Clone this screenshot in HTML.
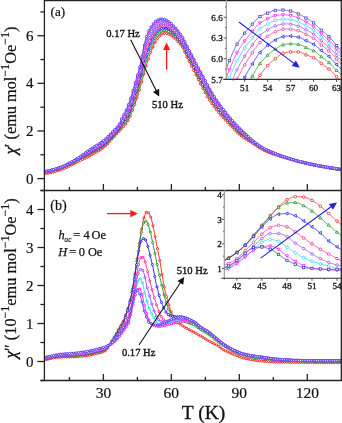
<!DOCTYPE html>
<html><head><meta charset="utf-8"><style>html,body{margin:0;padding:0;background:#fff;overflow:hidden}svg{display:block;will-change:transform}text{font-family:"Liberation Serif",serif}</style></head><body>
<svg width="342" height="423" viewBox="0 0 342 423">
<defs>
<clipPath id="ca"><rect x="44.5" y="0" width="297" height="190.5"/></clipPath>
<clipPath id="cb"><rect x="44.5" y="190.5" width="297" height="190"/></clipPath>
<clipPath id="cia"><rect x="226.3" y="0.0" width="114.89999999999998" height="79.4"/></clipPath>
<clipPath id="cib"><rect x="224.3" y="190.0" width="116.89999999999998" height="88.19999999999999"/></clipPath>
</defs>
<rect width="342" height="423" fill="#fff"/>
<g stroke="#ff1a1a" fill="none" clip-path="url(#ca)"><polyline points="44.5,173.8 45.1,173.8 45.6,173.7 46.2,173.6 46.8,173.5 47.3,173.4 47.9,173.3 48.5,173.2 49.0,173.1 49.6,172.9 50.2,172.8 50.7,172.7 51.3,172.5 51.9,172.4 52.4,172.3 53.0,172.1 53.6,172.0 54.1,171.8 54.7,171.7 55.3,171.5 55.8,171.3 56.4,171.2 57.0,171.0 57.5,170.8 58.1,170.6 58.7,170.5 59.2,170.3 59.8,170.1 60.4,169.9 60.9,169.7 61.5,169.6 62.1,169.4 62.6,169.2 63.2,168.9 63.8,168.7 64.3,168.5 64.9,168.2 65.5,168.0 66.0,167.7 66.6,167.5 67.2,167.2 67.7,166.9 68.3,166.6 68.9,166.3 69.4,166.0 70.0,165.7 70.6,165.4 71.1,165.1 71.7,164.8 72.3,164.6 72.8,164.3 73.4,164.0 74.0,163.7 74.5,163.4 75.1,163.1 75.7,162.8 76.2,162.5 76.8,162.2 77.3,162.0 77.9,161.7 78.5,161.4 79.0,161.1 79.6,160.9 80.2,160.6 80.7,160.3 81.3,160.0 81.9,159.8 82.4,159.5 83.0,159.2 83.6,158.9 84.1,158.7 84.7,158.4 85.3,158.1 85.8,157.8 86.4,157.6 87.0,157.3 87.5,157.0 88.1,156.7 88.7,156.4 89.2,156.1 89.8,155.8 90.4,155.5 90.9,155.2 91.5,154.9 92.1,154.6 92.6,154.3 93.2,154.0 93.8,153.7 94.3,153.3 94.9,153.0 95.5,152.7 96.0,152.4 96.6,152.1 97.2,151.8 97.7,151.4 98.3,151.1 98.9,150.7 99.4,150.4 100.0,150.0 100.6,149.6 101.1,149.2 101.7,148.8 102.3,148.4 102.8,148.0 103.4,147.6 104.0,147.1 104.5,146.7 105.1,146.2 105.7,145.7 106.2,145.2 106.8,144.6 107.4,144.1 107.9,143.5 108.5,142.9 109.1,142.3 109.6,141.6 110.2,141.0 110.8,140.4 111.3,139.8 111.9,139.1 112.5,138.5 113.0,137.9 113.6,137.3 114.2,136.7 114.7,136.0 115.3,135.4 115.9,134.8 116.4,134.2 117.0,133.5 117.6,132.9 118.1,132.3 118.7,131.7 119.3,131.0 119.8,130.4 120.4,129.8 121.0,129.3 121.5,128.7 122.1,128.1 122.7,127.5 123.2,126.9 123.8,126.3 124.4,125.6 124.9,125.0 125.5,124.3 126.1,123.6 126.6,122.9 127.2,122.1 127.8,121.2 128.3,120.3 128.9,119.2 129.5,118.1 130.0,116.8 130.6,115.5 131.2,114.1 131.7,112.6 132.3,111.1 132.9,109.6 133.4,108.1 134.0,106.6 134.6,105.1 135.1,103.6 135.7,102.0 136.3,100.3 136.8,98.5 137.4,96.7 138.0,94.8 138.5,92.9 139.1,91.0 139.7,89.1 140.2,87.1 140.8,85.2 141.4,83.2 141.9,81.2 142.5,79.2 143.0,77.2 143.6,75.1 144.2,73.1 144.7,71.1 145.3,69.1 145.9,67.2 146.4,65.3 147.0,63.4 147.6,61.6 148.1,59.8 148.7,58.1 149.3,56.4 149.8,54.8 150.4,53.2 151.0,51.7 151.5,50.2 152.1,48.9 152.7,47.5 153.2,46.2 153.8,44.9 154.4,43.7 154.9,42.5 155.5,41.5 156.1,40.5 156.6,39.6 157.2,38.8 157.8,38.1 158.3,37.5 158.9,36.8 159.5,36.3 160.0,35.7 160.6,35.2 161.2,34.7 161.7,34.2 162.3,33.9 162.9,33.7 163.4,33.6 164.0,33.5 164.6,33.4 165.1,33.4 165.7,33.4 166.3,33.4 166.8,33.4 167.4,33.5 168.0,33.8 168.5,34.1 169.1,34.4 169.7,34.7 170.2,34.9 170.8,35.1 171.4,35.4 171.9,35.8 172.5,36.3 173.1,36.8 173.6,37.4 174.2,37.8 174.8,38.3 175.3,38.8 175.9,39.3 176.5,39.9 177.0,40.6 177.6,41.2 178.2,41.9 178.7,42.6 179.3,43.2 179.9,43.9 180.4,44.5 181.0,45.2 181.6,46.0 182.1,46.8 182.7,47.6 183.3,48.7 183.8,50.0 184.4,51.3 185.0,52.7 185.5,54.0 186.1,55.3 186.7,56.4 187.2,57.5 187.8,58.6 188.4,59.7 188.9,60.8 189.5,61.9 190.1,63.0 190.6,64.2 191.2,65.3 191.8,66.4 192.3,67.6 192.9,68.7 193.5,69.9 194.0,71.0 194.6,72.2 195.2,73.3 195.7,74.5 196.3,75.6 196.9,76.7 197.4,77.9 198.0,79.0 198.6,80.1 199.1,81.2 199.7,82.3 200.3,83.4 200.8,84.5 201.4,85.7 202.0,86.8 202.5,87.9 203.1,89.0 203.7,90.1 204.2,91.1 204.8,92.2 205.4,93.2 205.9,94.2 206.5,95.2 207.0,96.2 207.6,97.1 208.2,98.1 208.7,99.0 209.3,99.8 209.9,100.7 210.4,101.5 211.0,102.4 211.6,103.2 212.1,104.0 212.7,104.8 213.3,105.6 213.8,106.3 214.4,107.1 215.0,107.9 215.5,108.6 216.1,109.3 216.7,110.1 217.2,110.8 217.8,111.5 218.4,112.2 218.9,112.9 219.5,113.6 220.1,114.2 220.6,114.9 221.2,115.6 221.8,116.2 222.3,116.9 222.9,117.5 223.5,118.1 224.0,118.7 224.6,119.3 225.2,119.9 225.7,120.5 226.3,121.1 226.9,121.7 227.4,122.3 228.0,122.9 228.6,123.5 229.1,124.1 229.7,124.7 230.3,125.3 230.8,125.9 231.4,126.4 232.0,127.0 232.5,127.6 233.1,128.2 233.7,128.8 234.2,129.4 234.8,130.0 235.4,130.6 235.9,131.1 236.5,131.7 237.1,132.3 237.6,132.8 238.2,133.3 238.8,133.8 239.3,134.3 239.9,134.8 240.5,135.3 241.0,135.7 241.6,136.1 242.2,136.6 242.7,137.0 243.3,137.4 243.9,137.8 244.4,138.2 245.0,138.6 245.6,138.9 246.1,139.3 246.7,139.7 247.3,140.0 247.8,140.4 248.4,140.7 249.0,141.1 249.5,141.4 250.1,141.8 250.7,142.1 251.2,142.5 251.8,142.8 252.4,143.2 252.9,143.5 253.5,143.9 254.1,144.2 254.6,144.6 255.2,144.9 255.8,145.3 256.3,145.7 256.9,146.1 257.5,146.4 258.0,146.8 258.6,147.2 259.2,147.6 259.7,147.9 260.3,148.3 260.9,148.7 261.4,149.0 262.0,149.3 262.6,149.6 263.1,149.9 263.7,150.2 264.3,150.5 264.8,150.7 265.4,151.0 266.0,151.3 266.5,151.5 267.1,151.8 267.7,152.0 268.2,152.2 268.8,152.5 269.4,152.7 269.9,152.9 270.5,153.1 271.0,153.3 271.6,153.6 272.2,153.8 272.7,154.0 273.3,154.2 273.9,154.4 274.4,154.6 275.0,154.8 275.6,155.0 276.1,155.1 276.7,155.3 277.3,155.5 277.8,155.7 278.4,155.9 279.0,156.0 279.5,156.2 280.1,156.4 280.7,156.5 281.2,156.7 281.8,156.9 282.4,157.0 282.9,157.2 283.5,157.4 284.1,157.5 284.6,157.7 285.2,157.8 285.8,158.0 286.3,158.2 286.9,158.3 287.5,158.5 288.0,158.6 288.6,158.8 289.2,158.9 289.7,159.1 290.3,159.3 290.9,159.4 291.4,159.6 292.0,159.7 292.6,159.9 293.1,160.1 293.7,160.2 294.3,160.4 294.8,160.5 295.4,160.7 296.0,160.9 296.5,161.0 297.1,161.2 297.7,161.3 298.2,161.5 298.8,161.6 299.4,161.8 299.9,161.9 300.5,162.0 301.1,162.2 301.6,162.3 302.2,162.5 302.8,162.6 303.3,162.7 303.9,162.9 304.5,163.0 305.0,163.1 305.6,163.3 306.2,163.4 306.7,163.5 307.3,163.7 307.9,163.8 308.4,163.9 309.0,164.0 309.6,164.2 310.1,164.3 310.7,164.4 311.3,164.5 311.8,164.7 312.4,164.8 313.0,164.9 313.5,165.0 314.1,165.1 314.7,165.2 315.2,165.4 315.8,165.5 316.4,165.6 316.9,165.7 317.5,165.8 318.1,165.9 318.6,166.0 319.2,166.1 319.8,166.2 320.3,166.3 320.9,166.5 321.5,166.6 322.0,166.7 322.6,166.8 323.2,166.9 323.7,167.0 324.3,167.1 324.9,167.2 325.4,167.3 326.0,167.4 326.6,167.5 327.1,167.6 327.7,167.7 328.3,167.8 328.8,167.9 329.4,168.0 330.0,168.1 330.5,168.2 331.1,168.2 331.7,168.3 332.2,168.4 332.8,168.5 333.4,168.6 333.9,168.7 334.5,168.8 335.1,168.9 335.6,169.0 336.2,169.1 336.7,169.1 337.3,169.2 337.9,169.3 338.4,169.4 339.0,169.5 339.6,169.6 340.1,169.6 340.7,169.7 341.3,169.8 341.8,169.9 342.4,169.9" stroke-width="0.9"/><g fill="#fff" stroke-width="0.95"><circle cx="46.5" cy="173.5" r="1.05"/><circle cx="48.7" cy="173.1" r="1.05"/><circle cx="51.0" cy="172.6" r="1.05"/><circle cx="53.3" cy="172.0" r="1.05"/><circle cx="55.5" cy="171.4" r="1.05"/><circle cx="57.8" cy="170.7" r="1.05"/><circle cx="60.1" cy="170.0" r="1.05"/><circle cx="62.3" cy="169.3" r="1.05"/><circle cx="64.6" cy="168.4" r="1.05"/><circle cx="66.9" cy="167.3" r="1.05"/><circle cx="69.1" cy="166.2" r="1.05"/><circle cx="71.4" cy="165.0" r="1.05"/><circle cx="73.7" cy="163.8" r="1.05"/><circle cx="75.9" cy="162.6" r="1.05"/><circle cx="78.2" cy="161.5" r="1.05"/><circle cx="80.5" cy="160.4" r="1.05"/><circle cx="82.7" cy="159.4" r="1.05"/><circle cx="85.0" cy="158.3" r="1.05"/><circle cx="87.3" cy="157.1" r="1.05"/><circle cx="89.5" cy="156.0" r="1.05"/><circle cx="91.8" cy="154.7" r="1.05"/><circle cx="94.1" cy="153.5" r="1.05"/><circle cx="96.3" cy="152.2" r="1.05"/><circle cx="98.6" cy="150.9" r="1.05"/><circle cx="100.9" cy="149.4" r="1.05"/><circle cx="103.1" cy="147.8" r="1.05"/><circle cx="105.4" cy="145.9" r="1.05"/><circle cx="107.7" cy="143.8" r="1.05"/><circle cx="109.9" cy="141.3" r="1.05"/><circle cx="112.2" cy="138.8" r="1.05"/><circle cx="114.4" cy="136.4" r="1.05"/><circle cx="116.7" cy="133.8" r="1.05"/><circle cx="119.0" cy="131.4" r="1.05"/><circle cx="121.2" cy="129.0" r="1.05"/><circle cx="123.5" cy="126.6" r="1.05"/><circle cx="125.8" cy="124.0" r="1.05"/><circle cx="128.0" cy="120.7" r="1.05"/><circle cx="130.3" cy="116.2" r="1.05"/><circle cx="132.6" cy="110.3" r="1.05"/><circle cx="134.8" cy="104.4" r="1.05"/><circle cx="137.1" cy="97.6" r="1.05"/><circle cx="139.4" cy="90.0" r="1.05"/><circle cx="141.6" cy="82.2" r="1.05"/><circle cx="143.9" cy="74.1" r="1.05"/><circle cx="146.2" cy="66.2" r="1.05"/><circle cx="148.4" cy="59.0" r="1.05"/><circle cx="150.7" cy="52.4" r="1.05"/><circle cx="153.0" cy="46.9" r="1.05"/><circle cx="155.2" cy="42.0" r="1.05"/><circle cx="157.5" cy="38.5" r="1.05"/><circle cx="159.8" cy="36.0" r="1.05"/><circle cx="162.0" cy="34.1" r="1.05"/><circle cx="164.3" cy="33.4" r="1.05"/><circle cx="166.6" cy="33.4" r="1.05"/><circle cx="168.8" cy="34.3" r="1.05"/><circle cx="171.1" cy="35.3" r="1.05"/><circle cx="173.4" cy="37.1" r="1.05"/><circle cx="175.6" cy="39.0" r="1.05"/><circle cx="177.9" cy="41.6" r="1.05"/><circle cx="180.1" cy="44.2" r="1.05"/><circle cx="182.4" cy="47.2" r="1.05"/><circle cx="184.7" cy="52.0" r="1.05"/><circle cx="186.9" cy="57.0" r="1.05"/><circle cx="189.2" cy="61.4" r="1.05"/><circle cx="191.5" cy="65.9" r="1.05"/><circle cx="193.7" cy="70.4" r="1.05"/><circle cx="196.0" cy="75.0" r="1.05"/><circle cx="198.3" cy="79.5" r="1.05"/><circle cx="200.5" cy="84.0" r="1.05"/><circle cx="202.8" cy="88.4" r="1.05"/><circle cx="205.1" cy="92.7" r="1.05"/><circle cx="207.3" cy="96.7" r="1.05"/><circle cx="209.6" cy="100.3" r="1.05"/><circle cx="211.9" cy="103.6" r="1.05"/><circle cx="214.1" cy="106.7" r="1.05"/><circle cx="216.4" cy="109.7" r="1.05"/><circle cx="218.7" cy="112.5" r="1.05"/><circle cx="220.9" cy="115.2" r="1.05"/><circle cx="223.2" cy="117.8" r="1.05"/><circle cx="225.5" cy="120.2" r="1.05"/><circle cx="227.7" cy="122.6" r="1.05"/><circle cx="230.0" cy="125.0" r="1.05"/><circle cx="232.3" cy="127.3" r="1.05"/><circle cx="234.5" cy="129.7" r="1.05"/><circle cx="236.8" cy="132.0" r="1.05"/><circle cx="239.0" cy="134.1" r="1.05"/><circle cx="241.3" cy="135.9" r="1.05"/><circle cx="243.6" cy="137.6" r="1.05"/><circle cx="245.8" cy="139.1" r="1.05"/><circle cx="248.1" cy="140.5" r="1.05"/><circle cx="250.4" cy="141.9" r="1.05"/><circle cx="252.6" cy="143.3" r="1.05"/><circle cx="254.9" cy="144.8" r="1.05"/><circle cx="257.2" cy="146.3" r="1.05"/><circle cx="259.4" cy="147.8" r="1.05"/><circle cx="261.7" cy="149.1" r="1.05"/><circle cx="264.0" cy="150.3" r="1.05"/><circle cx="266.2" cy="151.4" r="1.05"/><circle cx="268.5" cy="152.4" r="1.05"/><circle cx="270.8" cy="153.2" r="1.05"/><circle cx="273.0" cy="154.1" r="1.05"/><circle cx="275.3" cy="154.9" r="1.05"/><circle cx="277.6" cy="155.6" r="1.05"/><circle cx="279.8" cy="156.3" r="1.05"/><circle cx="282.1" cy="157.0" r="1.05"/><circle cx="284.4" cy="157.6" r="1.05"/><circle cx="286.6" cy="158.2" r="1.05"/><circle cx="288.9" cy="158.9" r="1.05"/><circle cx="291.2" cy="159.5" r="1.05"/><circle cx="293.4" cy="160.1" r="1.05"/><circle cx="295.7" cy="160.8" r="1.05"/><circle cx="298.0" cy="161.4" r="1.05"/><circle cx="300.2" cy="162.0" r="1.05"/><circle cx="302.5" cy="162.5" r="1.05"/><circle cx="304.7" cy="163.1" r="1.05"/><circle cx="307.0" cy="163.6" r="1.05"/><circle cx="309.3" cy="164.1" r="1.05"/><circle cx="311.5" cy="164.6" r="1.05"/><circle cx="313.8" cy="165.1" r="1.05"/><circle cx="316.1" cy="165.5" r="1.05"/><circle cx="318.3" cy="166.0" r="1.05"/><circle cx="320.6" cy="166.4" r="1.05"/><circle cx="322.9" cy="166.8" r="1.05"/><circle cx="325.1" cy="167.2" r="1.05"/><circle cx="327.4" cy="167.6" r="1.05"/><circle cx="329.7" cy="168.0" r="1.05"/><circle cx="331.9" cy="168.4" r="1.05"/><circle cx="334.2" cy="168.7" r="1.05"/><circle cx="336.5" cy="169.1" r="1.05"/><circle cx="338.7" cy="169.4" r="1.05"/><circle cx="341.0" cy="169.8" r="1.05"/><circle cx="343.3" cy="170.1" r="1.05"/></g></g>
<g stroke="#1a901a" fill="none" clip-path="url(#ca)"><polyline points="44.5,172.2 45.1,172.1 45.6,172.1 46.2,172.0 46.8,171.9 47.3,171.8 47.9,171.7 48.5,171.5 49.0,171.4 49.6,171.3 50.2,171.2 50.7,171.0 51.3,170.9 51.9,170.8 52.4,170.6 53.0,170.5 53.6,170.3 54.1,170.1 54.7,170.0 55.3,169.8 55.8,169.7 56.4,169.5 57.0,169.3 57.5,169.1 58.1,169.0 58.7,168.8 59.2,168.6 59.8,168.4 60.4,168.2 60.9,168.0 61.5,167.8 62.1,167.6 62.6,167.4 63.2,167.2 63.8,167.0 64.3,166.7 64.9,166.5 65.5,166.2 66.0,166.0 66.6,165.7 67.2,165.4 67.7,165.2 68.3,164.9 68.9,164.6 69.4,164.3 70.0,164.0 70.6,163.7 71.1,163.4 71.7,163.1 72.3,162.8 72.8,162.5 73.4,162.2 74.0,161.9 74.5,161.6 75.1,161.3 75.7,161.0 76.2,160.7 76.8,160.4 77.3,160.1 77.9,159.8 78.5,159.5 79.0,159.2 79.6,158.9 80.2,158.6 80.7,158.3 81.3,158.0 81.9,157.7 82.4,157.4 83.0,157.1 83.6,156.8 84.1,156.5 84.7,156.2 85.3,155.9 85.8,155.6 86.4,155.3 87.0,155.0 87.5,154.7 88.1,154.4 88.7,154.1 89.2,153.8 89.8,153.5 90.4,153.2 90.9,152.9 91.5,152.6 92.1,152.3 92.6,152.0 93.2,151.7 93.8,151.4 94.3,151.1 94.9,150.8 95.5,150.5 96.0,150.2 96.6,149.9 97.2,149.6 97.7,149.3 98.3,149.0 98.9,148.7 99.4,148.3 100.0,148.0 100.6,147.6 101.1,147.3 101.7,146.9 102.3,146.5 102.8,146.1 103.4,145.7 104.0,145.3 104.5,144.9 105.1,144.4 105.7,143.9 106.2,143.5 106.8,142.9 107.4,142.4 107.9,141.9 108.5,141.3 109.1,140.7 109.6,140.1 110.2,139.5 110.8,138.9 111.3,138.3 111.9,137.7 112.5,137.1 113.0,136.5 113.6,135.9 114.2,135.3 114.7,134.7 115.3,134.1 115.9,133.5 116.4,132.9 117.0,132.3 117.6,131.6 118.1,131.0 118.7,130.3 119.3,129.7 119.8,129.0 120.4,128.2 121.0,127.5 121.5,126.8 122.1,126.0 122.7,125.3 123.2,124.6 123.8,123.9 124.4,123.2 124.9,122.5 125.5,121.7 126.1,120.9 126.6,120.1 127.2,119.2 127.8,118.2 128.3,117.2 128.9,116.0 129.5,114.8 130.0,113.4 130.6,112.1 131.2,110.6 131.7,109.0 132.3,107.4 132.9,105.8 133.4,104.2 134.0,102.6 134.6,101.1 135.1,99.4 135.7,97.7 136.3,96.0 136.8,94.2 137.4,92.4 138.0,90.5 138.5,88.6 139.1,86.7 139.7,84.7 140.2,82.6 140.8,80.5 141.4,78.4 141.9,76.2 142.5,74.1 143.0,71.9 143.6,69.7 144.2,67.6 144.7,65.4 145.3,63.4 145.9,61.4 146.4,59.5 147.0,57.7 147.6,56.0 148.1,54.3 148.7,52.7 149.3,51.1 149.8,49.6 150.4,48.2 151.0,46.8 151.5,45.4 152.1,44.2 152.7,43.0 153.2,41.8 153.8,40.6 154.4,39.5 154.9,38.4 155.5,37.4 156.1,36.6 156.6,35.9 157.2,35.2 157.8,34.5 158.3,33.9 158.9,33.4 159.5,32.9 160.0,32.4 160.6,32.0 161.2,31.6 161.7,31.2 162.3,31.0 162.9,30.8 163.4,30.7 164.0,30.6 164.6,30.6 165.1,30.6 165.7,30.7 166.3,30.7 166.8,30.8 167.4,31.0 168.0,31.2 168.5,31.6 169.1,31.9 169.7,32.2 170.2,32.4 170.8,32.7 171.4,33.0 171.9,33.5 172.5,34.0 173.1,34.5 173.6,35.1 174.2,35.6 174.8,36.0 175.3,36.5 175.9,37.1 176.5,37.7 177.0,38.4 177.6,39.1 178.2,39.8 178.7,40.5 179.3,41.1 179.9,41.8 180.4,42.5 181.0,43.2 181.6,43.9 182.1,44.7 182.7,45.6 183.3,46.6 183.8,47.9 184.4,49.2 185.0,50.5 185.5,51.8 186.1,53.0 186.7,54.2 187.2,55.3 187.8,56.4 188.4,57.4 188.9,58.5 189.5,59.6 190.1,60.7 190.6,61.8 191.2,62.9 191.8,64.0 192.3,65.1 192.9,66.2 193.5,67.3 194.0,68.4 194.6,69.5 195.2,70.6 195.7,71.7 196.3,72.8 196.9,73.9 197.4,75.0 198.0,76.1 198.6,77.2 199.1,78.2 199.7,79.3 200.3,80.4 200.8,81.5 201.4,82.6 202.0,83.6 202.5,84.7 203.1,85.8 203.7,86.8 204.2,87.9 204.8,88.9 205.4,90.0 205.9,91.0 206.5,92.0 207.0,93.0 207.6,93.9 208.2,94.9 208.7,95.8 209.3,96.7 209.9,97.6 210.4,98.5 211.0,99.4 211.6,100.2 212.1,101.0 212.7,101.9 213.3,102.7 213.8,103.5 214.4,104.3 215.0,105.0 215.5,105.8 216.1,106.6 216.7,107.3 217.2,108.0 217.8,108.8 218.4,109.5 218.9,110.2 219.5,110.9 220.1,111.6 220.6,112.3 221.2,113.0 221.8,113.7 222.3,114.3 222.9,115.0 223.5,115.6 224.0,116.3 224.6,116.9 225.2,117.5 225.7,118.2 226.3,118.8 226.9,119.4 227.4,120.0 228.0,120.6 228.6,121.2 229.1,121.9 229.7,122.5 230.3,123.1 230.8,123.7 231.4,124.3 232.0,124.9 232.5,125.5 233.1,126.1 233.7,126.7 234.2,127.3 234.8,127.9 235.4,128.5 235.9,129.0 236.5,129.6 237.1,130.2 237.6,130.7 238.2,131.2 238.8,131.8 239.3,132.3 239.9,132.8 240.5,133.3 241.0,133.7 241.6,134.2 242.2,134.6 242.7,135.1 243.3,135.5 243.9,135.9 244.4,136.3 245.0,136.8 245.6,137.2 246.1,137.6 246.7,138.0 247.3,138.4 247.8,138.8 248.4,139.1 249.0,139.5 249.5,139.9 250.1,140.3 250.7,140.7 251.2,141.1 251.8,141.4 252.4,141.8 252.9,142.2 253.5,142.6 254.1,142.9 254.6,143.3 255.2,143.7 255.8,144.1 256.3,144.5 256.9,144.9 257.5,145.3 258.0,145.7 258.6,146.0 259.2,146.4 259.7,146.8 260.3,147.1 260.9,147.5 261.4,147.8 262.0,148.2 262.6,148.5 263.1,148.8 263.7,149.1 264.3,149.3 264.8,149.6 265.4,149.9 266.0,150.2 266.5,150.4 267.1,150.7 267.7,151.0 268.2,151.2 268.8,151.5 269.4,151.7 269.9,151.9 270.5,152.2 271.0,152.4 271.6,152.6 272.2,152.9 272.7,153.1 273.3,153.3 273.9,153.5 274.4,153.8 275.0,154.0 275.6,154.2 276.1,154.4 276.7,154.6 277.3,154.8 277.8,155.0 278.4,155.2 279.0,155.4 279.5,155.6 280.1,155.8 280.7,156.0 281.2,156.2 281.8,156.4 282.4,156.6 282.9,156.8 283.5,157.0 284.1,157.2 284.6,157.3 285.2,157.5 285.8,157.7 286.3,157.9 286.9,158.1 287.5,158.2 288.0,158.4 288.6,158.6 289.2,158.8 289.7,158.9 290.3,159.1 290.9,159.3 291.4,159.4 292.0,159.6 292.6,159.8 293.1,159.9 293.7,160.1 294.3,160.3 294.8,160.4 295.4,160.6 296.0,160.8 296.5,160.9 297.1,161.1 297.7,161.2 298.2,161.4 298.8,161.5 299.4,161.7 299.9,161.8 300.5,162.0 301.1,162.1 301.6,162.2 302.2,162.4 302.8,162.5 303.3,162.6 303.9,162.8 304.5,162.9 305.0,163.0 305.6,163.2 306.2,163.3 306.7,163.4 307.3,163.6 307.9,163.7 308.4,163.8 309.0,164.0 309.6,164.1 310.1,164.2 310.7,164.3 311.3,164.4 311.8,164.6 312.4,164.7 313.0,164.8 313.5,164.9 314.1,165.0 314.7,165.2 315.2,165.3 315.8,165.4 316.4,165.5 316.9,165.6 317.5,165.7 318.1,165.8 318.6,165.9 319.2,166.0 319.8,166.1 320.3,166.3 320.9,166.4 321.5,166.5 322.0,166.6 322.6,166.7 323.2,166.8 323.7,166.9 324.3,167.0 324.9,167.1 325.4,167.2 326.0,167.3 326.6,167.4 327.1,167.5 327.7,167.6 328.3,167.7 328.8,167.8 329.4,167.9 330.0,168.0 330.5,168.1 331.1,168.2 331.7,168.2 332.2,168.3 332.8,168.4 333.4,168.5 333.9,168.6 334.5,168.7 335.1,168.8 335.6,168.9 336.2,169.0 336.7,169.0 337.3,169.1 337.9,169.2 338.4,169.3 339.0,169.4 339.6,169.5 340.1,169.5 340.7,169.6 341.3,169.7 341.8,169.8 342.4,169.8" stroke-width="0.9"/><g fill="#fff" stroke-width="0.95"><circle cx="46.2" cy="172.0" r="1.05"/><circle cx="48.5" cy="171.5" r="1.05"/><circle cx="50.7" cy="171.0" r="1.05"/><circle cx="53.0" cy="170.5" r="1.05"/><circle cx="55.3" cy="169.8" r="1.05"/><circle cx="57.5" cy="169.1" r="1.05"/><circle cx="59.8" cy="168.4" r="1.05"/><circle cx="62.1" cy="167.6" r="1.05"/><circle cx="64.3" cy="166.7" r="1.05"/><circle cx="66.6" cy="165.7" r="1.05"/><circle cx="68.9" cy="164.6" r="1.05"/><circle cx="71.1" cy="163.4" r="1.05"/><circle cx="73.4" cy="162.2" r="1.05"/><circle cx="75.7" cy="161.0" r="1.05"/><circle cx="77.9" cy="159.8" r="1.05"/><circle cx="80.2" cy="158.6" r="1.05"/><circle cx="82.4" cy="157.4" r="1.05"/><circle cx="84.7" cy="156.2" r="1.05"/><circle cx="87.0" cy="155.0" r="1.05"/><circle cx="89.2" cy="153.8" r="1.05"/><circle cx="91.5" cy="152.6" r="1.05"/><circle cx="93.8" cy="151.4" r="1.05"/><circle cx="96.0" cy="150.2" r="1.05"/><circle cx="98.3" cy="149.0" r="1.05"/><circle cx="100.6" cy="147.6" r="1.05"/><circle cx="102.8" cy="146.1" r="1.05"/><circle cx="105.1" cy="144.4" r="1.05"/><circle cx="107.4" cy="142.4" r="1.05"/><circle cx="109.6" cy="140.1" r="1.05"/><circle cx="111.9" cy="137.7" r="1.05"/><circle cx="114.2" cy="135.3" r="1.05"/><circle cx="116.4" cy="132.9" r="1.05"/><circle cx="118.7" cy="130.3" r="1.05"/><circle cx="121.0" cy="127.5" r="1.05"/><circle cx="123.2" cy="124.6" r="1.05"/><circle cx="125.5" cy="121.7" r="1.05"/><circle cx="127.8" cy="118.2" r="1.05"/><circle cx="130.0" cy="113.4" r="1.05"/><circle cx="132.3" cy="107.4" r="1.05"/><circle cx="134.6" cy="101.1" r="1.05"/><circle cx="136.8" cy="94.2" r="1.05"/><circle cx="139.1" cy="86.7" r="1.05"/><circle cx="141.4" cy="78.4" r="1.05"/><circle cx="143.6" cy="69.7" r="1.05"/><circle cx="145.9" cy="61.4" r="1.05"/><circle cx="148.1" cy="54.3" r="1.05"/><circle cx="150.4" cy="48.2" r="1.05"/><circle cx="152.7" cy="43.0" r="1.05"/><circle cx="154.9" cy="38.4" r="1.05"/><circle cx="157.2" cy="35.2" r="1.05"/><circle cx="159.5" cy="32.9" r="1.05"/><circle cx="161.7" cy="31.2" r="1.05"/><circle cx="164.0" cy="30.6" r="1.05"/><circle cx="166.3" cy="30.7" r="1.05"/><circle cx="168.5" cy="31.6" r="1.05"/><circle cx="170.8" cy="32.7" r="1.05"/><circle cx="173.1" cy="34.5" r="1.05"/><circle cx="175.3" cy="36.5" r="1.05"/><circle cx="177.6" cy="39.1" r="1.05"/><circle cx="179.9" cy="41.8" r="1.05"/><circle cx="182.1" cy="44.7" r="1.05"/><circle cx="184.4" cy="49.2" r="1.05"/><circle cx="186.7" cy="54.2" r="1.05"/><circle cx="188.9" cy="58.5" r="1.05"/><circle cx="191.2" cy="62.9" r="1.05"/><circle cx="193.5" cy="67.3" r="1.05"/><circle cx="195.7" cy="71.7" r="1.05"/><circle cx="198.0" cy="76.1" r="1.05"/><circle cx="200.3" cy="80.4" r="1.05"/><circle cx="202.5" cy="84.7" r="1.05"/><circle cx="204.8" cy="88.9" r="1.05"/><circle cx="207.0" cy="93.0" r="1.05"/><circle cx="209.3" cy="96.7" r="1.05"/><circle cx="211.6" cy="100.2" r="1.05"/><circle cx="213.8" cy="103.5" r="1.05"/><circle cx="216.1" cy="106.6" r="1.05"/><circle cx="218.4" cy="109.5" r="1.05"/><circle cx="220.6" cy="112.3" r="1.05"/><circle cx="222.9" cy="115.0" r="1.05"/><circle cx="225.2" cy="117.5" r="1.05"/><circle cx="227.4" cy="120.0" r="1.05"/><circle cx="229.7" cy="122.5" r="1.05"/><circle cx="232.0" cy="124.9" r="1.05"/><circle cx="234.2" cy="127.3" r="1.05"/><circle cx="236.5" cy="129.6" r="1.05"/><circle cx="238.8" cy="131.8" r="1.05"/><circle cx="241.0" cy="133.7" r="1.05"/><circle cx="243.3" cy="135.5" r="1.05"/><circle cx="245.6" cy="137.2" r="1.05"/><circle cx="247.8" cy="138.8" r="1.05"/><circle cx="250.1" cy="140.3" r="1.05"/><circle cx="252.4" cy="141.8" r="1.05"/><circle cx="254.6" cy="143.3" r="1.05"/><circle cx="256.9" cy="144.9" r="1.05"/><circle cx="259.2" cy="146.4" r="1.05"/><circle cx="261.4" cy="147.8" r="1.05"/><circle cx="263.7" cy="149.1" r="1.05"/><circle cx="266.0" cy="150.2" r="1.05"/><circle cx="268.2" cy="151.2" r="1.05"/><circle cx="270.5" cy="152.2" r="1.05"/><circle cx="272.7" cy="153.1" r="1.05"/><circle cx="275.0" cy="154.0" r="1.05"/><circle cx="277.3" cy="154.8" r="1.05"/><circle cx="279.5" cy="155.6" r="1.05"/><circle cx="281.8" cy="156.4" r="1.05"/><circle cx="284.1" cy="157.2" r="1.05"/><circle cx="286.3" cy="157.9" r="1.05"/><circle cx="288.6" cy="158.6" r="1.05"/><circle cx="290.9" cy="159.3" r="1.05"/><circle cx="293.1" cy="159.9" r="1.05"/><circle cx="295.4" cy="160.6" r="1.05"/><circle cx="297.7" cy="161.2" r="1.05"/><circle cx="299.9" cy="161.8" r="1.05"/><circle cx="302.2" cy="162.4" r="1.05"/><circle cx="304.5" cy="162.9" r="1.05"/><circle cx="306.7" cy="163.4" r="1.05"/><circle cx="309.0" cy="164.0" r="1.05"/><circle cx="311.3" cy="164.4" r="1.05"/><circle cx="313.5" cy="164.9" r="1.05"/><circle cx="315.8" cy="165.4" r="1.05"/><circle cx="318.1" cy="165.8" r="1.05"/><circle cx="320.3" cy="166.3" r="1.05"/><circle cx="322.6" cy="166.7" r="1.05"/><circle cx="324.9" cy="167.1" r="1.05"/><circle cx="327.1" cy="167.5" r="1.05"/><circle cx="329.4" cy="167.9" r="1.05"/><circle cx="331.7" cy="168.2" r="1.05"/><circle cx="333.9" cy="168.6" r="1.05"/><circle cx="336.2" cy="169.0" r="1.05"/><circle cx="338.4" cy="169.3" r="1.05"/><circle cx="340.7" cy="169.6" r="1.05"/><circle cx="343.0" cy="169.9" r="1.05"/></g></g>
<g stroke="#1818f0" fill="none" clip-path="url(#ca)"><polyline points="44.5,172.0 45.1,172.0 45.6,171.9 46.2,171.8 46.8,171.7 47.3,171.6 47.9,171.5 48.5,171.3 49.0,171.2 49.6,171.1 50.2,171.0 50.7,170.8 51.3,170.7 51.9,170.5 52.4,170.4 53.0,170.2 53.6,170.1 54.1,169.9 54.7,169.8 55.3,169.6 55.8,169.4 56.4,169.2 57.0,169.1 57.5,168.9 58.1,168.7 58.7,168.5 59.2,168.3 59.8,168.1 60.4,168.0 60.9,167.8 61.5,167.6 62.1,167.4 62.6,167.2 63.2,166.9 63.8,166.7 64.3,166.5 64.9,166.2 65.5,166.0 66.0,165.7 66.6,165.4 67.2,165.1 67.7,164.9 68.3,164.6 68.9,164.3 69.4,164.0 70.0,163.7 70.6,163.4 71.1,163.1 71.7,162.7 72.3,162.4 72.8,162.1 73.4,161.8 74.0,161.5 74.5,161.2 75.1,160.9 75.7,160.6 76.2,160.3 76.8,160.0 77.3,159.7 77.9,159.4 78.5,159.1 79.0,158.8 79.6,158.4 80.2,158.1 80.7,157.8 81.3,157.5 81.9,157.2 82.4,156.8 83.0,156.5 83.6,156.2 84.1,155.9 84.7,155.5 85.3,155.2 85.8,154.9 86.4,154.6 87.0,154.2 87.5,153.9 88.1,153.6 88.7,153.2 89.2,152.9 89.8,152.6 90.4,152.3 90.9,151.9 91.5,151.6 92.1,151.3 92.6,151.0 93.2,150.7 93.8,150.4 94.3,150.0 94.9,149.7 95.5,149.4 96.0,149.1 96.6,148.8 97.2,148.5 97.7,148.2 98.3,147.9 98.9,147.5 99.4,147.2 100.0,146.8 100.6,146.5 101.1,146.1 101.7,145.7 102.3,145.3 102.8,144.9 103.4,144.5 104.0,144.1 104.5,143.6 105.1,143.2 105.7,142.7 106.2,142.2 106.8,141.7 107.4,141.1 107.9,140.6 108.5,140.0 109.1,139.4 109.6,138.9 110.2,138.3 110.8,137.7 111.3,137.1 111.9,136.5 112.5,135.9 113.0,135.3 113.6,134.7 114.2,134.1 114.7,133.5 115.3,132.9 115.9,132.3 116.4,131.7 117.0,131.1 117.6,130.4 118.1,129.7 118.7,129.1 119.3,128.3 119.8,127.6 120.4,126.7 121.0,125.8 121.5,125.0 122.1,124.1 122.7,123.3 123.2,122.5 123.8,121.7 124.4,120.9 124.9,120.1 125.5,119.2 126.1,118.4 126.6,117.4 127.2,116.4 127.8,115.3 128.3,114.2 128.9,113.0 129.5,111.6 130.0,110.2 130.6,108.8 131.2,107.2 131.7,105.6 132.3,103.9 132.9,102.2 133.4,100.5 134.0,98.8 134.6,97.2 135.1,95.4 135.7,93.7 136.3,91.9 136.8,90.1 137.4,88.3 138.0,86.5 138.5,84.5 139.1,82.6 139.7,80.5 140.2,78.3 140.8,76.1 141.4,73.8 141.9,71.5 142.5,69.2 143.0,66.9 143.6,64.6 144.2,62.3 144.7,60.0 145.3,57.9 145.9,55.9 146.4,54.1 147.0,52.3 147.6,50.7 148.1,49.0 148.7,47.5 149.3,46.1 149.8,44.7 150.4,43.4 151.0,42.1 151.5,40.9 152.1,39.7 152.7,38.6 153.2,37.5 153.8,36.5 154.4,35.4 154.9,34.5 155.5,33.6 156.1,32.9 156.6,32.2 157.2,31.7 157.8,31.1 158.3,30.6 158.9,30.1 159.5,29.7 160.0,29.3 160.6,28.9 161.2,28.6 161.7,28.3 162.3,28.1 162.9,28.0 163.4,28.0 164.0,27.9 164.6,27.9 165.1,28.0 165.7,28.1 166.3,28.2 166.8,28.3 167.4,28.5 168.0,28.8 168.5,29.2 169.1,29.5 169.7,29.8 170.2,30.1 170.8,30.4 171.4,30.8 171.9,31.2 172.5,31.8 173.1,32.4 173.6,32.9 174.2,33.4 174.8,33.9 175.3,34.4 175.9,35.0 176.5,35.6 177.0,36.3 177.6,37.0 178.2,37.8 178.7,38.5 179.3,39.1 179.9,39.8 180.4,40.5 181.0,41.2 181.6,42.0 182.1,42.8 182.7,43.7 183.3,44.7 183.8,45.9 184.4,47.1 185.0,48.4 185.5,49.7 186.1,50.9 186.7,52.0 187.2,53.1 187.8,54.2 188.4,55.3 188.9,56.4 189.5,57.5 190.1,58.6 190.6,59.7 191.2,60.8 191.8,61.9 192.3,63.0 192.9,64.1 193.5,65.2 194.0,66.3 194.6,67.4 195.2,68.5 195.7,69.6 196.3,70.7 196.9,71.7 197.4,72.8 198.0,73.9 198.6,75.0 199.1,76.0 199.7,77.1 200.3,78.2 200.8,79.3 201.4,80.3 202.0,81.4 202.5,82.5 203.1,83.5 203.7,84.6 204.2,85.7 204.8,86.7 205.4,87.8 205.9,88.8 206.5,89.8 207.0,90.8 207.6,91.8 208.2,92.8 208.7,93.7 209.3,94.7 209.9,95.6 210.4,96.5 211.0,97.4 211.6,98.3 212.1,99.1 212.7,100.0 213.3,100.8 213.8,101.6 214.4,102.4 215.0,103.2 215.5,104.0 216.1,104.8 216.7,105.6 217.2,106.3 217.8,107.1 218.4,107.8 218.9,108.6 219.5,109.3 220.1,110.0 220.6,110.7 221.2,111.4 221.8,112.1 222.3,112.8 222.9,113.5 223.5,114.2 224.0,114.8 224.6,115.5 225.2,116.2 225.7,116.8 226.3,117.5 226.9,118.1 227.4,118.7 228.0,119.4 228.6,120.0 229.1,120.6 229.7,121.2 230.3,121.9 230.8,122.5 231.4,123.1 232.0,123.7 232.5,124.3 233.1,125.0 233.7,125.6 234.2,126.2 234.8,126.8 235.4,127.4 235.9,127.9 236.5,128.5 237.1,129.1 237.6,129.6 238.2,130.2 238.8,130.7 239.3,131.2 239.9,131.8 240.5,132.3 241.0,132.7 241.6,133.2 242.2,133.7 242.7,134.2 243.3,134.6 243.9,135.1 244.4,135.5 245.0,136.0 245.6,136.4 246.1,136.8 246.7,137.3 247.3,137.7 247.8,138.1 248.4,138.5 249.0,139.0 249.5,139.4 250.1,139.8 250.7,140.2 251.2,140.6 251.8,141.0 252.4,141.4 252.9,141.8 253.5,142.2 254.1,142.6 254.6,143.0 255.2,143.4 255.8,143.8 256.3,144.2 256.9,144.6 257.5,145.0 258.0,145.4 258.6,145.8 259.2,146.2 259.7,146.6 260.3,147.0 260.9,147.3 261.4,147.7 262.0,148.0 262.6,148.3 263.1,148.6 263.7,148.9 264.3,149.2 264.8,149.5 265.4,149.7 266.0,150.0 266.5,150.3 267.1,150.5 267.7,150.8 268.2,151.1 268.8,151.3 269.4,151.5 269.9,151.8 270.5,152.0 271.0,152.3 271.6,152.5 272.2,152.7 272.7,153.0 273.3,153.2 273.9,153.4 274.4,153.6 275.0,153.8 275.6,154.1 276.1,154.3 276.7,154.5 277.3,154.7 277.8,154.9 278.4,155.1 279.0,155.3 279.5,155.5 280.1,155.7 280.7,155.9 281.2,156.1 281.8,156.3 282.4,156.5 282.9,156.7 283.5,156.9 284.1,157.1 284.6,157.2 285.2,157.4 285.8,157.6 286.3,157.8 286.9,158.0 287.5,158.1 288.0,158.3 288.6,158.5 289.2,158.7 289.7,158.8 290.3,159.0 290.9,159.2 291.4,159.4 292.0,159.5 292.6,159.7 293.1,159.9 293.7,160.0 294.3,160.2 294.8,160.4 295.4,160.5 296.0,160.7 296.5,160.8 297.1,161.0 297.7,161.1 298.2,161.3 298.8,161.4 299.4,161.6 299.9,161.7 300.5,161.9 301.1,162.0 301.6,162.1 302.2,162.3 302.8,162.4 303.3,162.6 303.9,162.7 304.5,162.8 305.0,163.0 305.6,163.1 306.2,163.2 306.7,163.4 307.3,163.5 307.9,163.6 308.4,163.7 309.0,163.9 309.6,164.0 310.1,164.1 310.7,164.2 311.3,164.4 311.8,164.5 312.4,164.6 313.0,164.7 313.5,164.8 314.1,164.9 314.7,165.1 315.2,165.2 315.8,165.3 316.4,165.4 316.9,165.5 317.5,165.6 318.1,165.7 318.6,165.8 319.2,165.9 319.8,166.1 320.3,166.2 320.9,166.3 321.5,166.4 322.0,166.5 322.6,166.6 323.2,166.7 323.7,166.8 324.3,166.9 324.9,167.0 325.4,167.1 326.0,167.2 326.6,167.3 327.1,167.4 327.7,167.5 328.3,167.6 328.8,167.7 329.4,167.8 330.0,167.9 330.5,168.0 331.1,168.1 331.7,168.2 332.2,168.2 332.8,168.3 333.4,168.4 333.9,168.5 334.5,168.6 335.1,168.7 335.6,168.8 336.2,168.9 336.7,169.0 337.3,169.0 337.9,169.1 338.4,169.2 339.0,169.3 339.6,169.4 340.1,169.4 340.7,169.5 341.3,169.6 341.8,169.7 342.4,169.8" stroke-width="0.9"/><g fill="#fff" stroke-width="0.95"><circle cx="45.9" cy="171.8" r="1.05"/><circle cx="48.2" cy="171.4" r="1.05"/><circle cx="50.4" cy="170.9" r="1.05"/><circle cx="52.7" cy="170.3" r="1.05"/><circle cx="55.0" cy="169.7" r="1.05"/><circle cx="57.2" cy="169.0" r="1.05"/><circle cx="59.5" cy="168.2" r="1.05"/><circle cx="61.8" cy="167.5" r="1.05"/><circle cx="64.0" cy="166.6" r="1.05"/><circle cx="66.3" cy="165.6" r="1.05"/><circle cx="68.6" cy="164.4" r="1.05"/><circle cx="70.8" cy="163.2" r="1.05"/><circle cx="73.1" cy="162.0" r="1.05"/><circle cx="75.4" cy="160.7" r="1.05"/><circle cx="77.6" cy="159.5" r="1.05"/><circle cx="79.9" cy="158.3" r="1.05"/><circle cx="82.2" cy="157.0" r="1.05"/><circle cx="84.4" cy="155.7" r="1.05"/><circle cx="86.7" cy="154.4" r="1.05"/><circle cx="89.0" cy="153.1" r="1.05"/><circle cx="91.2" cy="151.8" r="1.05"/><circle cx="93.5" cy="150.5" r="1.05"/><circle cx="95.8" cy="149.3" r="1.05"/><circle cx="98.0" cy="148.0" r="1.05"/><circle cx="100.3" cy="146.6" r="1.05"/><circle cx="102.6" cy="145.1" r="1.05"/><circle cx="104.8" cy="143.4" r="1.05"/><circle cx="107.1" cy="141.4" r="1.05"/><circle cx="109.3" cy="139.2" r="1.05"/><circle cx="111.6" cy="136.8" r="1.05"/><circle cx="113.9" cy="134.4" r="1.05"/><circle cx="116.1" cy="132.0" r="1.05"/><circle cx="118.4" cy="129.4" r="1.05"/><circle cx="120.7" cy="126.3" r="1.05"/><circle cx="122.9" cy="122.9" r="1.05"/><circle cx="125.2" cy="119.7" r="1.05"/><circle cx="127.5" cy="115.9" r="1.05"/><circle cx="129.7" cy="110.9" r="1.05"/><circle cx="132.0" cy="104.8" r="1.05"/><circle cx="134.3" cy="98.0" r="1.05"/><circle cx="136.5" cy="91.0" r="1.05"/><circle cx="138.8" cy="83.6" r="1.05"/><circle cx="141.1" cy="75.0" r="1.05"/><circle cx="143.3" cy="65.7" r="1.05"/><circle cx="145.6" cy="56.9" r="1.05"/><circle cx="147.9" cy="49.8" r="1.05"/><circle cx="150.1" cy="44.0" r="1.05"/><circle cx="152.4" cy="39.2" r="1.05"/><circle cx="154.7" cy="34.9" r="1.05"/><circle cx="156.9" cy="31.9" r="1.05"/><circle cx="159.2" cy="29.9" r="1.05"/><circle cx="161.5" cy="28.5" r="1.05"/><circle cx="163.7" cy="27.9" r="1.05"/><circle cx="166.0" cy="28.2" r="1.05"/><circle cx="168.3" cy="29.0" r="1.05"/><circle cx="170.5" cy="30.2" r="1.05"/><circle cx="172.8" cy="32.1" r="1.05"/><circle cx="175.0" cy="34.2" r="1.05"/><circle cx="177.3" cy="36.7" r="1.05"/><circle cx="179.6" cy="39.5" r="1.05"/><circle cx="181.8" cy="42.4" r="1.05"/><circle cx="184.1" cy="46.5" r="1.05"/><circle cx="186.4" cy="51.5" r="1.05"/><circle cx="188.6" cy="55.9" r="1.05"/><circle cx="190.9" cy="60.2" r="1.05"/><circle cx="193.2" cy="64.6" r="1.05"/><circle cx="195.4" cy="69.0" r="1.05"/><circle cx="197.7" cy="73.4" r="1.05"/><circle cx="200.0" cy="77.6" r="1.05"/><circle cx="202.2" cy="81.9" r="1.05"/><circle cx="204.5" cy="86.2" r="1.05"/><circle cx="206.8" cy="90.3" r="1.05"/><circle cx="209.0" cy="94.2" r="1.05"/><circle cx="211.3" cy="97.8" r="1.05"/><circle cx="213.6" cy="101.2" r="1.05"/><circle cx="215.8" cy="104.4" r="1.05"/><circle cx="218.1" cy="107.5" r="1.05"/><circle cx="220.4" cy="110.4" r="1.05"/><circle cx="222.6" cy="113.2" r="1.05"/><circle cx="224.9" cy="115.8" r="1.05"/><circle cx="227.2" cy="118.4" r="1.05"/><circle cx="229.4" cy="120.9" r="1.05"/><circle cx="231.7" cy="123.4" r="1.05"/><circle cx="234.0" cy="125.9" r="1.05"/><circle cx="236.2" cy="128.2" r="1.05"/><circle cx="238.5" cy="130.5" r="1.05"/><circle cx="240.7" cy="132.5" r="1.05"/><circle cx="243.0" cy="134.4" r="1.05"/><circle cx="245.3" cy="136.2" r="1.05"/><circle cx="247.5" cy="137.9" r="1.05"/><circle cx="249.8" cy="139.6" r="1.05"/><circle cx="252.1" cy="141.2" r="1.05"/><circle cx="254.3" cy="142.8" r="1.05"/><circle cx="256.6" cy="144.4" r="1.05"/><circle cx="258.9" cy="146.0" r="1.05"/><circle cx="261.1" cy="147.5" r="1.05"/><circle cx="263.4" cy="148.7" r="1.05"/><circle cx="265.7" cy="149.9" r="1.05"/><circle cx="267.9" cy="150.9" r="1.05"/><circle cx="270.2" cy="151.9" r="1.05"/><circle cx="272.5" cy="152.8" r="1.05"/><circle cx="274.7" cy="153.7" r="1.05"/><circle cx="277.0" cy="154.6" r="1.05"/><circle cx="279.3" cy="155.4" r="1.05"/><circle cx="281.5" cy="156.2" r="1.05"/><circle cx="283.8" cy="157.0" r="1.05"/><circle cx="286.1" cy="157.7" r="1.05"/><circle cx="288.3" cy="158.4" r="1.05"/><circle cx="290.6" cy="159.1" r="1.05"/><circle cx="292.9" cy="159.8" r="1.05"/><circle cx="295.1" cy="160.4" r="1.05"/><circle cx="297.4" cy="161.1" r="1.05"/><circle cx="299.7" cy="161.6" r="1.05"/><circle cx="301.9" cy="162.2" r="1.05"/><circle cx="304.2" cy="162.8" r="1.05"/><circle cx="306.4" cy="163.3" r="1.05"/><circle cx="308.7" cy="163.8" r="1.05"/><circle cx="311.0" cy="164.3" r="1.05"/><circle cx="313.2" cy="164.8" r="1.05"/><circle cx="315.5" cy="165.2" r="1.05"/><circle cx="317.8" cy="165.7" r="1.05"/><circle cx="320.0" cy="166.1" r="1.05"/><circle cx="322.3" cy="166.5" r="1.05"/><circle cx="324.6" cy="166.9" r="1.05"/><circle cx="326.8" cy="167.3" r="1.05"/><circle cx="329.1" cy="167.7" r="1.05"/><circle cx="331.4" cy="168.1" r="1.05"/><circle cx="333.6" cy="168.5" r="1.05"/><circle cx="335.9" cy="168.8" r="1.05"/><circle cx="338.2" cy="169.2" r="1.05"/><circle cx="340.4" cy="169.5" r="1.05"/><circle cx="342.7" cy="169.8" r="1.05"/></g></g>
<g stroke="#ff2090" fill="none" clip-path="url(#ca)"><polyline points="44.5,171.9 45.1,171.8 45.6,171.7 46.2,171.6 46.8,171.5 47.3,171.4 47.9,171.3 48.5,171.2 49.0,171.0 49.6,170.9 50.2,170.8 50.7,170.6 51.3,170.5 51.9,170.4 52.4,170.2 53.0,170.0 53.6,169.9 54.1,169.7 54.7,169.6 55.3,169.4 55.8,169.2 56.4,169.0 57.0,168.9 57.5,168.7 58.1,168.5 58.7,168.3 59.2,168.1 59.8,167.9 60.4,167.7 60.9,167.5 61.5,167.3 62.1,167.1 62.6,166.9 63.2,166.7 63.8,166.4 64.3,166.2 64.9,166.0 65.5,165.7 66.0,165.4 66.6,165.1 67.2,164.9 67.7,164.6 68.3,164.3 68.9,164.0 69.4,163.7 70.0,163.4 70.6,163.1 71.1,162.8 71.7,162.5 72.3,162.1 72.8,161.8 73.4,161.5 74.0,161.2 74.5,160.9 75.1,160.6 75.7,160.2 76.2,159.9 76.8,159.6 77.3,159.3 77.9,159.0 78.5,158.7 79.0,158.3 79.6,158.0 80.2,157.7 80.7,157.3 81.3,157.0 81.9,156.7 82.4,156.3 83.0,156.0 83.6,155.6 84.1,155.3 84.7,154.9 85.3,154.6 85.8,154.2 86.4,153.9 87.0,153.5 87.5,153.2 88.1,152.8 88.7,152.5 89.2,152.1 89.8,151.8 90.4,151.4 90.9,151.1 91.5,150.7 92.1,150.4 92.6,150.1 93.2,149.7 93.8,149.4 94.3,149.1 94.9,148.8 95.5,148.5 96.0,148.1 96.6,147.8 97.2,147.5 97.7,147.2 98.3,146.8 98.9,146.5 99.4,146.1 100.0,145.8 100.6,145.4 101.1,145.0 101.7,144.6 102.3,144.2 102.8,143.8 103.4,143.4 104.0,142.9 104.5,142.5 105.1,142.0 105.7,141.5 106.2,141.1 106.8,140.5 107.4,140.0 107.9,139.4 108.5,138.9 109.1,138.3 109.6,137.7 110.2,137.1 110.8,136.5 111.3,135.9 111.9,135.3 112.5,134.7 113.0,134.2 113.6,133.6 114.2,133.0 114.7,132.4 115.3,131.8 115.9,131.2 116.4,130.6 117.0,130.0 117.6,129.3 118.1,128.6 118.7,127.9 119.3,127.1 119.8,126.3 120.4,125.3 121.0,124.3 121.5,123.3 122.1,122.3 122.7,121.4 123.2,120.5 123.8,119.6 124.4,118.8 124.9,117.9 125.5,117.0 126.1,116.0 126.6,115.0 127.2,113.9 127.8,112.8 128.3,111.5 128.9,110.2 129.5,108.8 130.0,107.3 130.6,105.8 131.2,104.2 131.7,102.5 132.3,100.7 132.9,98.9 133.4,97.2 134.0,95.4 134.6,93.6 135.1,91.9 135.7,90.0 136.3,88.2 136.8,86.4 137.4,84.6 138.0,82.8 138.5,80.8 139.1,78.8 139.7,76.7 140.2,74.5 140.8,72.1 141.4,69.7 141.9,67.2 142.5,64.8 143.0,62.4 143.6,59.9 144.2,57.5 144.7,55.2 145.3,53.0 145.9,51.0 146.4,49.2 147.0,47.5 147.6,45.8 148.1,44.3 148.7,42.8 149.3,41.5 149.8,40.2 150.4,39.0 151.0,37.9 151.5,36.8 152.1,35.7 152.7,34.7 153.2,33.7 153.8,32.8 154.4,31.8 154.9,30.9 155.5,30.2 156.1,29.5 156.6,29.0 157.2,28.5 157.8,28.0 158.3,27.6 158.9,27.1 159.5,26.7 160.0,26.4 160.6,26.2 161.2,25.9 161.7,25.7 162.3,25.6 162.9,25.5 163.4,25.5 164.0,25.5 164.6,25.5 165.1,25.6 165.7,25.8 166.3,25.9 166.8,26.1 167.4,26.3 168.0,26.6 168.5,27.0 169.1,27.3 169.7,27.7 170.2,28.0 170.8,28.3 171.4,28.7 171.9,29.2 172.5,29.8 173.1,30.4 173.6,31.0 174.2,31.5 174.8,32.0 175.3,32.5 175.9,33.1 176.5,33.7 177.0,34.4 177.6,35.2 178.2,35.9 178.7,36.6 179.3,37.3 179.9,38.0 180.4,38.7 181.0,39.5 181.6,40.2 182.1,41.0 182.7,41.9 183.3,42.9 183.8,44.1 184.4,45.3 185.0,46.5 185.5,47.8 186.1,48.9 186.7,50.1 187.2,51.2 187.8,52.3 188.4,53.4 188.9,54.5 189.5,55.6 190.1,56.7 190.6,57.8 191.2,58.9 191.8,60.0 192.3,61.1 192.9,62.2 193.5,63.3 194.0,64.3 194.6,65.4 195.2,66.5 195.7,67.6 196.3,68.7 196.9,69.8 197.4,70.9 198.0,71.9 198.6,73.0 199.1,74.1 199.7,75.1 200.3,76.2 200.8,77.3 201.4,78.3 202.0,79.4 202.5,80.5 203.1,81.5 203.7,82.6 204.2,83.6 204.8,84.7 205.4,85.8 205.9,86.8 206.5,87.8 207.0,88.9 207.6,89.9 208.2,90.9 208.7,91.8 209.3,92.8 209.9,93.8 210.4,94.7 211.0,95.6 211.6,96.5 212.1,97.4 212.7,98.3 213.3,99.1 213.8,100.0 214.4,100.8 215.0,101.6 215.5,102.4 216.1,103.2 216.7,104.0 217.2,104.8 217.8,105.6 218.4,106.4 218.9,107.1 219.5,107.9 220.1,108.6 220.6,109.3 221.2,110.0 221.8,110.8 222.3,111.5 222.9,112.2 223.5,112.9 224.0,113.6 224.6,114.2 225.2,114.9 225.7,115.6 226.3,116.3 226.9,116.9 227.4,117.6 228.0,118.2 228.6,118.9 229.1,119.5 229.7,120.2 230.3,120.8 230.8,121.4 231.4,122.1 232.0,122.7 232.5,123.3 233.1,123.9 233.7,124.5 234.2,125.2 234.8,125.8 235.4,126.4 235.9,126.9 236.5,127.5 237.1,128.1 237.6,128.7 238.2,129.2 238.8,129.8 239.3,130.3 239.9,130.8 240.5,131.3 241.0,131.9 241.6,132.4 242.2,132.8 242.7,133.3 243.3,133.8 243.9,134.3 244.4,134.8 245.0,135.2 245.6,135.7 246.1,136.2 246.7,136.6 247.3,137.1 247.8,137.5 248.4,138.0 249.0,138.5 249.5,138.9 250.1,139.4 250.7,139.8 251.2,140.2 251.8,140.7 252.4,141.1 252.9,141.5 253.5,142.0 254.1,142.4 254.6,142.8 255.2,143.2 255.8,143.6 256.3,144.0 256.9,144.4 257.5,144.8 258.0,145.2 258.6,145.6 259.2,146.0 259.7,146.4 260.3,146.8 260.9,147.1 261.4,147.5 262.0,147.8 262.6,148.1 263.1,148.4 263.7,148.7 264.3,149.0 264.8,149.3 265.4,149.6 266.0,149.9 266.5,150.1 267.1,150.4 267.7,150.7 268.2,150.9 268.8,151.2 269.4,151.4 269.9,151.7 270.5,151.9 271.0,152.1 271.6,152.4 272.2,152.6 272.7,152.8 273.3,153.0 273.9,153.3 274.4,153.5 275.0,153.7 275.6,153.9 276.1,154.2 276.7,154.4 277.3,154.6 277.8,154.8 278.4,155.0 279.0,155.2 279.5,155.4 280.1,155.6 280.7,155.8 281.2,156.0 281.8,156.2 282.4,156.4 282.9,156.6 283.5,156.8 284.1,157.0 284.6,157.2 285.2,157.3 285.8,157.5 286.3,157.7 286.9,157.9 287.5,158.1 288.0,158.2 288.6,158.4 289.2,158.6 289.7,158.8 290.3,158.9 290.9,159.1 291.4,159.3 292.0,159.4 292.6,159.6 293.1,159.8 293.7,159.9 294.3,160.1 294.8,160.3 295.4,160.4 296.0,160.6 296.5,160.7 297.1,160.9 297.7,161.1 298.2,161.2 298.8,161.3 299.4,161.5 299.9,161.6 300.5,161.8 301.1,161.9 301.6,162.1 302.2,162.2 302.8,162.3 303.3,162.5 303.9,162.6 304.5,162.7 305.0,162.9 305.6,163.0 306.2,163.1 306.7,163.3 307.3,163.4 307.9,163.5 308.4,163.7 309.0,163.8 309.6,163.9 310.1,164.0 310.7,164.2 311.3,164.3 311.8,164.4 312.4,164.5 313.0,164.6 313.5,164.7 314.1,164.9 314.7,165.0 315.2,165.1 315.8,165.2 316.4,165.3 316.9,165.4 317.5,165.5 318.1,165.7 318.6,165.8 319.2,165.9 319.8,166.0 320.3,166.1 320.9,166.2 321.5,166.3 322.0,166.4 322.6,166.5 323.2,166.6 323.7,166.7 324.3,166.8 324.9,166.9 325.4,167.0 326.0,167.1 326.6,167.2 327.1,167.3 327.7,167.4 328.3,167.5 328.8,167.6 329.4,167.7 330.0,167.8 330.5,167.9 331.1,168.0 331.7,168.1 332.2,168.2 332.8,168.3 333.4,168.3 333.9,168.4 334.5,168.5 335.1,168.6 335.6,168.7 336.2,168.8 336.7,168.9 337.3,169.0 337.9,169.0 338.4,169.1 339.0,169.2 339.6,169.3 340.1,169.4 340.7,169.4 341.3,169.5 341.8,169.6 342.4,169.7" stroke-width="0.9"/><g fill="#fff" stroke-width="0.95"><circle cx="45.6" cy="171.7" r="1.05"/><circle cx="47.9" cy="171.3" r="1.05"/><circle cx="50.2" cy="170.8" r="1.05"/><circle cx="52.4" cy="170.2" r="1.05"/><circle cx="54.7" cy="169.6" r="1.05"/><circle cx="57.0" cy="168.9" r="1.05"/><circle cx="59.2" cy="168.1" r="1.05"/><circle cx="61.5" cy="167.3" r="1.05"/><circle cx="63.8" cy="166.4" r="1.05"/><circle cx="66.0" cy="165.4" r="1.05"/><circle cx="68.3" cy="164.3" r="1.05"/><circle cx="70.6" cy="163.1" r="1.05"/><circle cx="72.8" cy="161.8" r="1.05"/><circle cx="75.1" cy="160.6" r="1.05"/><circle cx="77.3" cy="159.3" r="1.05"/><circle cx="79.6" cy="158.0" r="1.05"/><circle cx="81.9" cy="156.7" r="1.05"/><circle cx="84.1" cy="155.3" r="1.05"/><circle cx="86.4" cy="153.9" r="1.05"/><circle cx="88.7" cy="152.5" r="1.05"/><circle cx="90.9" cy="151.1" r="1.05"/><circle cx="93.2" cy="149.7" r="1.05"/><circle cx="95.5" cy="148.5" r="1.05"/><circle cx="97.7" cy="147.2" r="1.05"/><circle cx="100.0" cy="145.8" r="1.05"/><circle cx="102.3" cy="144.2" r="1.05"/><circle cx="104.5" cy="142.5" r="1.05"/><circle cx="106.8" cy="140.5" r="1.05"/><circle cx="109.1" cy="138.3" r="1.05"/><circle cx="111.3" cy="135.9" r="1.05"/><circle cx="113.6" cy="133.6" r="1.05"/><circle cx="115.9" cy="131.2" r="1.05"/><circle cx="118.1" cy="128.6" r="1.05"/><circle cx="120.4" cy="125.3" r="1.05"/><circle cx="122.7" cy="121.4" r="1.05"/><circle cx="124.9" cy="117.9" r="1.05"/><circle cx="127.2" cy="113.9" r="1.05"/><circle cx="129.5" cy="108.8" r="1.05"/><circle cx="131.7" cy="102.5" r="1.05"/><circle cx="134.0" cy="95.4" r="1.05"/><circle cx="136.3" cy="88.2" r="1.05"/><circle cx="138.5" cy="80.8" r="1.05"/><circle cx="140.8" cy="72.1" r="1.05"/><circle cx="143.0" cy="62.4" r="1.05"/><circle cx="145.3" cy="53.0" r="1.05"/><circle cx="147.6" cy="45.8" r="1.05"/><circle cx="149.8" cy="40.2" r="1.05"/><circle cx="152.1" cy="35.7" r="1.05"/><circle cx="154.4" cy="31.8" r="1.05"/><circle cx="156.6" cy="29.0" r="1.05"/><circle cx="158.9" cy="27.1" r="1.05"/><circle cx="161.2" cy="25.9" r="1.05"/><circle cx="163.4" cy="25.5" r="1.05"/><circle cx="165.7" cy="25.8" r="1.05"/><circle cx="168.0" cy="26.6" r="1.05"/><circle cx="170.2" cy="28.0" r="1.05"/><circle cx="172.5" cy="29.8" r="1.05"/><circle cx="174.8" cy="32.0" r="1.05"/><circle cx="177.0" cy="34.4" r="1.05"/><circle cx="179.3" cy="37.3" r="1.05"/><circle cx="181.6" cy="40.2" r="1.05"/><circle cx="183.8" cy="44.1" r="1.05"/><circle cx="186.1" cy="48.9" r="1.05"/><circle cx="188.4" cy="53.4" r="1.05"/><circle cx="190.6" cy="57.8" r="1.05"/><circle cx="192.9" cy="62.2" r="1.05"/><circle cx="195.2" cy="66.5" r="1.05"/><circle cx="197.4" cy="70.9" r="1.05"/><circle cx="199.7" cy="75.1" r="1.05"/><circle cx="202.0" cy="79.4" r="1.05"/><circle cx="204.2" cy="83.6" r="1.05"/><circle cx="206.5" cy="87.8" r="1.05"/><circle cx="208.7" cy="91.8" r="1.05"/><circle cx="211.0" cy="95.6" r="1.05"/><circle cx="213.3" cy="99.1" r="1.05"/><circle cx="215.5" cy="102.4" r="1.05"/><circle cx="217.8" cy="105.6" r="1.05"/><circle cx="220.1" cy="108.6" r="1.05"/><circle cx="222.3" cy="111.5" r="1.05"/><circle cx="224.6" cy="114.2" r="1.05"/><circle cx="226.9" cy="116.9" r="1.05"/><circle cx="229.1" cy="119.5" r="1.05"/><circle cx="231.4" cy="122.1" r="1.05"/><circle cx="233.7" cy="124.5" r="1.05"/><circle cx="235.9" cy="126.9" r="1.05"/><circle cx="238.2" cy="129.2" r="1.05"/><circle cx="240.5" cy="131.3" r="1.05"/><circle cx="242.7" cy="133.3" r="1.05"/><circle cx="245.0" cy="135.2" r="1.05"/><circle cx="247.3" cy="137.1" r="1.05"/><circle cx="249.5" cy="138.9" r="1.05"/><circle cx="251.8" cy="140.7" r="1.05"/><circle cx="254.1" cy="142.4" r="1.05"/><circle cx="256.3" cy="144.0" r="1.05"/><circle cx="258.6" cy="145.6" r="1.05"/><circle cx="260.9" cy="147.1" r="1.05"/><circle cx="263.1" cy="148.4" r="1.05"/><circle cx="265.4" cy="149.6" r="1.05"/><circle cx="267.7" cy="150.7" r="1.05"/><circle cx="269.9" cy="151.7" r="1.05"/><circle cx="272.2" cy="152.6" r="1.05"/><circle cx="274.4" cy="153.5" r="1.05"/><circle cx="276.7" cy="154.4" r="1.05"/><circle cx="279.0" cy="155.2" r="1.05"/><circle cx="281.2" cy="156.0" r="1.05"/><circle cx="283.5" cy="156.8" r="1.05"/><circle cx="285.8" cy="157.5" r="1.05"/><circle cx="288.0" cy="158.2" r="1.05"/><circle cx="290.3" cy="158.9" r="1.05"/><circle cx="292.6" cy="159.6" r="1.05"/><circle cx="294.8" cy="160.3" r="1.05"/><circle cx="297.1" cy="160.9" r="1.05"/><circle cx="299.4" cy="161.5" r="1.05"/><circle cx="301.6" cy="162.1" r="1.05"/><circle cx="303.9" cy="162.6" r="1.05"/><circle cx="306.2" cy="163.1" r="1.05"/><circle cx="308.4" cy="163.7" r="1.05"/><circle cx="310.7" cy="164.2" r="1.05"/><circle cx="313.0" cy="164.6" r="1.05"/><circle cx="315.2" cy="165.1" r="1.05"/><circle cx="317.5" cy="165.5" r="1.05"/><circle cx="319.8" cy="166.0" r="1.05"/><circle cx="322.0" cy="166.4" r="1.05"/><circle cx="324.3" cy="166.8" r="1.05"/><circle cx="326.6" cy="167.2" r="1.05"/><circle cx="328.8" cy="167.6" r="1.05"/><circle cx="331.1" cy="168.0" r="1.05"/><circle cx="333.4" cy="168.3" r="1.05"/><circle cx="335.6" cy="168.7" r="1.05"/><circle cx="337.9" cy="169.0" r="1.05"/><circle cx="340.1" cy="169.4" r="1.05"/><circle cx="342.4" cy="169.7" r="1.05"/></g></g>
<g stroke="#10d8f0" fill="none" clip-path="url(#ca)"><polyline points="44.5,171.7 45.1,171.6 45.6,171.5 46.2,171.4 46.8,171.3 47.3,171.2 47.9,171.0 48.5,170.9 49.0,170.8 49.6,170.7 50.2,170.5 50.7,170.4 51.3,170.2 51.9,170.1 52.4,169.9 53.0,169.8 53.6,169.6 54.1,169.4 54.7,169.3 55.3,169.1 55.8,168.9 56.4,168.7 57.0,168.6 57.5,168.4 58.1,168.2 58.7,168.0 59.2,167.8 59.8,167.6 60.4,167.4 60.9,167.2 61.5,167.0 62.1,166.8 62.6,166.6 63.2,166.3 63.8,166.1 64.3,165.9 64.9,165.6 65.5,165.3 66.0,165.1 66.6,164.8 67.2,164.5 67.7,164.2 68.3,163.9 68.9,163.6 69.4,163.3 70.0,163.0 70.6,162.7 71.1,162.4 71.7,162.0 72.3,161.7 72.8,161.4 73.4,161.1 74.0,160.7 74.5,160.4 75.1,160.1 75.7,159.8 76.2,159.4 76.8,159.1 77.3,158.8 77.9,158.4 78.5,158.1 79.0,157.8 79.6,157.4 80.2,157.1 80.7,156.7 81.3,156.3 81.9,156.0 82.4,155.6 83.0,155.2 83.6,154.8 84.1,154.4 84.7,154.1 85.3,153.7 85.8,153.3 86.4,152.9 87.0,152.5 87.5,152.1 88.1,151.8 88.7,151.4 89.2,151.0 89.8,150.6 90.4,150.3 90.9,149.9 91.5,149.5 92.1,149.2 92.6,148.8 93.2,148.5 93.8,148.1 94.3,147.8 94.9,147.5 95.5,147.1 96.0,146.8 96.6,146.5 97.2,146.1 97.7,145.8 98.3,145.4 98.9,145.1 99.4,144.7 100.0,144.3 100.6,143.9 101.1,143.5 101.7,143.1 102.3,142.7 102.8,142.3 103.4,141.9 104.0,141.4 104.5,140.9 105.1,140.5 105.7,140.0 106.2,139.5 106.8,139.0 107.4,138.4 107.9,137.9 108.5,137.3 109.1,136.7 109.6,136.2 110.2,135.6 110.8,135.0 111.3,134.4 111.9,133.8 112.5,133.2 113.0,132.6 113.6,132.0 114.2,131.5 114.7,130.9 115.3,130.3 115.9,129.7 116.4,129.1 117.0,128.5 117.6,127.8 118.1,127.1 118.7,126.3 119.3,125.5 119.8,124.6 120.4,123.5 121.0,122.3 121.5,121.1 122.1,119.9 122.7,118.8 123.2,117.8 123.8,116.9 124.4,115.9 124.9,114.9 125.5,113.9 126.1,112.9 126.6,111.7 127.2,110.5 127.8,109.2 128.3,107.9 128.9,106.4 129.5,104.9 130.0,103.4 130.6,101.8 131.2,100.1 131.7,98.3 132.3,96.4 132.9,94.5 133.4,92.6 134.0,90.7 134.6,88.8 135.1,86.9 135.7,85.0 136.3,83.2 136.8,81.4 137.4,79.6 138.0,77.7 138.5,75.8 139.1,73.8 139.7,71.6 140.2,69.2 140.8,66.6 141.4,64.0 141.9,61.3 142.5,58.7 143.0,56.2 143.6,53.6 144.2,51.0 144.7,48.5 145.3,46.2 145.9,44.2 146.4,42.4 147.0,40.8 147.6,39.3 148.1,37.8 148.7,36.5 149.3,35.3 149.8,34.1 150.4,33.1 151.0,32.1 151.5,31.1 152.1,30.2 152.7,29.3 153.2,28.5 153.8,27.7 154.4,26.8 154.9,26.1 155.5,25.4 156.1,25.0 156.6,24.5 157.2,24.2 157.8,23.8 158.3,23.4 158.9,23.1 159.5,22.8 160.0,22.5 160.6,22.4 161.2,22.3 161.7,22.2 162.3,22.1 162.9,22.1 163.4,22.1 164.0,22.2 164.6,22.3 165.1,22.4 165.7,22.6 166.3,22.8 166.8,23.0 167.4,23.3 168.0,23.6 168.5,24.0 169.1,24.4 169.7,24.7 170.2,25.1 170.8,25.5 171.4,25.9 171.9,26.5 172.5,27.1 173.1,27.7 173.6,28.3 174.2,28.8 174.8,29.3 175.3,29.9 175.9,30.4 176.5,31.1 177.0,31.9 177.6,32.6 178.2,33.4 178.7,34.2 179.3,34.9 179.9,35.6 180.4,36.3 181.0,37.1 181.6,37.8 182.1,38.7 182.7,39.5 183.3,40.5 183.8,41.6 184.4,42.8 185.0,43.9 185.5,45.1 186.1,46.3 186.7,47.5 187.2,48.6 187.8,49.7 188.4,50.8 188.9,51.9 189.5,53.0 190.1,54.0 190.6,55.1 191.2,56.2 191.8,57.3 192.3,58.4 192.9,59.5 193.5,60.6 194.0,61.7 194.6,62.8 195.2,63.9 195.7,64.9 196.3,66.0 196.9,67.1 197.4,68.2 198.0,69.2 198.6,70.3 199.1,71.3 199.7,72.4 200.3,73.5 200.8,74.5 201.4,75.6 202.0,76.6 202.5,77.7 203.1,78.8 203.7,79.8 204.2,80.9 204.8,82.0 205.4,83.0 205.9,84.1 206.5,85.1 207.0,86.2 207.6,87.2 208.2,88.3 208.7,89.3 209.3,90.3 209.9,91.3 210.4,92.2 211.0,93.2 211.6,94.1 212.1,95.1 212.7,96.0 213.3,96.8 213.8,97.7 214.4,98.6 215.0,99.4 215.5,100.3 216.1,101.1 216.7,101.9 217.2,102.7 217.8,103.5 218.4,104.3 218.9,105.1 219.5,105.9 220.1,106.6 220.6,107.4 221.2,108.1 221.8,108.9 222.3,109.6 222.9,110.4 223.5,111.1 224.0,111.8 224.6,112.5 225.2,113.2 225.7,113.9 226.3,114.6 226.9,115.3 227.4,116.0 228.0,116.7 228.6,117.3 229.1,118.0 229.7,118.7 230.3,119.3 230.8,120.0 231.4,120.6 232.0,121.3 232.5,121.9 233.1,122.5 233.7,123.2 234.2,123.8 234.8,124.4 235.4,125.0 235.9,125.6 236.5,126.2 237.1,126.8 237.6,127.3 238.2,127.9 238.8,128.5 239.3,129.0 239.9,129.6 240.5,130.1 241.0,130.6 241.6,131.2 242.2,131.7 242.7,132.2 243.3,132.7 243.9,133.2 244.4,133.7 245.0,134.2 245.6,134.8 246.1,135.3 246.7,135.8 247.3,136.3 247.8,136.8 248.4,137.3 249.0,137.8 249.5,138.3 250.1,138.7 250.7,139.2 251.2,139.7 251.8,140.2 252.4,140.6 252.9,141.1 253.5,141.6 254.1,142.0 254.6,142.4 255.2,142.9 255.8,143.3 256.3,143.7 256.9,144.2 257.5,144.6 258.0,145.0 258.6,145.4 259.2,145.8 259.7,146.2 260.3,146.5 260.9,146.9 261.4,147.3 262.0,147.6 262.6,147.9 263.1,148.2 263.7,148.5 264.3,148.8 264.8,149.1 265.4,149.4 266.0,149.7 266.5,149.9 267.1,150.2 267.7,150.5 268.2,150.7 268.8,151.0 269.4,151.2 269.9,151.5 270.5,151.7 271.0,151.9 271.6,152.2 272.2,152.4 272.7,152.6 273.3,152.9 273.9,153.1 274.4,153.3 275.0,153.6 275.6,153.8 276.1,154.0 276.7,154.2 277.3,154.4 277.8,154.6 278.4,154.9 279.0,155.1 279.5,155.3 280.1,155.5 280.7,155.7 281.2,155.9 281.8,156.1 282.4,156.3 282.9,156.5 283.5,156.7 284.1,156.8 284.6,157.0 285.2,157.2 285.8,157.4 286.3,157.6 286.9,157.8 287.5,157.9 288.0,158.1 288.6,158.3 289.2,158.5 289.7,158.7 290.3,158.8 290.9,159.0 291.4,159.2 292.0,159.3 292.6,159.5 293.1,159.7 293.7,159.8 294.3,160.0 294.8,160.2 295.4,160.3 296.0,160.5 296.5,160.6 297.1,160.8 297.7,160.9 298.2,161.1 298.8,161.2 299.4,161.4 299.9,161.5 300.5,161.7 301.1,161.8 301.6,162.0 302.2,162.1 302.8,162.2 303.3,162.4 303.9,162.5 304.5,162.6 305.0,162.8 305.6,162.9 306.2,163.0 306.7,163.2 307.3,163.3 307.9,163.4 308.4,163.5 309.0,163.7 309.6,163.8 310.1,163.9 310.7,164.0 311.3,164.2 311.8,164.3 312.4,164.4 313.0,164.5 313.5,164.6 314.1,164.8 314.7,164.9 315.2,165.0 315.8,165.1 316.4,165.2 316.9,165.3 317.5,165.4 318.1,165.5 318.6,165.6 319.2,165.8 319.8,165.9 320.3,166.0 320.9,166.1 321.5,166.2 322.0,166.3 322.6,166.4 323.2,166.5 323.7,166.6 324.3,166.7 324.9,166.8 325.4,166.9 326.0,167.0 326.6,167.1 327.1,167.2 327.7,167.3 328.3,167.4 328.8,167.5 329.4,167.6 330.0,167.7 330.5,167.8 331.1,167.9 331.7,168.0 332.2,168.1 332.8,168.1 333.4,168.2 333.9,168.3 334.5,168.4 335.1,168.5 335.6,168.6 336.2,168.7 336.7,168.8 337.3,168.8 337.9,168.9 338.4,169.0 339.0,169.1 339.6,169.2 340.1,169.3 340.7,169.3 341.3,169.4 341.8,169.5 342.4,169.6" stroke-width="0.9"/><g fill="#fff" stroke-width="0.95"><circle cx="45.1" cy="171.6" r="1.05"/><circle cx="47.3" cy="171.2" r="1.05"/><circle cx="49.6" cy="170.7" r="1.05"/><circle cx="51.9" cy="170.1" r="1.05"/><circle cx="54.1" cy="169.4" r="1.05"/><circle cx="56.4" cy="168.7" r="1.05"/><circle cx="58.7" cy="168.0" r="1.05"/><circle cx="60.9" cy="167.2" r="1.05"/><circle cx="63.2" cy="166.3" r="1.05"/><circle cx="65.5" cy="165.3" r="1.05"/><circle cx="67.7" cy="164.2" r="1.05"/><circle cx="70.0" cy="163.0" r="1.05"/><circle cx="72.3" cy="161.7" r="1.05"/><circle cx="74.5" cy="160.4" r="1.05"/><circle cx="76.8" cy="159.1" r="1.05"/><circle cx="79.0" cy="157.8" r="1.05"/><circle cx="81.3" cy="156.3" r="1.05"/><circle cx="83.6" cy="154.8" r="1.05"/><circle cx="85.8" cy="153.3" r="1.05"/><circle cx="88.1" cy="151.8" r="1.05"/><circle cx="90.4" cy="150.3" r="1.05"/><circle cx="92.6" cy="148.8" r="1.05"/><circle cx="94.9" cy="147.5" r="1.05"/><circle cx="97.2" cy="146.1" r="1.05"/><circle cx="99.4" cy="144.7" r="1.05"/><circle cx="101.7" cy="143.1" r="1.05"/><circle cx="104.0" cy="141.4" r="1.05"/><circle cx="106.2" cy="139.5" r="1.05"/><circle cx="108.5" cy="137.3" r="1.05"/><circle cx="110.8" cy="135.0" r="1.05"/><circle cx="113.0" cy="132.6" r="1.05"/><circle cx="115.3" cy="130.3" r="1.05"/><circle cx="117.6" cy="127.8" r="1.05"/><circle cx="119.8" cy="124.6" r="1.05"/><circle cx="122.1" cy="119.9" r="1.05"/><circle cx="124.4" cy="115.9" r="1.05"/><circle cx="126.6" cy="111.7" r="1.05"/><circle cx="128.9" cy="106.4" r="1.05"/><circle cx="131.2" cy="100.1" r="1.05"/><circle cx="133.4" cy="92.6" r="1.05"/><circle cx="135.7" cy="85.0" r="1.05"/><circle cx="138.0" cy="77.7" r="1.05"/><circle cx="140.2" cy="69.2" r="1.05"/><circle cx="142.5" cy="58.7" r="1.05"/><circle cx="144.7" cy="48.5" r="1.05"/><circle cx="147.0" cy="40.8" r="1.05"/><circle cx="149.3" cy="35.3" r="1.05"/><circle cx="151.5" cy="31.1" r="1.05"/><circle cx="153.8" cy="27.7" r="1.05"/><circle cx="156.1" cy="25.0" r="1.05"/><circle cx="158.3" cy="23.4" r="1.05"/><circle cx="160.6" cy="22.4" r="1.05"/><circle cx="162.9" cy="22.1" r="1.05"/><circle cx="165.1" cy="22.4" r="1.05"/><circle cx="167.4" cy="23.3" r="1.05"/><circle cx="169.7" cy="24.7" r="1.05"/><circle cx="171.9" cy="26.5" r="1.05"/><circle cx="174.2" cy="28.8" r="1.05"/><circle cx="176.5" cy="31.1" r="1.05"/><circle cx="178.7" cy="34.2" r="1.05"/><circle cx="181.0" cy="37.1" r="1.05"/><circle cx="183.3" cy="40.5" r="1.05"/><circle cx="185.5" cy="45.1" r="1.05"/><circle cx="187.8" cy="49.7" r="1.05"/><circle cx="190.1" cy="54.0" r="1.05"/><circle cx="192.3" cy="58.4" r="1.05"/><circle cx="194.6" cy="62.8" r="1.05"/><circle cx="196.9" cy="67.1" r="1.05"/><circle cx="199.1" cy="71.3" r="1.05"/><circle cx="201.4" cy="75.6" r="1.05"/><circle cx="203.7" cy="79.8" r="1.05"/><circle cx="205.9" cy="84.1" r="1.05"/><circle cx="208.2" cy="88.3" r="1.05"/><circle cx="210.4" cy="92.2" r="1.05"/><circle cx="212.7" cy="96.0" r="1.05"/><circle cx="215.0" cy="99.4" r="1.05"/><circle cx="217.2" cy="102.7" r="1.05"/><circle cx="219.5" cy="105.9" r="1.05"/><circle cx="221.8" cy="108.9" r="1.05"/><circle cx="224.0" cy="111.8" r="1.05"/><circle cx="226.3" cy="114.6" r="1.05"/><circle cx="228.6" cy="117.3" r="1.05"/><circle cx="230.8" cy="120.0" r="1.05"/><circle cx="233.1" cy="122.5" r="1.05"/><circle cx="235.4" cy="125.0" r="1.05"/><circle cx="237.6" cy="127.3" r="1.05"/><circle cx="239.9" cy="129.6" r="1.05"/><circle cx="242.2" cy="131.7" r="1.05"/><circle cx="244.4" cy="133.7" r="1.05"/><circle cx="246.7" cy="135.8" r="1.05"/><circle cx="249.0" cy="137.8" r="1.05"/><circle cx="251.2" cy="139.7" r="1.05"/><circle cx="253.5" cy="141.6" r="1.05"/><circle cx="255.8" cy="143.3" r="1.05"/><circle cx="258.0" cy="145.0" r="1.05"/><circle cx="260.3" cy="146.5" r="1.05"/><circle cx="262.6" cy="147.9" r="1.05"/><circle cx="264.8" cy="149.1" r="1.05"/><circle cx="267.1" cy="150.2" r="1.05"/><circle cx="269.4" cy="151.2" r="1.05"/><circle cx="271.6" cy="152.2" r="1.05"/><circle cx="273.9" cy="153.1" r="1.05"/><circle cx="276.1" cy="154.0" r="1.05"/><circle cx="278.4" cy="154.9" r="1.05"/><circle cx="280.7" cy="155.7" r="1.05"/><circle cx="282.9" cy="156.5" r="1.05"/><circle cx="285.2" cy="157.2" r="1.05"/><circle cx="287.5" cy="157.9" r="1.05"/><circle cx="289.7" cy="158.7" r="1.05"/><circle cx="292.0" cy="159.3" r="1.05"/><circle cx="294.3" cy="160.0" r="1.05"/><circle cx="296.5" cy="160.6" r="1.05"/><circle cx="298.8" cy="161.2" r="1.05"/><circle cx="301.1" cy="161.8" r="1.05"/><circle cx="303.3" cy="162.4" r="1.05"/><circle cx="305.6" cy="162.9" r="1.05"/><circle cx="307.9" cy="163.4" r="1.05"/><circle cx="310.1" cy="163.9" r="1.05"/><circle cx="312.4" cy="164.4" r="1.05"/><circle cx="314.7" cy="164.9" r="1.05"/><circle cx="316.9" cy="165.3" r="1.05"/><circle cx="319.2" cy="165.8" r="1.05"/><circle cx="321.5" cy="166.2" r="1.05"/><circle cx="323.7" cy="166.6" r="1.05"/><circle cx="326.0" cy="167.0" r="1.05"/><circle cx="328.3" cy="167.4" r="1.05"/><circle cx="330.5" cy="167.8" r="1.05"/><circle cx="332.8" cy="168.1" r="1.05"/><circle cx="335.1" cy="168.5" r="1.05"/><circle cx="337.3" cy="168.8" r="1.05"/><circle cx="339.6" cy="169.2" r="1.05"/><circle cx="341.8" cy="169.5" r="1.05"/></g></g>
<g stroke="#ff10ff" fill="none" clip-path="url(#ca)"><polyline points="44.5,171.6 45.1,171.5 45.6,171.4 46.2,171.3 46.8,171.2 47.3,171.1 47.9,170.9 48.5,170.8 49.0,170.7 49.6,170.6 50.2,170.4 50.7,170.3 51.3,170.1 51.9,170.0 52.4,169.8 53.0,169.7 53.6,169.5 54.1,169.3 54.7,169.2 55.3,169.0 55.8,168.8 56.4,168.6 57.0,168.4 57.5,168.2 58.1,168.1 58.7,167.9 59.2,167.7 59.8,167.5 60.4,167.3 60.9,167.1 61.5,166.9 62.1,166.6 62.6,166.4 63.2,166.2 63.8,165.9 64.3,165.7 64.9,165.4 65.5,165.2 66.0,164.9 66.6,164.6 67.2,164.3 67.7,164.1 68.3,163.8 68.9,163.5 69.4,163.1 70.0,162.8 70.6,162.5 71.1,162.2 71.7,161.9 72.3,161.6 72.8,161.2 73.4,160.9 74.0,160.6 74.5,160.2 75.1,159.9 75.7,159.6 76.2,159.2 76.8,158.9 77.3,158.6 77.9,158.2 78.5,157.9 79.0,157.5 79.6,157.2 80.2,156.8 80.7,156.4 81.3,156.0 81.9,155.7 82.4,155.3 83.0,154.9 83.6,154.5 84.1,154.1 84.7,153.7 85.3,153.3 85.8,152.9 86.4,152.5 87.0,152.1 87.5,151.7 88.1,151.3 88.7,150.9 89.2,150.5 89.8,150.2 90.4,149.8 90.9,149.4 91.5,149.0 92.1,148.7 92.6,148.3 93.2,147.9 93.8,147.6 94.3,147.2 94.9,146.9 95.5,146.6 96.0,146.2 96.6,145.9 97.2,145.5 97.7,145.2 98.3,144.8 98.9,144.5 99.4,144.1 100.0,143.7 100.6,143.3 101.1,142.9 101.7,142.5 102.3,142.1 102.8,141.7 103.4,141.2 104.0,140.8 104.5,140.3 105.1,139.8 105.7,139.3 106.2,138.8 106.8,138.3 107.4,137.8 107.9,137.2 108.5,136.6 109.1,136.1 109.6,135.5 110.2,134.9 110.8,134.3 111.3,133.7 111.9,133.1 112.5,132.5 113.0,131.9 113.6,131.4 114.2,130.8 114.7,130.3 115.3,129.7 115.9,129.1 116.4,128.5 117.0,127.8 117.6,127.2 118.1,126.4 118.7,125.7 119.3,124.8 119.8,123.8 120.4,122.7 121.0,121.4 121.5,120.1 122.1,118.9 122.7,117.8 123.2,116.7 123.8,115.7 124.4,114.7 124.9,113.7 125.5,112.6 126.1,111.5 126.6,110.4 127.2,109.1 127.8,107.7 128.3,106.3 128.9,104.8 129.5,103.3 130.0,101.7 130.6,100.0 131.2,98.3 131.7,96.5 132.3,94.6 132.9,92.6 133.4,90.7 134.0,88.7 134.6,86.8 135.1,84.9 135.7,82.9 136.3,81.1 136.8,79.2 137.4,77.4 138.0,75.6 138.5,73.6 139.1,71.6 139.7,69.4 140.2,66.9 140.8,64.3 141.4,61.6 141.9,58.8 142.5,56.1 143.0,53.5 143.6,50.9 144.2,48.2 144.7,45.6 145.3,43.3 145.9,41.3 146.4,39.6 147.0,38.0 147.6,36.4 148.1,35.0 148.7,33.7 149.3,32.6 149.8,31.5 150.4,30.6 151.0,29.6 151.5,28.7 152.1,27.9 152.7,27.1 153.2,26.3 153.8,25.5 154.4,24.7 154.9,24.0 155.5,23.4 156.1,23.0 156.6,22.6 157.2,22.3 157.8,22.0 158.3,21.7 158.9,21.3 159.5,21.1 160.0,20.9 160.6,20.8 161.2,20.7 161.7,20.7 162.3,20.6 162.9,20.6 163.4,20.7 164.0,20.7 164.6,20.9 165.1,21.0 165.7,21.2 166.3,21.5 166.8,21.7 167.4,22.0 168.0,22.4 168.5,22.7 169.1,23.1 169.7,23.5 170.2,23.9 170.8,24.3 171.4,24.7 171.9,25.3 172.5,25.9 173.1,26.6 173.6,27.2 174.2,27.7 174.8,28.2 175.3,28.7 175.9,29.3 176.5,30.0 177.0,30.8 177.6,31.6 178.2,32.3 178.7,33.1 179.3,33.8 179.9,34.6 180.4,35.3 181.0,36.0 181.6,36.8 182.1,37.6 182.7,38.5 183.3,39.5 183.8,40.6 184.4,41.7 185.0,42.8 185.5,44.0 186.1,45.2 186.7,46.3 187.2,47.5 187.8,48.5 188.4,49.6 188.9,50.7 189.5,51.8 190.1,52.9 190.6,54.0 191.2,55.1 191.8,56.2 192.3,57.3 192.9,58.4 193.5,59.5 194.0,60.6 194.6,61.6 195.2,62.7 195.7,63.8 196.3,64.9 196.9,65.9 197.4,67.0 198.0,68.1 198.6,69.1 199.1,70.2 199.7,71.2 200.3,72.3 200.8,73.4 201.4,74.4 202.0,75.5 202.5,76.5 203.1,77.6 203.7,78.6 204.2,79.7 204.8,80.8 205.4,81.9 205.9,82.9 206.5,84.0 207.0,85.1 207.6,86.1 208.2,87.1 208.7,88.2 209.3,89.2 209.9,90.2 210.4,91.2 211.0,92.2 211.6,93.1 212.1,94.1 212.7,95.0 213.3,95.9 213.8,96.8 214.4,97.6 215.0,98.5 215.5,99.3 216.1,100.2 216.7,101.0 217.2,101.8 217.8,102.6 218.4,103.4 218.9,104.2 219.5,105.0 220.1,105.8 220.6,106.6 221.2,107.3 221.8,108.1 222.3,108.8 222.9,109.6 223.5,110.3 224.0,111.0 224.6,111.8 225.2,112.5 225.7,113.2 226.3,113.9 226.9,114.6 227.4,115.3 228.0,116.0 228.6,116.7 229.1,117.4 229.7,118.0 230.3,118.7 230.8,119.4 231.4,120.0 232.0,120.7 232.5,121.3 233.1,121.9 233.7,122.6 234.2,123.2 234.8,123.8 235.4,124.4 235.9,125.0 236.5,125.6 237.1,126.2 237.6,126.8 238.2,127.4 238.8,127.9 239.3,128.5 239.9,129.0 240.5,129.6 241.0,130.1 241.6,130.7 242.2,131.2 242.7,131.7 243.3,132.3 243.9,132.8 244.4,133.3 245.0,133.8 245.6,134.3 246.1,134.9 246.7,135.4 247.3,135.9 247.8,136.4 248.4,136.9 249.0,137.5 249.5,138.0 250.1,138.5 250.7,139.0 251.2,139.5 251.8,140.0 252.4,140.5 252.9,140.9 253.5,141.4 254.1,141.9 254.6,142.3 255.2,142.7 255.8,143.2 256.3,143.6 256.9,144.0 257.5,144.5 258.0,144.9 258.6,145.3 259.2,145.7 259.7,146.1 260.3,146.4 260.9,146.8 261.4,147.2 262.0,147.5 262.6,147.8 263.1,148.1 263.7,148.4 264.3,148.7 264.8,149.0 265.4,149.3 266.0,149.6 266.5,149.9 267.1,150.1 267.7,150.4 268.2,150.6 268.8,150.9 269.4,151.1 269.9,151.4 270.5,151.6 271.0,151.9 271.6,152.1 272.2,152.3 272.7,152.6 273.3,152.8 273.9,153.0 274.4,153.3 275.0,153.5 275.6,153.7 276.1,153.9 276.7,154.1 277.3,154.4 277.8,154.6 278.4,154.8 279.0,155.0 279.5,155.2 280.1,155.4 280.7,155.6 281.2,155.8 281.8,156.0 282.4,156.2 282.9,156.4 283.5,156.6 284.1,156.8 284.6,157.0 285.2,157.2 285.8,157.4 286.3,157.5 286.9,157.7 287.5,157.9 288.0,158.1 288.6,158.3 289.2,158.4 289.7,158.6 290.3,158.8 290.9,159.0 291.4,159.1 292.0,159.3 292.6,159.5 293.1,159.6 293.7,159.8 294.3,160.0 294.8,160.1 295.4,160.3 296.0,160.4 296.5,160.6 297.1,160.7 297.7,160.9 298.2,161.0 298.8,161.2 299.4,161.3 299.9,161.5 300.5,161.6 301.1,161.8 301.6,161.9 302.2,162.0 302.8,162.2 303.3,162.3 303.9,162.5 304.5,162.6 305.0,162.7 305.6,162.9 306.2,163.0 306.7,163.1 307.3,163.2 307.9,163.4 308.4,163.5 309.0,163.6 309.6,163.7 310.1,163.9 310.7,164.0 311.3,164.1 311.8,164.2 312.4,164.4 313.0,164.5 313.5,164.6 314.1,164.7 314.7,164.8 315.2,164.9 315.8,165.0 316.4,165.2 316.9,165.3 317.5,165.4 318.1,165.5 318.6,165.6 319.2,165.7 319.8,165.8 320.3,165.9 320.9,166.0 321.5,166.1 322.0,166.2 322.6,166.3 323.2,166.4 323.7,166.5 324.3,166.6 324.9,166.8 325.4,166.9 326.0,167.0 326.6,167.1 327.1,167.2 327.7,167.2 328.3,167.3 328.8,167.4 329.4,167.5 330.0,167.6 330.5,167.7 331.1,167.8 331.7,167.9 332.2,168.0 332.8,168.1 333.4,168.2 333.9,168.3 334.5,168.4 335.1,168.5 335.6,168.5 336.2,168.6 336.7,168.7 337.3,168.8 337.9,168.9 338.4,169.0 339.0,169.0 339.6,169.1 340.1,169.2 340.7,169.3 341.3,169.4 341.8,169.4 342.4,169.5" stroke-width="0.9"/><g fill="#fff" stroke-width="0.95"><circle cx="44.8" cy="171.5" r="1.05"/><circle cx="47.0" cy="171.1" r="1.05"/><circle cx="49.3" cy="170.6" r="1.05"/><circle cx="51.6" cy="170.1" r="1.05"/><circle cx="53.8" cy="169.4" r="1.05"/><circle cx="56.1" cy="168.7" r="1.05"/><circle cx="58.4" cy="168.0" r="1.05"/><circle cx="60.6" cy="167.2" r="1.05"/><circle cx="62.9" cy="166.3" r="1.05"/><circle cx="65.2" cy="165.3" r="1.05"/><circle cx="67.4" cy="164.2" r="1.05"/><circle cx="69.7" cy="163.0" r="1.05"/><circle cx="72.0" cy="161.7" r="1.05"/><circle cx="74.2" cy="160.4" r="1.05"/><circle cx="76.5" cy="159.1" r="1.05"/><circle cx="78.8" cy="157.7" r="1.05"/><circle cx="81.0" cy="156.2" r="1.05"/><circle cx="83.3" cy="154.7" r="1.05"/><circle cx="85.6" cy="153.1" r="1.05"/><circle cx="87.8" cy="151.5" r="1.05"/><circle cx="90.1" cy="150.0" r="1.05"/><circle cx="92.4" cy="148.5" r="1.05"/><circle cx="94.6" cy="147.1" r="1.05"/><circle cx="96.9" cy="145.7" r="1.05"/><circle cx="99.2" cy="144.3" r="1.05"/><circle cx="101.4" cy="142.7" r="1.05"/><circle cx="103.7" cy="141.0" r="1.05"/><circle cx="106.0" cy="139.1" r="1.05"/><circle cx="108.2" cy="136.9" r="1.05"/><circle cx="110.5" cy="134.6" r="1.05"/><circle cx="112.7" cy="132.2" r="1.05"/><circle cx="115.0" cy="130.0" r="1.05"/><circle cx="117.3" cy="127.5" r="1.05"/><circle cx="119.5" cy="124.3" r="1.05"/><circle cx="121.8" cy="119.5" r="1.05"/><circle cx="124.1" cy="115.2" r="1.05"/><circle cx="126.3" cy="111.0" r="1.05"/><circle cx="128.6" cy="105.6" r="1.05"/><circle cx="130.9" cy="99.2" r="1.05"/><circle cx="133.1" cy="91.6" r="1.05"/><circle cx="135.4" cy="83.9" r="1.05"/><circle cx="137.7" cy="76.5" r="1.05"/><circle cx="139.9" cy="68.2" r="1.05"/><circle cx="142.2" cy="57.5" r="1.05"/><circle cx="144.5" cy="46.9" r="1.05"/><circle cx="146.7" cy="38.8" r="1.05"/><circle cx="149.0" cy="33.1" r="1.05"/><circle cx="151.3" cy="29.2" r="1.05"/><circle cx="153.5" cy="25.9" r="1.05"/><circle cx="155.8" cy="23.2" r="1.05"/><circle cx="158.1" cy="21.8" r="1.05"/><circle cx="160.3" cy="20.8" r="1.05"/><circle cx="162.6" cy="20.6" r="1.05"/><circle cx="164.9" cy="20.9" r="1.05"/><circle cx="167.1" cy="21.9" r="1.05"/><circle cx="169.4" cy="23.3" r="1.05"/><circle cx="171.7" cy="25.0" r="1.05"/><circle cx="173.9" cy="27.4" r="1.05"/><circle cx="176.2" cy="29.7" r="1.05"/><circle cx="178.4" cy="32.7" r="1.05"/><circle cx="180.7" cy="35.7" r="1.05"/><circle cx="183.0" cy="39.0" r="1.05"/><circle cx="185.2" cy="43.4" r="1.05"/><circle cx="187.5" cy="48.0" r="1.05"/><circle cx="189.8" cy="52.4" r="1.05"/><circle cx="192.0" cy="56.8" r="1.05"/><circle cx="194.3" cy="61.1" r="1.05"/><circle cx="196.6" cy="65.4" r="1.05"/><circle cx="198.8" cy="69.7" r="1.05"/><circle cx="201.1" cy="73.9" r="1.05"/><circle cx="203.4" cy="78.1" r="1.05"/><circle cx="205.6" cy="82.4" r="1.05"/><circle cx="207.9" cy="86.6" r="1.05"/><circle cx="210.2" cy="90.7" r="1.05"/><circle cx="212.4" cy="94.5" r="1.05"/><circle cx="214.7" cy="98.1" r="1.05"/><circle cx="217.0" cy="101.4" r="1.05"/><circle cx="219.2" cy="104.6" r="1.05"/><circle cx="221.5" cy="107.7" r="1.05"/><circle cx="223.8" cy="110.7" r="1.05"/><circle cx="226.0" cy="113.6" r="1.05"/><circle cx="228.3" cy="116.3" r="1.05"/><circle cx="230.6" cy="119.0" r="1.05"/><circle cx="232.8" cy="121.6" r="1.05"/><circle cx="235.1" cy="124.1" r="1.05"/><circle cx="237.4" cy="126.5" r="1.05"/><circle cx="239.6" cy="128.8" r="1.05"/><circle cx="241.9" cy="130.9" r="1.05"/><circle cx="244.1" cy="133.0" r="1.05"/><circle cx="246.4" cy="135.1" r="1.05"/><circle cx="248.7" cy="137.2" r="1.05"/><circle cx="250.9" cy="139.2" r="1.05"/><circle cx="253.2" cy="141.2" r="1.05"/><circle cx="255.5" cy="143.0" r="1.05"/><circle cx="257.7" cy="144.7" r="1.05"/><circle cx="260.0" cy="146.3" r="1.05"/><circle cx="262.3" cy="147.7" r="1.05"/><circle cx="264.5" cy="148.9" r="1.05"/><circle cx="266.8" cy="150.0" r="1.05"/><circle cx="269.1" cy="151.0" r="1.05"/><circle cx="271.3" cy="152.0" r="1.05"/><circle cx="273.6" cy="152.9" r="1.05"/><circle cx="275.9" cy="153.8" r="1.05"/><circle cx="278.1" cy="154.7" r="1.05"/><circle cx="280.4" cy="155.5" r="1.05"/><circle cx="282.7" cy="156.3" r="1.05"/><circle cx="284.9" cy="157.1" r="1.05"/><circle cx="287.2" cy="157.8" r="1.05"/><circle cx="289.5" cy="158.5" r="1.05"/><circle cx="291.7" cy="159.2" r="1.05"/><circle cx="294.0" cy="159.9" r="1.05"/><circle cx="296.3" cy="160.5" r="1.05"/><circle cx="298.5" cy="161.1" r="1.05"/><circle cx="300.8" cy="161.7" r="1.05"/><circle cx="303.1" cy="162.2" r="1.05"/><circle cx="305.3" cy="162.8" r="1.05"/><circle cx="307.6" cy="163.3" r="1.05"/><circle cx="309.8" cy="163.8" r="1.05"/><circle cx="312.1" cy="164.3" r="1.05"/><circle cx="314.4" cy="164.8" r="1.05"/><circle cx="316.6" cy="165.2" r="1.05"/><circle cx="318.9" cy="165.7" r="1.05"/><circle cx="321.2" cy="166.1" r="1.05"/><circle cx="323.4" cy="166.5" r="1.05"/><circle cx="325.7" cy="166.9" r="1.05"/><circle cx="328.0" cy="167.3" r="1.05"/><circle cx="330.2" cy="167.7" r="1.05"/><circle cx="332.5" cy="168.1" r="1.05"/><circle cx="334.8" cy="168.4" r="1.05"/><circle cx="337.0" cy="168.8" r="1.05"/><circle cx="339.3" cy="169.1" r="1.05"/><circle cx="341.6" cy="169.4" r="1.05"/></g></g>
<g stroke="#9a40ff" fill="none" clip-path="url(#ca)"><polyline points="44.5,171.8 45.1,171.7 45.6,171.6 46.2,171.5 46.8,171.4 47.3,171.3 47.9,171.2 48.5,171.0 49.0,170.9 49.6,170.8 50.2,170.6 50.7,170.5 51.3,170.4 51.9,170.2 52.4,170.1 53.0,169.9 53.6,169.7 54.1,169.6 54.7,169.4 55.3,169.2 55.8,169.1 56.4,168.9 57.0,168.7 57.5,168.5 58.1,168.3 58.7,168.1 59.2,167.9 59.8,167.8 60.4,167.6 60.9,167.4 61.5,167.2 62.1,166.9 62.6,166.7 63.2,166.5 63.8,166.3 64.3,166.0 64.9,165.8 65.5,165.5 66.0,165.2 66.6,165.0 67.2,164.7 67.7,164.4 68.3,164.1 68.9,163.8 69.4,163.5 70.0,163.2 70.6,162.9 71.1,162.6 71.7,162.2 72.3,161.9 72.8,161.6 73.4,161.3 74.0,161.0 74.5,160.6 75.1,160.3 75.7,160.0 76.2,159.7 76.8,159.4 77.3,159.0 77.9,158.7 78.5,158.4 79.0,158.0 79.6,157.7 80.2,157.4 80.7,157.0 81.3,156.6 81.9,156.3 82.4,155.9 83.0,155.6 83.6,155.2 84.1,154.8 84.7,154.5 85.3,154.1 85.8,153.7 86.4,153.4 87.0,153.0 87.5,152.6 88.1,152.3 88.7,151.9 89.2,151.5 89.8,151.2 90.4,150.8 90.9,150.5 91.5,150.1 92.1,149.8 92.6,149.4 93.2,149.1 93.8,148.8 94.3,148.4 94.9,148.1 95.5,147.8 96.0,147.5 96.6,147.1 97.2,146.8 97.7,146.5 98.3,146.1 98.9,145.8 99.4,145.4 100.0,145.0 100.6,144.6 101.1,144.3 101.7,143.8 102.3,143.4 102.8,143.0 103.4,142.6 104.0,142.1 104.5,141.7 105.1,141.2 105.7,140.7 106.2,140.2 106.8,139.7 107.4,139.2 107.9,138.6 108.5,138.1 109.1,137.5 109.6,136.9 110.2,136.3 110.8,135.7 111.3,135.1 111.9,134.5 112.5,133.9 113.0,133.4 113.6,132.8 114.2,132.2 114.7,131.6 115.3,131.0 115.9,130.4 116.4,129.8 117.0,129.2 117.6,128.5 118.1,127.8 118.7,127.1 119.3,126.3 119.8,125.4 120.4,124.4 121.0,123.3 121.5,122.2 122.1,121.1 122.7,120.1 123.2,119.1 123.8,118.2 124.4,117.3 124.9,116.4 125.5,115.4 126.1,114.4 126.6,113.3 127.2,112.2 127.8,110.9 128.3,109.6 128.9,108.3 129.5,106.8 130.0,105.3 130.6,103.7 131.2,102.1 131.7,100.3 132.3,98.5 132.9,96.6 133.4,94.8 134.0,93.0 134.6,91.2 135.1,89.3 135.7,87.5 136.3,85.6 136.8,83.8 137.4,82.0 138.0,80.2 138.5,78.2 139.1,76.2 139.7,74.1 140.2,71.7 140.8,69.3 141.4,66.7 141.9,64.2 142.5,61.6 143.0,59.2 143.6,56.6 144.2,54.1 144.7,51.7 145.3,49.5 145.9,47.5 146.4,45.7 147.0,44.0 147.6,42.4 148.1,40.9 148.7,39.5 149.3,38.3 149.8,37.1 150.4,36.0 151.0,34.9 151.5,33.9 152.1,32.9 152.7,31.9 153.2,31.0 153.8,30.1 154.4,29.2 154.9,28.4 155.5,27.7 156.1,27.2 156.6,26.7 157.2,26.2 157.8,25.8 158.3,25.4 158.9,25.0 159.5,24.7 160.0,24.4 160.6,24.2 161.2,24.0 161.7,23.9 162.3,23.8 162.9,23.7 163.4,23.7 164.0,23.8 164.6,23.8 165.1,24.0 165.7,24.1 166.3,24.3 166.8,24.5 167.4,24.8 168.0,25.1 168.5,25.4 169.1,25.8 169.7,26.1 170.2,26.5 170.8,26.9 171.4,27.3 171.9,27.8 172.5,28.4 173.1,29.0 173.6,29.6 174.2,30.1 174.8,30.6 175.3,31.1 175.9,31.7 176.5,32.4 177.0,33.1 177.6,33.9 178.2,34.6 178.7,35.4 179.3,36.1 179.9,36.8 180.4,37.5 181.0,38.2 181.6,39.0 182.1,39.8 182.7,40.7 183.3,41.7 183.8,42.8 184.4,44.0 185.0,45.2 185.5,46.4 186.1,47.6 186.7,48.7 187.2,49.8 187.8,50.9 188.4,52.0 188.9,53.1 189.5,54.2 190.1,55.3 190.6,56.4 191.2,57.5 191.8,58.6 192.3,59.7 192.9,60.8 193.5,61.9 194.0,63.0 194.6,64.1 195.2,65.1 195.7,66.2 196.3,67.3 196.9,68.4 197.4,69.5 198.0,70.5 198.6,71.6 199.1,72.7 199.7,73.7 200.3,74.8 200.8,75.8 201.4,76.9 202.0,78.0 202.5,79.0 203.1,80.1 203.7,81.2 204.2,82.2 204.8,83.3 205.4,84.3 205.9,85.4 206.5,86.4 207.0,87.5 207.6,88.5 208.2,89.5 208.7,90.5 209.3,91.5 209.9,92.5 210.4,93.4 211.0,94.4 211.6,95.3 212.1,96.2 212.7,97.1 213.3,98.0 213.8,98.8 214.4,99.7 215.0,100.5 215.5,101.3 216.1,102.1 216.7,102.9 217.2,103.7 217.8,104.5 218.4,105.3 218.9,106.1 219.5,106.8 220.1,107.6 220.6,108.3 221.2,109.1 221.8,109.8 222.3,110.5 222.9,111.2 223.5,111.9 224.0,112.6 224.6,113.3 225.2,114.0 225.7,114.7 226.3,115.4 226.9,116.1 227.4,116.8 228.0,117.4 228.6,118.1 229.1,118.7 229.7,119.4 230.3,120.0 230.8,120.7 231.4,121.3 232.0,121.9 232.5,122.6 233.1,123.2 233.7,123.8 234.2,124.4 234.8,125.1 235.4,125.7 235.9,126.2 236.5,126.8 237.1,127.4 237.6,128.0 238.2,128.5 238.8,129.1 239.3,129.6 239.9,130.2 240.5,130.7 241.0,131.2 241.6,131.7 242.2,132.2 242.7,132.7 243.3,133.2 243.9,133.7 244.4,134.2 245.0,134.7 245.6,135.2 246.1,135.7 246.7,136.2 247.3,136.7 247.8,137.1 248.4,137.6 249.0,138.1 249.5,138.6 250.1,139.0 250.7,139.5 251.2,140.0 251.8,140.4 252.4,140.9 252.9,141.3 253.5,141.8 254.1,142.2 254.6,142.6 255.2,143.0 255.8,143.5 256.3,143.9 256.9,144.3 257.5,144.7 258.0,145.1 258.6,145.5 259.2,145.9 259.7,146.3 260.3,146.7 260.9,147.0 261.4,147.4 262.0,147.7 262.6,148.0 263.1,148.3 263.7,148.6 264.3,148.9 264.8,149.2 265.4,149.5 266.0,149.8 266.5,150.0 267.1,150.3 267.7,150.6 268.2,150.8 268.8,151.1 269.4,151.3 269.9,151.6 270.5,151.8 271.0,152.0 271.6,152.3 272.2,152.5 272.7,152.7 273.3,153.0 273.9,153.2 274.4,153.4 275.0,153.6 275.6,153.9 276.1,154.1 276.7,154.3 277.3,154.5 277.8,154.7 278.4,154.9 279.0,155.1 279.5,155.3 280.1,155.5 280.7,155.7 281.2,155.9 281.8,156.1 282.4,156.3 282.9,156.5 283.5,156.7 284.1,156.9 284.6,157.1 285.2,157.3 285.8,157.5 286.3,157.6 286.9,157.8 287.5,158.0 288.0,158.2 288.6,158.4 289.2,158.5 289.7,158.7 290.3,158.9 290.9,159.1 291.4,159.2 292.0,159.4 292.6,159.6 293.1,159.7 293.7,159.9 294.3,160.1 294.8,160.2 295.4,160.4 296.0,160.5 296.5,160.7 297.1,160.8 297.7,161.0 298.2,161.1 298.8,161.3 299.4,161.4 299.9,161.6 300.5,161.7 301.1,161.9 301.6,162.0 302.2,162.1 302.8,162.3 303.3,162.4 303.9,162.6 304.5,162.7 305.0,162.8 305.6,163.0 306.2,163.1 306.7,163.2 307.3,163.3 307.9,163.5 308.4,163.6 309.0,163.7 309.6,163.8 310.1,164.0 310.7,164.1 311.3,164.2 311.8,164.3 312.4,164.5 313.0,164.6 313.5,164.7 314.1,164.8 314.7,164.9 315.2,165.0 315.8,165.1 316.4,165.3 316.9,165.4 317.5,165.5 318.1,165.6 318.6,165.7 319.2,165.8 319.8,165.9 320.3,166.0 320.9,166.1 321.5,166.2 322.0,166.3 322.6,166.4 323.2,166.5 323.7,166.6 324.3,166.8 324.9,166.9 325.4,167.0 326.0,167.1 326.6,167.2 327.1,167.3 327.7,167.4 328.3,167.4 328.8,167.5 329.4,167.6 330.0,167.7 330.5,167.8 331.1,167.9 331.7,168.0 332.2,168.1 332.8,168.2 333.4,168.3 333.9,168.4 334.5,168.5 335.1,168.6 335.6,168.6 336.2,168.7 336.7,168.8 337.3,168.9 337.9,169.0 338.4,169.1 339.0,169.1 339.6,169.2 340.1,169.3 340.7,169.4 341.3,169.5 341.8,169.5 342.4,169.6" stroke-width="0.9"/><g fill="#fff" stroke-width="0.95"><circle cx="45.3" cy="171.6" r="1.05"/><circle cx="47.6" cy="171.2" r="1.05"/><circle cx="49.9" cy="170.7" r="1.05"/><circle cx="52.1" cy="170.1" r="1.05"/><circle cx="54.4" cy="169.5" r="1.05"/><circle cx="56.7" cy="168.8" r="1.05"/><circle cx="58.9" cy="168.0" r="1.05"/><circle cx="61.2" cy="167.3" r="1.05"/><circle cx="63.5" cy="166.4" r="1.05"/><circle cx="65.7" cy="165.4" r="1.05"/><circle cx="68.0" cy="164.2" r="1.05"/><circle cx="70.3" cy="163.0" r="1.05"/><circle cx="72.5" cy="161.8" r="1.05"/><circle cx="74.8" cy="160.5" r="1.05"/><circle cx="77.1" cy="159.2" r="1.05"/><circle cx="79.3" cy="157.9" r="1.05"/><circle cx="81.6" cy="156.5" r="1.05"/><circle cx="83.9" cy="155.0" r="1.05"/><circle cx="86.1" cy="153.6" r="1.05"/><circle cx="88.4" cy="152.1" r="1.05"/><circle cx="90.7" cy="150.6" r="1.05"/><circle cx="92.9" cy="149.3" r="1.05"/><circle cx="95.2" cy="147.9" r="1.05"/><circle cx="97.5" cy="146.6" r="1.05"/><circle cx="99.7" cy="145.2" r="1.05"/><circle cx="102.0" cy="143.6" r="1.05"/><circle cx="104.3" cy="141.9" r="1.05"/><circle cx="106.5" cy="140.0" r="1.05"/><circle cx="108.8" cy="137.8" r="1.05"/><circle cx="111.0" cy="135.4" r="1.05"/><circle cx="113.3" cy="133.1" r="1.05"/><circle cx="115.6" cy="130.7" r="1.05"/><circle cx="117.8" cy="128.2" r="1.05"/><circle cx="120.1" cy="124.9" r="1.05"/><circle cx="122.4" cy="120.6" r="1.05"/><circle cx="124.6" cy="116.8" r="1.05"/><circle cx="126.9" cy="112.8" r="1.05"/><circle cx="129.2" cy="107.5" r="1.05"/><circle cx="131.4" cy="101.2" r="1.05"/><circle cx="133.7" cy="93.9" r="1.05"/><circle cx="136.0" cy="86.5" r="1.05"/><circle cx="138.2" cy="79.2" r="1.05"/><circle cx="140.5" cy="70.5" r="1.05"/><circle cx="142.8" cy="60.4" r="1.05"/><circle cx="145.0" cy="50.6" r="1.05"/><circle cx="147.3" cy="43.2" r="1.05"/><circle cx="149.6" cy="37.7" r="1.05"/><circle cx="151.8" cy="33.4" r="1.05"/><circle cx="154.1" cy="29.7" r="1.05"/><circle cx="156.4" cy="26.9" r="1.05"/><circle cx="158.6" cy="25.2" r="1.05"/><circle cx="160.9" cy="24.1" r="1.05"/><circle cx="163.2" cy="23.7" r="1.05"/><circle cx="165.4" cy="24.0" r="1.05"/><circle cx="167.7" cy="24.9" r="1.05"/><circle cx="170.0" cy="26.3" r="1.05"/><circle cx="172.2" cy="28.1" r="1.05"/><circle cx="174.5" cy="30.4" r="1.05"/><circle cx="176.7" cy="32.7" r="1.05"/><circle cx="179.0" cy="35.7" r="1.05"/><circle cx="181.3" cy="38.6" r="1.05"/><circle cx="183.5" cy="42.2" r="1.05"/><circle cx="185.8" cy="47.0" r="1.05"/><circle cx="188.1" cy="51.5" r="1.05"/><circle cx="190.3" cy="55.9" r="1.05"/><circle cx="192.6" cy="60.2" r="1.05"/><circle cx="194.9" cy="64.6" r="1.05"/><circle cx="197.1" cy="68.9" r="1.05"/><circle cx="199.4" cy="73.2" r="1.05"/><circle cx="201.7" cy="77.4" r="1.05"/><circle cx="203.9" cy="81.7" r="1.05"/><circle cx="206.2" cy="85.9" r="1.05"/><circle cx="208.5" cy="90.0" r="1.05"/><circle cx="210.7" cy="93.9" r="1.05"/><circle cx="213.0" cy="97.5" r="1.05"/><circle cx="215.3" cy="100.9" r="1.05"/><circle cx="217.5" cy="104.1" r="1.05"/><circle cx="219.8" cy="107.2" r="1.05"/><circle cx="222.1" cy="110.2" r="1.05"/><circle cx="224.3" cy="113.0" r="1.05"/><circle cx="226.6" cy="115.7" r="1.05"/><circle cx="228.9" cy="118.4" r="1.05"/><circle cx="231.1" cy="121.0" r="1.05"/><circle cx="233.4" cy="123.5" r="1.05"/><circle cx="235.7" cy="126.0" r="1.05"/><circle cx="237.9" cy="128.3" r="1.05"/><circle cx="240.2" cy="130.4" r="1.05"/><circle cx="242.4" cy="132.5" r="1.05"/><circle cx="244.7" cy="134.5" r="1.05"/><circle cx="247.0" cy="136.4" r="1.05"/><circle cx="249.2" cy="138.3" r="1.05"/><circle cx="251.5" cy="140.2" r="1.05"/><circle cx="253.8" cy="142.0" r="1.05"/><circle cx="256.0" cy="143.7" r="1.05"/><circle cx="258.3" cy="145.3" r="1.05"/><circle cx="260.6" cy="146.8" r="1.05"/><circle cx="262.8" cy="148.2" r="1.05"/><circle cx="265.1" cy="149.3" r="1.05"/><circle cx="267.4" cy="150.4" r="1.05"/><circle cx="269.6" cy="151.4" r="1.05"/><circle cx="271.9" cy="152.4" r="1.05"/><circle cx="274.2" cy="153.3" r="1.05"/><circle cx="276.4" cy="154.2" r="1.05"/><circle cx="278.7" cy="155.0" r="1.05"/><circle cx="281.0" cy="155.8" r="1.05"/><circle cx="283.2" cy="156.6" r="1.05"/><circle cx="285.5" cy="157.4" r="1.05"/><circle cx="287.8" cy="158.1" r="1.05"/><circle cx="290.0" cy="158.8" r="1.05"/><circle cx="292.3" cy="159.5" r="1.05"/><circle cx="294.6" cy="160.1" r="1.05"/><circle cx="296.8" cy="160.8" r="1.05"/><circle cx="299.1" cy="161.4" r="1.05"/><circle cx="301.4" cy="161.9" r="1.05"/><circle cx="303.6" cy="162.5" r="1.05"/><circle cx="305.9" cy="163.0" r="1.05"/><circle cx="308.1" cy="163.5" r="1.05"/><circle cx="310.4" cy="164.0" r="1.05"/><circle cx="312.7" cy="164.5" r="1.05"/><circle cx="314.9" cy="165.0" r="1.05"/><circle cx="317.2" cy="165.4" r="1.05"/><circle cx="319.5" cy="165.9" r="1.05"/><circle cx="321.7" cy="166.3" r="1.05"/><circle cx="324.0" cy="166.7" r="1.05"/><circle cx="326.3" cy="167.1" r="1.05"/><circle cx="328.5" cy="167.5" r="1.05"/><circle cx="330.8" cy="167.9" r="1.05"/><circle cx="333.1" cy="168.2" r="1.05"/><circle cx="335.3" cy="168.6" r="1.05"/><circle cx="337.6" cy="168.9" r="1.05"/><circle cx="339.9" cy="169.3" r="1.05"/><circle cx="342.1" cy="169.6" r="1.05"/></g></g>
<g stroke="#5238ec" fill="none" clip-path="url(#ca)"><polyline points="44.5,171.5 45.1,171.4 45.6,171.3 46.2,171.2 46.8,171.1 47.3,171.0 47.9,170.8 48.5,170.7 49.0,170.6 49.6,170.4 50.2,170.3 50.7,170.2 51.3,170.0 51.9,169.9 52.4,169.7 53.0,169.5 53.6,169.4 54.1,169.2 54.7,169.0 55.3,168.8 55.8,168.7 56.4,168.5 57.0,168.3 57.5,168.1 58.1,167.9 58.7,167.7 59.2,167.5 59.8,167.3 60.4,167.1 60.9,166.9 61.5,166.7 62.1,166.5 62.6,166.3 63.2,166.0 63.8,165.8 64.3,165.5 64.9,165.3 65.5,165.0 66.0,164.7 66.6,164.5 67.2,164.2 67.7,163.9 68.3,163.6 68.9,163.3 69.4,163.0 70.0,162.7 70.6,162.3 71.1,162.0 71.7,161.7 72.3,161.4 72.8,161.0 73.4,160.7 74.0,160.4 74.5,160.0 75.1,159.7 75.7,159.3 76.2,159.0 76.8,158.7 77.3,158.3 77.9,158.0 78.5,157.6 79.0,157.2 79.6,156.9 80.2,156.5 80.7,156.1 81.3,155.7 81.9,155.3 82.4,154.9 83.0,154.5 83.6,154.1 84.1,153.7 84.7,153.3 85.3,152.9 85.8,152.5 86.4,152.1 87.0,151.6 87.5,151.2 88.1,150.8 88.7,150.4 89.2,150.0 89.8,149.6 90.4,149.2 90.9,148.8 91.5,148.5 92.1,148.1 92.6,147.7 93.2,147.3 93.8,147.0 94.3,146.6 94.9,146.3 95.5,145.9 96.0,145.6 96.6,145.3 97.2,144.9 97.7,144.5 98.3,144.2 98.9,143.8 99.4,143.4 100.0,143.0 100.6,142.6 101.1,142.2 101.7,141.8 102.3,141.4 102.8,140.9 103.4,140.5 104.0,140.0 104.5,139.6 105.1,139.1 105.7,138.6 106.2,138.1 106.8,137.6 107.4,137.0 107.9,136.5 108.5,135.9 109.1,135.3 109.6,134.8 110.2,134.2 110.8,133.6 111.3,133.0 111.9,132.4 112.5,131.8 113.0,131.2 113.6,130.7 114.2,130.1 114.7,129.5 115.3,129.0 115.9,128.4 116.4,127.8 117.0,127.1 117.6,126.4 118.1,125.7 118.7,124.9 119.3,124.1 119.8,123.0 120.4,121.8 121.0,120.5 121.5,119.1 122.1,117.8 122.7,116.6 123.2,115.4 123.8,114.4 124.4,113.3 124.9,112.3 125.5,111.2 126.1,110.1 126.6,108.8 127.2,107.5 127.8,106.1 128.3,104.6 128.9,103.1 129.5,101.5 130.0,99.8 130.6,98.1 131.2,96.4 131.7,94.5 132.3,92.6 132.9,90.5 133.4,88.5 134.0,86.5 134.6,84.5 135.1,82.6 135.7,80.6 136.3,78.7 136.8,76.9 137.4,75.1 138.0,73.2 138.5,71.3 139.1,69.2 139.7,67.0 140.2,64.5 140.8,61.8 141.4,58.9 141.9,56.1 142.5,53.3 143.0,50.6 143.6,47.9 144.2,45.1 144.7,42.5 145.3,40.2 145.9,38.2 146.4,36.4 147.0,34.9 147.6,33.4 148.1,32.0 148.7,30.7 149.3,29.7 149.8,28.7 150.4,27.8 151.0,26.9 151.5,26.1 152.1,25.3 152.7,24.6 153.2,23.8 153.8,23.1 154.4,22.4 154.9,21.7 155.5,21.2 156.1,20.8 156.6,20.5 157.2,20.3 157.8,20.0 158.3,19.7 158.9,19.4 159.5,19.2 160.0,19.1 160.6,19.0 161.2,19.0 161.7,19.0 162.3,19.0 162.9,19.0 163.4,19.1 164.0,19.2 164.6,19.3 165.1,19.5 165.7,19.7 166.3,20.0 166.8,20.3 167.4,20.6 168.0,21.0 168.5,21.3 169.1,21.7 169.7,22.1 170.2,22.5 170.8,22.9 171.4,23.4 171.9,24.0 172.5,24.6 173.1,25.3 173.6,25.9 174.2,26.5 174.8,27.0 175.3,27.5 175.9,28.1 176.5,28.8 177.0,29.6 177.6,30.4 178.2,31.2 178.7,31.9 179.3,32.7 179.9,33.4 180.4,34.1 181.0,34.9 181.6,35.7 182.1,36.5 182.7,37.4 183.3,38.4 183.8,39.4 184.4,40.5 185.0,41.6 185.5,42.8 186.1,43.9 186.7,45.1 187.2,46.2 187.8,47.3 188.4,48.4 188.9,49.5 189.5,50.6 190.1,51.7 190.6,52.8 191.2,53.9 191.8,55.0 192.3,56.1 192.9,57.2 193.5,58.2 194.0,59.3 194.6,60.4 195.2,61.5 195.7,62.5 196.3,63.6 196.9,64.7 197.4,65.7 198.0,66.8 198.6,67.9 199.1,68.9 199.7,70.0 200.3,71.0 200.8,72.1 201.4,73.1 202.0,74.2 202.5,75.2 203.1,76.3 203.7,77.4 204.2,78.4 204.8,79.5 205.4,80.6 205.9,81.7 206.5,82.7 207.0,83.8 207.6,84.9 208.2,85.9 208.7,87.0 209.3,88.0 209.9,89.0 210.4,90.0 211.0,91.0 211.6,92.0 212.1,93.0 212.7,93.9 213.3,94.8 213.8,95.7 214.4,96.6 215.0,97.5 215.5,98.3 216.1,99.2 216.7,100.0 217.2,100.8 217.8,101.7 218.4,102.5 218.9,103.3 219.5,104.1 220.1,104.9 220.6,105.7 221.2,106.4 221.8,107.2 222.3,108.0 222.9,108.7 223.5,109.5 224.0,110.2 224.6,111.0 225.2,111.7 225.7,112.4 226.3,113.1 226.9,113.9 227.4,114.6 228.0,115.3 228.6,116.0 229.1,116.6 229.7,117.3 230.3,118.0 230.8,118.7 231.4,119.3 232.0,120.0 232.5,120.6 233.1,121.3 233.7,121.9 234.2,122.5 234.8,123.2 235.4,123.8 235.9,124.4 236.5,125.0 237.1,125.6 237.6,126.2 238.2,126.7 238.8,127.3 239.3,127.9 239.9,128.4 240.5,129.0 241.0,129.6 241.6,130.1 242.2,130.7 242.7,131.2 243.3,131.7 243.9,132.3 244.4,132.8 245.0,133.4 245.6,133.9 246.1,134.4 246.7,135.0 247.3,135.5 247.8,136.1 248.4,136.6 249.0,137.1 249.5,137.7 250.1,138.2 250.7,138.7 251.2,139.2 251.8,139.7 252.4,140.2 252.9,140.7 253.5,141.2 254.1,141.7 254.6,142.1 255.2,142.6 255.8,143.0 256.3,143.5 256.9,143.9 257.5,144.3 258.0,144.7 258.6,145.2 259.2,145.6 259.7,145.9 260.3,146.3 260.9,146.7 261.4,147.0 262.0,147.4 262.6,147.7 263.1,148.0 263.7,148.3 264.3,148.6 264.8,148.9 265.4,149.2 266.0,149.5 266.5,149.8 267.1,150.0 267.7,150.3 268.2,150.6 268.8,150.8 269.4,151.1 269.9,151.3 270.5,151.5 271.0,151.8 271.6,152.0 272.2,152.3 272.7,152.5 273.3,152.7 273.9,153.0 274.4,153.2 275.0,153.4 275.6,153.6 276.1,153.9 276.7,154.1 277.3,154.3 277.8,154.5 278.4,154.7 279.0,154.9 279.5,155.1 280.1,155.3 280.7,155.6 281.2,155.8 281.8,156.0 282.4,156.2 282.9,156.4 283.5,156.5 284.1,156.7 284.6,156.9 285.2,157.1 285.8,157.3 286.3,157.5 286.9,157.7 287.5,157.8 288.0,158.0 288.6,158.2 289.2,158.4 289.7,158.6 290.3,158.7 290.9,158.9 291.4,159.1 292.0,159.2 292.6,159.4 293.1,159.6 293.7,159.7 294.3,159.9 294.8,160.1 295.4,160.2 296.0,160.4 296.5,160.5 297.1,160.7 297.7,160.8 298.2,161.0 298.8,161.1 299.4,161.3 299.9,161.4 300.5,161.6 301.1,161.7 301.6,161.9 302.2,162.0 302.8,162.1 303.3,162.3 303.9,162.4 304.5,162.5 305.0,162.7 305.6,162.8 306.2,162.9 306.7,163.1 307.3,163.2 307.9,163.3 308.4,163.4 309.0,163.6 309.6,163.7 310.1,163.8 310.7,163.9 311.3,164.1 311.8,164.2 312.4,164.3 313.0,164.4 313.5,164.5 314.1,164.7 314.7,164.8 315.2,164.9 315.8,165.0 316.4,165.1 316.9,165.2 317.5,165.3 318.1,165.4 318.6,165.5 319.2,165.7 319.8,165.8 320.3,165.9 320.9,166.0 321.5,166.1 322.0,166.2 322.6,166.3 323.2,166.4 323.7,166.5 324.3,166.6 324.9,166.7 325.4,166.8 326.0,166.9 326.6,167.0 327.1,167.1 327.7,167.2 328.3,167.3 328.8,167.4 329.4,167.5 330.0,167.6 330.5,167.7 331.1,167.8 331.7,167.9 332.2,168.0 332.8,168.0 333.4,168.1 333.9,168.2 334.5,168.3 335.1,168.4 335.6,168.5 336.2,168.6 336.7,168.7 337.3,168.7 337.9,168.8 338.4,168.9 339.0,169.0 339.6,169.1 340.1,169.2 340.7,169.2 341.3,169.3 341.8,169.4 342.4,169.5" stroke-width="0.9"/><g fill="#fff" stroke-width="0.95"><circle cx="44.5" cy="171.5" r="1.05"/><circle cx="46.8" cy="171.1" r="1.05"/><circle cx="49.0" cy="170.6" r="1.05"/><circle cx="51.3" cy="170.0" r="1.05"/><circle cx="53.6" cy="169.4" r="1.05"/><circle cx="55.8" cy="168.7" r="1.05"/><circle cx="58.1" cy="167.9" r="1.05"/><circle cx="60.4" cy="167.1" r="1.05"/><circle cx="62.6" cy="166.3" r="1.05"/><circle cx="64.9" cy="165.3" r="1.05"/><circle cx="67.2" cy="164.2" r="1.05"/><circle cx="69.4" cy="163.0" r="1.05"/><circle cx="71.7" cy="161.7" r="1.05"/><circle cx="74.0" cy="160.4" r="1.05"/><circle cx="76.2" cy="159.0" r="1.05"/><circle cx="78.5" cy="157.6" r="1.05"/><circle cx="80.7" cy="156.1" r="1.05"/><circle cx="83.0" cy="154.5" r="1.05"/><circle cx="85.3" cy="152.9" r="1.05"/><circle cx="87.5" cy="151.2" r="1.05"/><circle cx="89.8" cy="149.6" r="1.05"/><circle cx="92.1" cy="148.1" r="1.05"/><circle cx="94.3" cy="146.6" r="1.05"/><circle cx="96.6" cy="145.3" r="1.05"/><circle cx="98.9" cy="143.8" r="1.05"/><circle cx="101.1" cy="142.2" r="1.05"/><circle cx="103.4" cy="140.5" r="1.05"/><circle cx="105.7" cy="138.6" r="1.05"/><circle cx="107.9" cy="136.5" r="1.05"/><circle cx="110.2" cy="134.2" r="1.05"/><circle cx="112.5" cy="131.8" r="1.05"/><circle cx="114.7" cy="129.5" r="1.05"/><circle cx="117.0" cy="127.1" r="1.05"/><circle cx="119.3" cy="124.1" r="1.05"/><circle cx="121.5" cy="119.1" r="1.05"/><circle cx="123.8" cy="114.4" r="1.05"/><circle cx="126.1" cy="110.1" r="1.05"/><circle cx="128.3" cy="104.6" r="1.05"/><circle cx="130.6" cy="98.1" r="1.05"/><circle cx="132.9" cy="90.5" r="1.05"/><circle cx="135.1" cy="82.6" r="1.05"/><circle cx="137.4" cy="75.1" r="1.05"/><circle cx="139.7" cy="67.0" r="1.05"/><circle cx="141.9" cy="56.1" r="1.05"/><circle cx="144.2" cy="45.1" r="1.05"/><circle cx="146.4" cy="36.4" r="1.05"/><circle cx="148.7" cy="30.7" r="1.05"/><circle cx="151.0" cy="26.9" r="1.05"/><circle cx="153.2" cy="23.8" r="1.05"/><circle cx="155.5" cy="21.2" r="1.05"/><circle cx="157.8" cy="20.0" r="1.05"/><circle cx="160.0" cy="19.1" r="1.05"/><circle cx="162.3" cy="19.0" r="1.05"/><circle cx="164.6" cy="19.3" r="1.05"/><circle cx="166.8" cy="20.3" r="1.05"/><circle cx="169.1" cy="21.7" r="1.05"/><circle cx="171.4" cy="23.4" r="1.05"/><circle cx="173.6" cy="25.9" r="1.05"/><circle cx="175.9" cy="28.1" r="1.05"/><circle cx="178.2" cy="31.2" r="1.05"/><circle cx="180.4" cy="34.1" r="1.05"/><circle cx="182.7" cy="37.4" r="1.05"/><circle cx="185.0" cy="41.6" r="1.05"/><circle cx="187.2" cy="46.2" r="1.05"/><circle cx="189.5" cy="50.6" r="1.05"/><circle cx="191.8" cy="55.0" r="1.05"/><circle cx="194.0" cy="59.3" r="1.05"/><circle cx="196.3" cy="63.6" r="1.05"/><circle cx="198.6" cy="67.9" r="1.05"/><circle cx="200.8" cy="72.1" r="1.05"/><circle cx="203.1" cy="76.3" r="1.05"/><circle cx="205.4" cy="80.6" r="1.05"/><circle cx="207.6" cy="84.9" r="1.05"/><circle cx="209.9" cy="89.0" r="1.05"/><circle cx="212.1" cy="93.0" r="1.05"/><circle cx="214.4" cy="96.6" r="1.05"/><circle cx="216.7" cy="100.0" r="1.05"/><circle cx="218.9" cy="103.3" r="1.05"/><circle cx="221.2" cy="106.4" r="1.05"/><circle cx="223.5" cy="109.5" r="1.05"/><circle cx="225.7" cy="112.4" r="1.05"/><circle cx="228.0" cy="115.3" r="1.05"/><circle cx="230.3" cy="118.0" r="1.05"/><circle cx="232.5" cy="120.6" r="1.05"/><circle cx="234.8" cy="123.2" r="1.05"/><circle cx="237.1" cy="125.6" r="1.05"/><circle cx="239.3" cy="127.9" r="1.05"/><circle cx="241.6" cy="130.1" r="1.05"/><circle cx="243.9" cy="132.3" r="1.05"/><circle cx="246.1" cy="134.4" r="1.05"/><circle cx="248.4" cy="136.6" r="1.05"/><circle cx="250.7" cy="138.7" r="1.05"/><circle cx="252.9" cy="140.7" r="1.05"/><circle cx="255.2" cy="142.6" r="1.05"/><circle cx="257.5" cy="144.3" r="1.05"/><circle cx="259.7" cy="145.9" r="1.05"/><circle cx="262.0" cy="147.4" r="1.05"/><circle cx="264.3" cy="148.6" r="1.05"/><circle cx="266.5" cy="149.8" r="1.05"/><circle cx="268.8" cy="150.8" r="1.05"/><circle cx="271.0" cy="151.8" r="1.05"/><circle cx="273.3" cy="152.7" r="1.05"/><circle cx="275.6" cy="153.6" r="1.05"/><circle cx="277.8" cy="154.5" r="1.05"/><circle cx="280.1" cy="155.3" r="1.05"/><circle cx="282.4" cy="156.2" r="1.05"/><circle cx="284.6" cy="156.9" r="1.05"/><circle cx="286.9" cy="157.7" r="1.05"/><circle cx="289.2" cy="158.4" r="1.05"/><circle cx="291.4" cy="159.1" r="1.05"/><circle cx="293.7" cy="159.7" r="1.05"/><circle cx="296.0" cy="160.4" r="1.05"/><circle cx="298.2" cy="161.0" r="1.05"/><circle cx="300.5" cy="161.6" r="1.05"/><circle cx="302.8" cy="162.1" r="1.05"/><circle cx="305.0" cy="162.7" r="1.05"/><circle cx="307.3" cy="163.2" r="1.05"/><circle cx="309.6" cy="163.7" r="1.05"/><circle cx="311.8" cy="164.2" r="1.05"/><circle cx="314.1" cy="164.7" r="1.05"/><circle cx="316.4" cy="165.1" r="1.05"/><circle cx="318.6" cy="165.5" r="1.05"/><circle cx="320.9" cy="166.0" r="1.05"/><circle cx="323.2" cy="166.4" r="1.05"/><circle cx="325.4" cy="166.8" r="1.05"/><circle cx="327.7" cy="167.2" r="1.05"/><circle cx="330.0" cy="167.6" r="1.05"/><circle cx="332.2" cy="168.0" r="1.05"/><circle cx="334.5" cy="168.3" r="1.05"/><circle cx="336.7" cy="168.7" r="1.05"/><circle cx="339.0" cy="169.0" r="1.05"/><circle cx="341.3" cy="169.3" r="1.05"/></g></g>
<g stroke="#ff1a1a" fill="none" clip-path="url(#cb)"><polyline points="44.5,360.4 45.1,360.2 45.6,360.0 46.2,359.8 46.8,359.6 47.3,359.4 47.9,359.2 48.5,359.1 49.0,358.9 49.6,358.7 50.2,358.6 50.7,358.5 51.3,358.3 51.9,358.2 52.4,358.1 53.0,358.0 53.6,357.9 54.1,357.8 54.7,357.7 55.3,357.7 55.8,357.6 56.4,357.5 57.0,357.5 57.5,357.4 58.1,357.4 58.7,357.3 59.2,357.3 59.8,357.2 60.4,357.2 60.9,357.2 61.5,357.2 62.1,357.1 62.6,357.1 63.2,357.1 63.8,357.1 64.3,357.0 64.9,357.0 65.5,357.0 66.0,357.0 66.6,357.0 67.2,357.0 67.7,357.0 68.3,356.9 68.9,356.9 69.4,356.9 70.0,356.9 70.6,356.9 71.1,356.9 71.7,356.8 72.3,356.8 72.8,356.8 73.4,356.8 74.0,356.8 74.5,356.7 75.1,356.7 75.7,356.7 76.2,356.7 76.8,356.6 77.3,356.6 77.9,356.6 78.5,356.6 79.0,356.5 79.6,356.5 80.2,356.4 80.7,356.4 81.3,356.4 81.9,356.3 82.4,356.3 83.0,356.2 83.6,356.1 84.1,356.1 84.7,356.0 85.3,355.9 85.8,355.9 86.4,355.8 87.0,355.7 87.5,355.6 88.1,355.5 88.7,355.5 89.2,355.4 89.8,355.3 90.4,355.1 90.9,355.0 91.5,354.9 92.1,354.8 92.6,354.6 93.2,354.5 93.8,354.3 94.3,354.2 94.9,354.0 95.5,353.9 96.0,353.7 96.6,353.6 97.2,353.4 97.7,353.3 98.3,353.2 98.9,353.0 99.4,352.9 100.0,352.8 100.6,352.6 101.1,352.5 101.7,352.4 102.3,352.2 102.8,352.0 103.4,351.8 104.0,351.6 104.5,351.3 105.1,351.0 105.7,350.6 106.2,350.0 106.8,349.3 107.4,348.6 107.9,347.8 108.5,347.0 109.1,346.2 109.6,345.2 110.2,344.2 110.8,343.2 111.3,342.2 111.9,341.2 112.5,340.2 113.0,339.3 113.6,338.3 114.2,337.4 114.7,336.4 115.3,335.5 115.9,334.5 116.4,333.6 117.0,332.6 117.6,331.6 118.1,330.5 118.7,329.5 119.3,328.5 119.8,327.5 120.4,326.5 121.0,325.6 121.5,324.6 122.1,323.7 122.7,322.7 123.2,321.6 123.8,320.3 124.4,318.9 124.9,317.3 125.5,315.7 126.1,314.0 126.6,312.4 127.2,310.7 127.8,309.0 128.3,307.2 128.9,305.2 129.5,303.1 130.0,300.8 130.6,298.4 131.2,295.9 131.7,293.1 132.3,290.1 132.9,287.0 133.4,283.6 134.0,279.9 134.6,276.0 135.1,272.2 135.7,268.4 136.3,264.4 136.8,260.5 137.4,256.6 138.0,252.8 138.5,248.9 139.1,245.1 139.7,241.4 140.2,237.8 140.8,234.3 141.4,230.9 141.9,227.7 142.5,224.7 143.0,221.8 143.6,219.2 144.2,217.1 144.7,215.4 145.3,213.8 145.9,212.6 146.4,212.2 147.0,212.2 147.6,212.4 148.1,212.6 148.7,212.9 149.3,213.6 149.8,214.8 150.4,216.2 151.0,217.9 151.5,219.7 152.1,222.0 152.7,224.4 153.2,227.0 153.8,229.6 154.4,232.5 154.9,235.4 155.5,238.4 156.1,241.3 156.6,244.2 157.2,247.2 157.8,250.2 158.3,253.1 158.9,255.9 159.5,258.8 160.0,261.9 160.6,265.3 161.2,268.9 161.7,272.5 162.3,276.0 162.9,279.3 163.4,282.6 164.0,285.7 164.6,288.5 165.1,291.1 165.7,293.4 166.3,295.6 166.8,297.7 167.4,299.7 168.0,301.8 168.5,303.8 169.1,305.8 169.7,307.6 170.2,309.4 170.8,311.0 171.4,312.5 171.9,313.8 172.5,315.0 173.1,316.0 173.6,317.0 174.2,318.0 174.8,318.9 175.3,319.7 175.9,320.5 176.5,321.1 177.0,321.7 177.6,322.3 178.2,322.7 178.7,323.2 179.3,323.5 179.9,323.9 180.4,324.3 181.0,324.6 181.6,325.0 182.1,325.4 182.7,325.8 183.3,326.2 183.8,326.6 184.4,326.9 185.0,327.3 185.5,327.6 186.1,328.0 186.7,328.3 187.2,328.6 187.8,328.9 188.4,329.2 188.9,329.5 189.5,329.8 190.1,330.1 190.6,330.4 191.2,330.7 191.8,331.0 192.3,331.3 192.9,331.6 193.5,331.9 194.0,332.2 194.6,332.6 195.2,332.9 195.7,333.2 196.3,333.5 196.9,333.8 197.4,334.1 198.0,334.4 198.6,334.7 199.1,335.1 199.7,335.4 200.3,335.7 200.8,336.1 201.4,336.4 202.0,336.8 202.5,337.1 203.1,337.5 203.7,337.8 204.2,338.2 204.8,338.6 205.4,338.9 205.9,339.3 206.5,339.6 207.0,340.0 207.6,340.3 208.2,340.7 208.7,341.0 209.3,341.3 209.9,341.6 210.4,341.9 211.0,342.2 211.6,342.4 212.1,342.7 212.7,343.0 213.3,343.3 213.8,343.5 214.4,343.8 215.0,344.1 215.5,344.4 216.1,344.7 216.7,345.0 217.2,345.3 217.8,345.7 218.4,346.1 218.9,346.5 219.5,346.9 220.1,347.3 220.6,347.7 221.2,348.2 221.8,348.6 222.3,349.0 222.9,349.4 223.5,349.7 224.0,350.0 224.6,350.3 225.2,350.6 225.7,350.9 226.3,351.2 226.9,351.5 227.4,351.8 228.0,352.0 228.6,352.3 229.1,352.5 229.7,352.8 230.3,353.0 230.8,353.3 231.4,353.5 232.0,353.7 232.5,354.0 233.1,354.2 233.7,354.4 234.2,354.6 234.8,354.9 235.4,355.1 235.9,355.3 236.5,355.5 237.1,355.8 237.6,356.0 238.2,356.2 238.8,356.4 239.3,356.6 239.9,356.8 240.5,357.0 241.0,357.2 241.6,357.4 242.2,357.6 242.7,357.8 243.3,357.9 243.9,358.1 244.4,358.2 245.0,358.4 245.6,358.5 246.1,358.6 246.7,358.8 247.3,358.9 247.8,359.0 248.4,359.2 249.0,359.3 249.5,359.4 250.1,359.5 250.7,359.6 251.2,359.7 251.8,359.8 252.4,359.9 252.9,360.0 253.5,360.1 254.1,360.2 254.6,360.2 255.2,360.3 255.8,360.4 256.3,360.5 256.9,360.6 257.5,360.6 258.0,360.7 258.6,360.8 259.2,360.8 259.7,360.9 260.3,361.0 260.9,361.0 261.4,361.1 262.0,361.1 262.6,361.2 263.1,361.2 263.7,361.2 264.3,361.3 264.8,361.3 265.4,361.4 266.0,361.4 266.5,361.5 267.1,361.5 267.7,361.5 268.2,361.6 268.8,361.6 269.4,361.6 269.9,361.7 270.5,361.7 271.0,361.7 271.6,361.8 272.2,361.8 272.7,361.8 273.3,361.9 273.9,361.9 274.4,361.9 275.0,362.0 275.6,362.0 276.1,362.0 276.7,362.0 277.3,362.1 277.8,362.1 278.4,362.1 279.0,362.1 279.5,362.1 280.1,362.2 280.7,362.2 281.2,362.2 281.8,362.2 282.4,362.2 282.9,362.2 283.5,362.2 284.1,362.3 284.6,362.3 285.2,362.3 285.8,362.3 286.3,362.3 286.9,362.3 287.5,362.3 288.0,362.3 288.6,362.3 289.2,362.3 289.7,362.3 290.3,362.3 290.9,362.3 291.4,362.3 292.0,362.4 292.6,362.4 293.1,362.4 293.7,362.4 294.3,362.4 294.8,362.4 295.4,362.4 296.0,362.4 296.5,362.4 297.1,362.4 297.7,362.4 298.2,362.4 298.8,362.4 299.4,362.4 299.9,362.4 300.5,362.4 301.1,362.4 301.6,362.5 302.2,362.5 302.8,362.5 303.3,362.5 303.9,362.5 304.5,362.5 305.0,362.5 305.6,362.5 306.2,362.5 306.7,362.5 307.3,362.5 307.9,362.5 308.4,362.5 309.0,362.5 309.6,362.5 310.1,362.5 310.7,362.5 311.3,362.5 311.8,362.5 312.4,362.5 313.0,362.5 313.5,362.5 314.1,362.6 314.7,362.6 315.2,362.6 315.8,362.6 316.4,362.6 316.9,362.6 317.5,362.6 318.1,362.6 318.6,362.6 319.2,362.6 319.8,362.6 320.3,362.6 320.9,362.6 321.5,362.6 322.0,362.6 322.6,362.6 323.2,362.6 323.7,362.6 324.3,362.6 324.9,362.6 325.4,362.6 326.0,362.6 326.6,362.6 327.1,362.6 327.7,362.6 328.3,362.6 328.8,362.6 329.4,362.6 330.0,362.6 330.5,362.6 331.1,362.6 331.7,362.6 332.2,362.6 332.8,362.6 333.4,362.6 333.9,362.6 334.5,362.6 335.1,362.6 335.6,362.6 336.2,362.6 336.7,362.6 337.3,362.6 337.9,362.6 338.4,362.6 339.0,362.6 339.6,362.6 340.1,362.6 340.7,362.6 341.3,362.6 341.8,362.6 342.4,362.6" stroke-width="0.9"/><g fill="#fff" stroke-width="0.95"><circle cx="46.5" cy="359.7" r="1.05"/><circle cx="48.7" cy="359.0" r="1.05"/><circle cx="51.0" cy="358.4" r="1.05"/><circle cx="53.3" cy="357.9" r="1.05"/><circle cx="55.5" cy="357.6" r="1.05"/><circle cx="57.8" cy="357.4" r="1.05"/><circle cx="60.1" cy="357.2" r="1.05"/><circle cx="62.3" cy="357.1" r="1.05"/><circle cx="64.6" cy="357.0" r="1.05"/><circle cx="66.9" cy="357.0" r="1.05"/><circle cx="69.1" cy="356.9" r="1.05"/><circle cx="71.4" cy="356.8" r="1.05"/><circle cx="73.7" cy="356.8" r="1.05"/><circle cx="75.9" cy="356.7" r="1.05"/><circle cx="78.2" cy="356.6" r="1.05"/><circle cx="80.5" cy="356.4" r="1.05"/><circle cx="82.7" cy="356.2" r="1.05"/><circle cx="85.0" cy="356.0" r="1.05"/><circle cx="87.3" cy="355.7" r="1.05"/><circle cx="89.5" cy="355.3" r="1.05"/><circle cx="91.8" cy="354.8" r="1.05"/><circle cx="94.1" cy="354.3" r="1.05"/><circle cx="96.3" cy="353.7" r="1.05"/><circle cx="98.6" cy="353.1" r="1.05"/><circle cx="100.9" cy="352.6" r="1.05"/><circle cx="103.1" cy="351.9" r="1.05"/><circle cx="105.4" cy="350.8" r="1.05"/><circle cx="107.7" cy="348.2" r="1.05"/><circle cx="109.9" cy="344.7" r="1.05"/><circle cx="112.2" cy="340.7" r="1.05"/><circle cx="114.4" cy="336.9" r="1.05"/><circle cx="116.7" cy="333.1" r="1.05"/><circle cx="119.0" cy="329.0" r="1.05"/><circle cx="121.2" cy="325.1" r="1.05"/><circle cx="123.5" cy="321.0" r="1.05"/><circle cx="125.8" cy="314.8" r="1.05"/><circle cx="128.0" cy="308.1" r="1.05"/><circle cx="130.3" cy="299.6" r="1.05"/><circle cx="132.6" cy="288.6" r="1.05"/><circle cx="134.8" cy="274.1" r="1.05"/><circle cx="137.1" cy="258.6" r="1.05"/><circle cx="139.4" cy="243.2" r="1.05"/><circle cx="141.6" cy="229.3" r="1.05"/><circle cx="143.9" cy="218.0" r="1.05"/><circle cx="146.2" cy="212.3" r="1.05"/><circle cx="148.4" cy="212.8" r="1.05"/><circle cx="150.7" cy="217.1" r="1.05"/><circle cx="153.0" cy="225.7" r="1.05"/><circle cx="155.2" cy="236.9" r="1.05"/><circle cx="157.5" cy="248.7" r="1.05"/><circle cx="159.8" cy="260.4" r="1.05"/><circle cx="162.0" cy="274.3" r="1.05"/><circle cx="164.3" cy="287.2" r="1.05"/><circle cx="166.6" cy="296.6" r="1.05"/><circle cx="168.8" cy="304.8" r="1.05"/><circle cx="171.1" cy="311.8" r="1.05"/><circle cx="173.4" cy="316.5" r="1.05"/><circle cx="175.6" cy="320.1" r="1.05"/><circle cx="177.9" cy="322.5" r="1.05"/><circle cx="180.1" cy="324.1" r="1.05"/><circle cx="182.4" cy="325.6" r="1.05"/><circle cx="184.7" cy="327.1" r="1.05"/><circle cx="186.9" cy="328.5" r="1.05"/><circle cx="189.2" cy="329.7" r="1.05"/><circle cx="191.5" cy="330.9" r="1.05"/><circle cx="193.7" cy="332.1" r="1.05"/><circle cx="196.0" cy="333.3" r="1.05"/><circle cx="198.3" cy="334.6" r="1.05"/><circle cx="200.5" cy="335.9" r="1.05"/><circle cx="202.8" cy="337.3" r="1.05"/><circle cx="205.1" cy="338.7" r="1.05"/><circle cx="207.3" cy="340.2" r="1.05"/><circle cx="209.6" cy="341.4" r="1.05"/><circle cx="211.9" cy="342.6" r="1.05"/><circle cx="214.1" cy="343.7" r="1.05"/><circle cx="216.4" cy="344.9" r="1.05"/><circle cx="218.7" cy="346.3" r="1.05"/><circle cx="220.9" cy="348.0" r="1.05"/><circle cx="223.2" cy="349.6" r="1.05"/><circle cx="225.5" cy="350.8" r="1.05"/><circle cx="227.7" cy="351.9" r="1.05"/><circle cx="230.0" cy="352.9" r="1.05"/><circle cx="232.3" cy="353.8" r="1.05"/><circle cx="234.5" cy="354.7" r="1.05"/><circle cx="236.8" cy="355.6" r="1.05"/><circle cx="239.0" cy="356.5" r="1.05"/><circle cx="241.3" cy="357.3" r="1.05"/><circle cx="243.6" cy="358.0" r="1.05"/><circle cx="245.8" cy="358.6" r="1.05"/><circle cx="248.1" cy="359.1" r="1.05"/><circle cx="250.4" cy="359.5" r="1.05"/><circle cx="252.6" cy="359.9" r="1.05"/><circle cx="254.9" cy="360.3" r="1.05"/><circle cx="257.2" cy="360.6" r="1.05"/><circle cx="259.4" cy="360.9" r="1.05"/><circle cx="261.7" cy="361.1" r="1.05"/><circle cx="264.0" cy="361.3" r="1.05"/><circle cx="266.2" cy="361.4" r="1.05"/><circle cx="268.5" cy="361.6" r="1.05"/><circle cx="270.8" cy="361.7" r="1.05"/><circle cx="273.0" cy="361.9" r="1.05"/><circle cx="275.3" cy="362.0" r="1.05"/><circle cx="277.6" cy="362.1" r="1.05"/><circle cx="279.8" cy="362.1" r="1.05"/><circle cx="282.1" cy="362.2" r="1.05"/><circle cx="284.4" cy="362.3" r="1.05"/><circle cx="286.6" cy="362.3" r="1.05"/><circle cx="288.9" cy="362.3" r="1.05"/><circle cx="291.2" cy="362.3" r="1.05"/><circle cx="293.4" cy="362.4" r="1.05"/><circle cx="295.7" cy="362.4" r="1.05"/><circle cx="298.0" cy="362.4" r="1.05"/><circle cx="300.2" cy="362.4" r="1.05"/><circle cx="302.5" cy="362.5" r="1.05"/><circle cx="304.7" cy="362.5" r="1.05"/><circle cx="307.0" cy="362.5" r="1.05"/><circle cx="309.3" cy="362.5" r="1.05"/><circle cx="311.5" cy="362.5" r="1.05"/><circle cx="313.8" cy="362.5" r="1.05"/><circle cx="316.1" cy="362.6" r="1.05"/><circle cx="318.3" cy="362.6" r="1.05"/><circle cx="320.6" cy="362.6" r="1.05"/><circle cx="322.9" cy="362.6" r="1.05"/><circle cx="325.1" cy="362.6" r="1.05"/><circle cx="327.4" cy="362.6" r="1.05"/><circle cx="329.7" cy="362.6" r="1.05"/><circle cx="331.9" cy="362.6" r="1.05"/><circle cx="334.2" cy="362.6" r="1.05"/><circle cx="336.5" cy="362.6" r="1.05"/><circle cx="338.7" cy="362.6" r="1.05"/><circle cx="341.0" cy="362.6" r="1.05"/><circle cx="343.3" cy="362.6" r="1.05"/></g></g>
<g stroke="#1a901a" fill="none" clip-path="url(#cb)"><polyline points="44.5,359.4 45.1,359.2 45.6,359.0 46.2,358.8 46.8,358.7 47.3,358.5 47.9,358.3 48.5,358.2 49.0,358.0 49.6,357.9 50.2,357.8 50.7,357.6 51.3,357.5 51.9,357.4 52.4,357.3 53.0,357.1 53.6,357.0 54.1,356.9 54.7,356.9 55.3,356.8 55.8,356.7 56.4,356.6 57.0,356.5 57.5,356.5 58.1,356.4 58.7,356.3 59.2,356.3 59.8,356.2 60.4,356.2 60.9,356.1 61.5,356.1 62.1,356.0 62.6,356.0 63.2,356.0 63.8,355.9 64.3,355.9 64.9,355.9 65.5,355.9 66.0,355.8 66.6,355.8 67.2,355.8 67.7,355.8 68.3,355.8 68.9,355.7 69.4,355.7 70.0,355.7 70.6,355.7 71.1,355.6 71.7,355.6 72.3,355.6 72.8,355.5 73.4,355.5 74.0,355.5 74.5,355.4 75.1,355.4 75.7,355.4 76.2,355.3 76.8,355.3 77.3,355.3 77.9,355.2 78.5,355.2 79.0,355.1 79.6,355.1 80.2,355.0 80.7,355.0 81.3,354.9 81.9,354.9 82.4,354.8 83.0,354.7 83.6,354.7 84.1,354.6 84.7,354.5 85.3,354.4 85.8,354.4 86.4,354.3 87.0,354.2 87.5,354.1 88.1,354.0 88.7,353.9 89.2,353.8 89.8,353.7 90.4,353.6 90.9,353.5 91.5,353.3 92.1,353.2 92.6,353.1 93.2,352.9 93.8,352.8 94.3,352.6 94.9,352.5 95.5,352.3 96.0,352.2 96.6,352.0 97.2,351.9 97.7,351.7 98.3,351.6 98.9,351.5 99.4,351.4 100.0,351.2 100.6,351.1 101.1,351.0 101.7,350.8 102.3,350.6 102.8,350.5 103.4,350.3 104.0,350.1 104.5,349.8 105.1,349.5 105.7,349.2 106.2,348.7 106.8,348.2 107.4,347.6 107.9,347.0 108.5,346.4 109.1,345.7 109.6,344.9 110.2,344.1 110.8,343.2 111.3,342.4 111.9,341.5 112.5,340.6 113.0,339.7 113.6,338.8 114.2,337.8 114.7,336.9 115.3,335.9 115.9,334.9 116.4,333.9 117.0,332.9 117.6,331.9 118.1,330.9 118.7,329.9 119.3,328.9 119.8,327.9 120.4,326.9 121.0,325.9 121.5,325.0 122.1,324.1 122.7,323.0 123.2,321.9 123.8,320.7 124.4,319.3 124.9,317.7 125.5,316.0 126.1,314.4 126.6,312.8 127.2,311.1 127.8,309.4 128.3,307.5 128.9,305.6 129.5,303.4 130.0,301.2 130.6,298.8 131.2,296.2 131.7,293.5 132.3,290.5 132.9,287.4 133.4,284.1 134.0,280.5 134.6,276.7 135.1,273.0 135.7,269.1 136.3,265.2 136.8,261.2 137.4,257.4 138.0,253.7 138.5,250.0 139.1,246.5 139.7,242.9 140.2,239.3 140.8,235.5 141.4,232.1 141.9,229.3 142.5,226.9 143.0,224.6 143.6,222.9 144.2,222.0 144.7,221.7 145.3,221.5 145.9,221.3 146.4,221.3 147.0,221.8 147.6,223.0 148.1,224.6 148.7,226.2 149.3,228.0 149.8,230.0 150.4,232.2 151.0,234.6 151.5,237.1 152.1,239.7 152.7,242.5 153.2,245.2 153.8,247.9 154.4,250.7 154.9,253.5 155.5,256.2 156.1,259.0 156.6,261.8 157.2,264.5 157.8,267.3 158.3,270.0 158.9,272.7 159.5,275.3 160.0,277.9 160.6,280.4 161.2,282.7 161.7,285.1 162.3,287.4 162.9,289.8 163.4,292.3 164.0,294.7 164.6,296.9 165.1,299.0 165.7,300.9 166.3,302.8 166.8,304.5 167.4,306.1 168.0,307.8 168.5,309.3 169.1,310.7 169.7,311.9 170.2,312.8 170.8,313.7 171.4,314.4 171.9,315.1 172.5,315.7 173.1,316.2 173.6,316.7 174.2,317.0 174.8,317.4 175.3,317.7 175.9,318.0 176.5,318.2 177.0,318.5 177.6,318.7 178.2,318.9 178.7,319.1 179.3,319.3 179.9,319.5 180.4,319.7 181.0,319.9 181.6,320.1 182.1,320.4 182.7,320.6 183.3,320.9 183.8,321.1 184.4,321.4 185.0,321.6 185.5,321.8 186.1,322.0 186.7,322.2 187.2,322.4 187.8,322.6 188.4,322.8 188.9,323.0 189.5,323.2 190.1,323.4 190.6,323.6 191.2,323.8 191.8,324.0 192.3,324.3 192.9,324.5 193.5,324.7 194.0,325.0 194.6,325.3 195.2,325.7 195.7,326.0 196.3,326.4 196.9,326.8 197.4,327.2 198.0,327.7 198.6,328.1 199.1,328.5 199.7,328.9 200.3,329.3 200.8,329.6 201.4,330.0 202.0,330.3 202.5,330.7 203.1,331.0 203.7,331.4 204.2,331.7 204.8,332.0 205.4,332.4 205.9,332.7 206.5,333.0 207.0,333.4 207.6,333.8 208.2,334.1 208.7,334.5 209.3,334.9 209.9,335.3 210.4,335.7 211.0,336.2 211.6,336.6 212.1,337.1 212.7,337.5 213.3,338.0 213.8,338.4 214.4,338.9 215.0,339.3 215.5,339.8 216.1,340.2 216.7,340.7 217.2,341.1 217.8,341.5 218.4,341.9 218.9,342.4 219.5,342.8 220.1,343.2 220.6,343.6 221.2,344.0 221.8,344.4 222.3,344.8 222.9,345.2 223.5,345.5 224.0,345.9 224.6,346.2 225.2,346.6 225.7,346.9 226.3,347.3 226.9,347.6 227.4,348.0 228.0,348.3 228.6,348.6 229.1,348.9 229.7,349.3 230.3,349.6 230.8,349.9 231.4,350.2 232.0,350.5 232.5,350.7 233.1,351.0 233.7,351.3 234.2,351.6 234.8,351.8 235.4,352.0 235.9,352.3 236.5,352.5 237.1,352.7 237.6,353.0 238.2,353.2 238.8,353.4 239.3,353.6 239.9,353.8 240.5,354.0 241.0,354.2 241.6,354.3 242.2,354.5 242.7,354.7 243.3,354.9 243.9,355.0 244.4,355.2 245.0,355.4 245.6,355.5 246.1,355.7 246.7,355.9 247.3,356.0 247.8,356.2 248.4,356.3 249.0,356.5 249.5,356.6 250.1,356.7 250.7,356.9 251.2,357.0 251.8,357.1 252.4,357.2 252.9,357.3 253.5,357.4 254.1,357.5 254.6,357.6 255.2,357.7 255.8,357.7 256.3,357.8 256.9,357.9 257.5,358.0 258.0,358.0 258.6,358.1 259.2,358.1 259.7,358.2 260.3,358.3 260.9,358.3 261.4,358.4 262.0,358.5 262.6,358.5 263.1,358.6 263.7,358.7 264.3,358.7 264.8,358.8 265.4,358.9 266.0,358.9 266.5,359.0 267.1,359.1 267.7,359.2 268.2,359.2 268.8,359.3 269.4,359.4 269.9,359.4 270.5,359.5 271.0,359.6 271.6,359.6 272.2,359.7 272.7,359.8 273.3,359.8 273.9,359.9 274.4,360.0 275.0,360.0 275.6,360.1 276.1,360.2 276.7,360.2 277.3,360.3 277.8,360.3 278.4,360.4 279.0,360.4 279.5,360.5 280.1,360.5 280.7,360.5 281.2,360.6 281.8,360.6 282.4,360.7 282.9,360.7 283.5,360.7 284.1,360.7 284.6,360.7 285.2,360.8 285.8,360.8 286.3,360.8 286.9,360.8 287.5,360.8 288.0,360.8 288.6,360.8 289.2,360.9 289.7,360.9 290.3,360.9 290.9,360.9 291.4,360.9 292.0,360.9 292.6,360.9 293.1,360.9 293.7,361.0 294.3,361.0 294.8,361.0 295.4,361.0 296.0,361.0 296.5,361.0 297.1,361.0 297.7,361.0 298.2,361.1 298.8,361.1 299.4,361.1 299.9,361.1 300.5,361.1 301.1,361.1 301.6,361.1 302.2,361.1 302.8,361.1 303.3,361.2 303.9,361.2 304.5,361.2 305.0,361.2 305.6,361.2 306.2,361.2 306.7,361.2 307.3,361.2 307.9,361.2 308.4,361.2 309.0,361.3 309.6,361.3 310.1,361.3 310.7,361.3 311.3,361.3 311.8,361.3 312.4,361.3 313.0,361.3 313.5,361.3 314.1,361.3 314.7,361.3 315.2,361.3 315.8,361.3 316.4,361.4 316.9,361.4 317.5,361.4 318.1,361.4 318.6,361.4 319.2,361.4 319.8,361.4 320.3,361.4 320.9,361.4 321.5,361.4 322.0,361.4 322.6,361.4 323.2,361.4 323.7,361.4 324.3,361.4 324.9,361.4 325.4,361.4 326.0,361.4 326.6,361.4 327.1,361.5 327.7,361.5 328.3,361.5 328.8,361.5 329.4,361.5 330.0,361.5 330.5,361.5 331.1,361.5 331.7,361.5 332.2,361.5 332.8,361.5 333.4,361.5 333.9,361.5 334.5,361.5 335.1,361.5 335.6,361.5 336.2,361.5 336.7,361.5 337.3,361.5 337.9,361.5 338.4,361.5 339.0,361.5 339.6,361.5 340.1,361.5 340.7,361.5 341.3,361.5 341.8,361.5 342.4,361.5" stroke-width="0.9"/><g fill="#fff" stroke-width="0.95"><circle cx="46.2" cy="358.8" r="1.05"/><circle cx="48.5" cy="358.2" r="1.05"/><circle cx="50.7" cy="357.6" r="1.05"/><circle cx="53.0" cy="357.1" r="1.05"/><circle cx="55.3" cy="356.8" r="1.05"/><circle cx="57.5" cy="356.5" r="1.05"/><circle cx="59.8" cy="356.2" r="1.05"/><circle cx="62.1" cy="356.0" r="1.05"/><circle cx="64.3" cy="355.9" r="1.05"/><circle cx="66.6" cy="355.8" r="1.05"/><circle cx="68.9" cy="355.7" r="1.05"/><circle cx="71.1" cy="355.6" r="1.05"/><circle cx="73.4" cy="355.5" r="1.05"/><circle cx="75.7" cy="355.4" r="1.05"/><circle cx="77.9" cy="355.2" r="1.05"/><circle cx="80.2" cy="355.0" r="1.05"/><circle cx="82.4" cy="354.8" r="1.05"/><circle cx="84.7" cy="354.5" r="1.05"/><circle cx="87.0" cy="354.2" r="1.05"/><circle cx="89.2" cy="353.8" r="1.05"/><circle cx="91.5" cy="353.3" r="1.05"/><circle cx="93.8" cy="352.8" r="1.05"/><circle cx="96.0" cy="352.2" r="1.05"/><circle cx="98.3" cy="351.6" r="1.05"/><circle cx="100.6" cy="351.1" r="1.05"/><circle cx="102.8" cy="350.5" r="1.05"/><circle cx="105.1" cy="349.5" r="1.05"/><circle cx="107.4" cy="347.6" r="1.05"/><circle cx="109.6" cy="344.9" r="1.05"/><circle cx="111.9" cy="341.5" r="1.05"/><circle cx="114.2" cy="337.8" r="1.05"/><circle cx="116.4" cy="333.9" r="1.05"/><circle cx="118.7" cy="329.9" r="1.05"/><circle cx="121.0" cy="325.9" r="1.05"/><circle cx="123.2" cy="321.9" r="1.05"/><circle cx="125.5" cy="316.0" r="1.05"/><circle cx="127.8" cy="309.4" r="1.05"/><circle cx="130.0" cy="301.2" r="1.05"/><circle cx="132.3" cy="290.5" r="1.05"/><circle cx="134.6" cy="276.7" r="1.05"/><circle cx="136.8" cy="261.2" r="1.05"/><circle cx="139.1" cy="246.5" r="1.05"/><circle cx="141.4" cy="232.1" r="1.05"/><circle cx="143.6" cy="222.9" r="1.05"/><circle cx="145.9" cy="221.3" r="1.05"/><circle cx="148.1" cy="224.6" r="1.05"/><circle cx="150.4" cy="232.2" r="1.05"/><circle cx="152.7" cy="242.5" r="1.05"/><circle cx="154.9" cy="253.5" r="1.05"/><circle cx="157.2" cy="264.5" r="1.05"/><circle cx="159.5" cy="275.3" r="1.05"/><circle cx="161.7" cy="285.1" r="1.05"/><circle cx="164.0" cy="294.7" r="1.05"/><circle cx="166.3" cy="302.8" r="1.05"/><circle cx="168.5" cy="309.3" r="1.05"/><circle cx="170.8" cy="313.7" r="1.05"/><circle cx="173.1" cy="316.2" r="1.05"/><circle cx="175.3" cy="317.7" r="1.05"/><circle cx="177.6" cy="318.7" r="1.05"/><circle cx="179.9" cy="319.5" r="1.05"/><circle cx="182.1" cy="320.4" r="1.05"/><circle cx="184.4" cy="321.4" r="1.05"/><circle cx="186.7" cy="322.2" r="1.05"/><circle cx="188.9" cy="323.0" r="1.05"/><circle cx="191.2" cy="323.8" r="1.05"/><circle cx="193.5" cy="324.7" r="1.05"/><circle cx="195.7" cy="326.0" r="1.05"/><circle cx="198.0" cy="327.7" r="1.05"/><circle cx="200.3" cy="329.3" r="1.05"/><circle cx="202.5" cy="330.7" r="1.05"/><circle cx="204.8" cy="332.0" r="1.05"/><circle cx="207.0" cy="333.4" r="1.05"/><circle cx="209.3" cy="334.9" r="1.05"/><circle cx="211.6" cy="336.6" r="1.05"/><circle cx="213.8" cy="338.4" r="1.05"/><circle cx="216.1" cy="340.2" r="1.05"/><circle cx="218.4" cy="341.9" r="1.05"/><circle cx="220.6" cy="343.6" r="1.05"/><circle cx="222.9" cy="345.2" r="1.05"/><circle cx="225.2" cy="346.6" r="1.05"/><circle cx="227.4" cy="348.0" r="1.05"/><circle cx="229.7" cy="349.3" r="1.05"/><circle cx="232.0" cy="350.5" r="1.05"/><circle cx="234.2" cy="351.6" r="1.05"/><circle cx="236.5" cy="352.5" r="1.05"/><circle cx="238.8" cy="353.4" r="1.05"/><circle cx="241.0" cy="354.2" r="1.05"/><circle cx="243.3" cy="354.9" r="1.05"/><circle cx="245.6" cy="355.5" r="1.05"/><circle cx="247.8" cy="356.2" r="1.05"/><circle cx="250.1" cy="356.7" r="1.05"/><circle cx="252.4" cy="357.2" r="1.05"/><circle cx="254.6" cy="357.6" r="1.05"/><circle cx="256.9" cy="357.9" r="1.05"/><circle cx="259.2" cy="358.1" r="1.05"/><circle cx="261.4" cy="358.4" r="1.05"/><circle cx="263.7" cy="358.7" r="1.05"/><circle cx="266.0" cy="358.9" r="1.05"/><circle cx="268.2" cy="359.2" r="1.05"/><circle cx="270.5" cy="359.5" r="1.05"/><circle cx="272.7" cy="359.8" r="1.05"/><circle cx="275.0" cy="360.0" r="1.05"/><circle cx="277.3" cy="360.3" r="1.05"/><circle cx="279.5" cy="360.5" r="1.05"/><circle cx="281.8" cy="360.6" r="1.05"/><circle cx="284.1" cy="360.7" r="1.05"/><circle cx="286.3" cy="360.8" r="1.05"/><circle cx="288.6" cy="360.8" r="1.05"/><circle cx="290.9" cy="360.9" r="1.05"/><circle cx="293.1" cy="360.9" r="1.05"/><circle cx="295.4" cy="361.0" r="1.05"/><circle cx="297.7" cy="361.0" r="1.05"/><circle cx="299.9" cy="361.1" r="1.05"/><circle cx="302.2" cy="361.1" r="1.05"/><circle cx="304.5" cy="361.2" r="1.05"/><circle cx="306.7" cy="361.2" r="1.05"/><circle cx="309.0" cy="361.3" r="1.05"/><circle cx="311.3" cy="361.3" r="1.05"/><circle cx="313.5" cy="361.3" r="1.05"/><circle cx="315.8" cy="361.3" r="1.05"/><circle cx="318.1" cy="361.4" r="1.05"/><circle cx="320.3" cy="361.4" r="1.05"/><circle cx="322.6" cy="361.4" r="1.05"/><circle cx="324.9" cy="361.4" r="1.05"/><circle cx="327.1" cy="361.5" r="1.05"/><circle cx="329.4" cy="361.5" r="1.05"/><circle cx="331.7" cy="361.5" r="1.05"/><circle cx="333.9" cy="361.5" r="1.05"/><circle cx="336.2" cy="361.5" r="1.05"/><circle cx="338.4" cy="361.5" r="1.05"/><circle cx="340.7" cy="361.5" r="1.05"/><circle cx="343.0" cy="361.5" r="1.05"/></g></g>
<g stroke="#1818f0" fill="none" clip-path="url(#cb)"><polyline points="44.5,358.9 45.1,358.8 45.6,358.6 46.2,358.4 46.8,358.3 47.3,358.1 47.9,358.0 48.5,357.8 49.0,357.7 49.6,357.5 50.2,357.4 50.7,357.3 51.3,357.1 51.9,357.0 52.4,356.9 53.0,356.8 53.6,356.7 54.1,356.6 54.7,356.5 55.3,356.4 55.8,356.3 56.4,356.2 57.0,356.1 57.5,356.1 58.1,356.0 58.7,355.9 59.2,355.8 59.8,355.8 60.4,355.7 60.9,355.7 61.5,355.6 62.1,355.6 62.6,355.5 63.2,355.5 63.8,355.5 64.3,355.4 64.9,355.4 65.5,355.4 66.0,355.4 66.6,355.3 67.2,355.3 67.7,355.3 68.3,355.3 68.9,355.2 69.4,355.2 70.0,355.2 70.6,355.1 71.1,355.1 71.7,355.1 72.3,355.0 72.8,355.0 73.4,355.0 74.0,354.9 74.5,354.9 75.1,354.9 75.7,354.8 76.2,354.8 76.8,354.7 77.3,354.7 77.9,354.6 78.5,354.6 79.0,354.5 79.6,354.5 80.2,354.4 80.7,354.4 81.3,354.3 81.9,354.2 82.4,354.2 83.0,354.1 83.6,354.0 84.1,354.0 84.7,353.9 85.3,353.8 85.8,353.7 86.4,353.6 87.0,353.5 87.5,353.4 88.1,353.4 88.7,353.3 89.2,353.1 89.8,353.0 90.4,352.9 90.9,352.8 91.5,352.7 92.1,352.5 92.6,352.4 93.2,352.3 93.8,352.1 94.3,352.0 94.9,351.8 95.5,351.7 96.0,351.5 96.6,351.4 97.2,351.2 97.7,351.1 98.3,350.9 98.9,350.8 99.4,350.7 100.0,350.6 100.6,350.4 101.1,350.3 101.7,350.1 102.3,350.0 102.8,349.8 103.4,349.6 104.0,349.4 104.5,349.2 105.1,348.9 105.7,348.6 106.2,348.2 106.8,347.7 107.4,347.2 107.9,346.7 108.5,346.1 109.1,345.4 109.6,344.7 110.2,343.9 110.8,343.1 111.3,342.3 111.9,341.4 112.5,340.6 113.0,339.8 113.6,338.9 114.2,338.0 114.7,337.1 115.3,336.2 115.9,335.3 116.4,334.3 117.0,333.3 117.6,332.3 118.1,331.3 118.7,330.3 119.3,329.3 119.8,328.3 120.4,327.3 121.0,326.3 121.5,325.4 122.1,324.4 122.7,323.4 123.2,322.3 123.8,321.1 124.4,319.8 124.9,318.3 125.5,316.7 126.1,315.1 126.6,313.5 127.2,311.7 127.8,309.9 128.3,307.9 128.9,305.9 129.5,303.8 130.0,301.6 130.6,299.2 131.2,296.6 131.7,293.8 132.3,290.8 132.9,287.8 133.4,284.6 134.0,281.2 134.6,277.7 135.1,274.1 135.7,270.4 136.3,266.6 136.8,262.8 137.4,259.3 138.0,255.8 138.5,252.5 139.1,249.4 139.7,246.7 140.2,244.4 140.8,242.2 141.4,240.5 141.9,239.5 142.5,239.1 143.0,238.7 143.6,238.5 144.2,238.4 144.7,238.7 145.3,239.5 145.9,240.6 146.4,241.8 147.0,243.3 147.6,245.3 148.1,247.6 148.7,249.8 149.3,252.0 149.8,254.2 150.4,256.6 151.0,258.9 151.5,261.2 152.1,263.5 152.7,265.8 153.2,268.4 153.8,271.4 154.4,274.7 154.9,278.0 155.5,280.9 156.1,283.4 156.6,285.7 157.2,287.9 157.8,290.1 158.3,292.3 158.9,294.5 159.5,296.5 160.0,298.4 160.6,300.1 161.2,301.7 161.7,303.1 162.3,304.5 162.9,305.8 163.4,307.1 164.0,308.3 164.6,309.4 165.1,310.5 165.7,311.6 166.3,312.5 166.8,313.2 167.4,313.8 168.0,314.3 168.5,314.8 169.1,315.2 169.7,315.6 170.2,315.9 170.8,316.1 171.4,316.3 171.9,316.4 172.5,316.4 173.1,316.5 173.6,316.6 174.2,316.6 174.8,316.6 175.3,316.7 175.9,316.7 176.5,316.7 177.0,316.7 177.6,316.7 178.2,316.7 178.7,316.7 179.3,316.7 179.9,316.7 180.4,316.7 181.0,316.7 181.6,316.8 182.1,316.9 182.7,317.0 183.3,317.1 183.8,317.3 184.4,317.5 185.0,317.6 185.5,317.8 186.1,318.0 186.7,318.2 187.2,318.4 187.8,318.7 188.4,318.9 188.9,319.2 189.5,319.4 190.1,319.7 190.6,320.0 191.2,320.3 191.8,320.6 192.3,321.0 192.9,321.3 193.5,321.6 194.0,322.0 194.6,322.4 195.2,322.8 195.7,323.2 196.3,323.7 196.9,324.2 197.4,324.7 198.0,325.2 198.6,325.7 199.1,326.1 199.7,326.6 200.3,327.0 200.8,327.4 201.4,327.8 202.0,328.1 202.5,328.5 203.1,328.8 203.7,329.1 204.2,329.5 204.8,329.8 205.4,330.1 205.9,330.4 206.5,330.8 207.0,331.1 207.6,331.5 208.2,331.9 208.7,332.2 209.3,332.6 209.9,333.1 210.4,333.5 211.0,334.0 211.6,334.4 212.1,334.9 212.7,335.3 213.3,335.8 213.8,336.3 214.4,336.8 215.0,337.3 215.5,337.8 216.1,338.2 216.7,338.7 217.2,339.2 217.8,339.6 218.4,340.1 218.9,340.6 219.5,341.1 220.1,341.5 220.6,342.0 221.2,342.5 221.8,342.9 222.3,343.4 222.9,343.8 223.5,344.2 224.0,344.6 224.6,344.9 225.2,345.3 225.7,345.7 226.3,346.0 226.9,346.4 227.4,346.7 228.0,347.0 228.6,347.4 229.1,347.7 229.7,348.0 230.3,348.3 230.8,348.6 231.4,348.9 232.0,349.2 232.5,349.5 233.1,349.8 233.7,350.1 234.2,350.4 234.8,350.6 235.4,350.9 235.9,351.2 236.5,351.5 237.1,351.7 237.6,352.0 238.2,352.2 238.8,352.5 239.3,352.7 239.9,352.9 240.5,353.1 241.0,353.3 241.6,353.5 242.2,353.7 242.7,353.8 243.3,354.0 243.9,354.2 244.4,354.3 245.0,354.4 245.6,354.6 246.1,354.7 246.7,354.8 247.3,355.0 247.8,355.1 248.4,355.2 249.0,355.3 249.5,355.4 250.1,355.5 250.7,355.6 251.2,355.7 251.8,355.8 252.4,355.9 252.9,356.0 253.5,356.1 254.1,356.2 254.6,356.3 255.2,356.3 255.8,356.4 256.3,356.5 256.9,356.5 257.5,356.6 258.0,356.7 258.6,356.7 259.2,356.8 259.7,356.9 260.3,357.0 260.9,357.0 261.4,357.1 262.0,357.2 262.6,357.3 263.1,357.4 263.7,357.5 264.3,357.6 264.8,357.6 265.4,357.7 266.0,357.8 266.5,357.9 267.1,358.0 267.7,358.1 268.2,358.2 268.8,358.3 269.4,358.4 269.9,358.4 270.5,358.5 271.0,358.6 271.6,358.7 272.2,358.7 272.7,358.8 273.3,358.8 273.9,358.9 274.4,358.9 275.0,359.0 275.6,359.1 276.1,359.1 276.7,359.2 277.3,359.2 277.8,359.3 278.4,359.3 279.0,359.4 279.5,359.4 280.1,359.4 280.7,359.5 281.2,359.5 281.8,359.6 282.4,359.6 282.9,359.7 283.5,359.7 284.1,359.8 284.6,359.8 285.2,359.8 285.8,359.9 286.3,359.9 286.9,359.9 287.5,360.0 288.0,360.0 288.6,360.0 289.2,360.1 289.7,360.1 290.3,360.1 290.9,360.2 291.4,360.2 292.0,360.2 292.6,360.2 293.1,360.3 293.7,360.3 294.3,360.3 294.8,360.3 295.4,360.3 296.0,360.4 296.5,360.4 297.1,360.4 297.7,360.4 298.2,360.4 298.8,360.4 299.4,360.4 299.9,360.5 300.5,360.5 301.1,360.5 301.6,360.5 302.2,360.5 302.8,360.5 303.3,360.5 303.9,360.6 304.5,360.6 305.0,360.6 305.6,360.6 306.2,360.6 306.7,360.6 307.3,360.6 307.9,360.6 308.4,360.6 309.0,360.7 309.6,360.7 310.1,360.7 310.7,360.7 311.3,360.7 311.8,360.7 312.4,360.7 313.0,360.7 313.5,360.7 314.1,360.7 314.7,360.7 315.2,360.7 315.8,360.7 316.4,360.7 316.9,360.7 317.5,360.7 318.1,360.7 318.6,360.7 319.2,360.7 319.8,360.7 320.3,360.7 320.9,360.7 321.5,360.7 322.0,360.7 322.6,360.7 323.2,360.7 323.7,360.7 324.3,360.7 324.9,360.7 325.4,360.7 326.0,360.7 326.6,360.7 327.1,360.7 327.7,360.7 328.3,360.7 328.8,360.7 329.4,360.7 330.0,360.7 330.5,360.7 331.1,360.7 331.7,360.7 332.2,360.7 332.8,360.7 333.4,360.7 333.9,360.7 334.5,360.7 335.1,360.7 335.6,360.7 336.2,360.7 336.7,360.7 337.3,360.7 337.9,360.7 338.4,360.7 339.0,360.7 339.6,360.7 340.1,360.7 340.7,360.7 341.3,360.7 341.8,360.7 342.4,360.7" stroke-width="0.9"/><g fill="#fff" stroke-width="0.95"><circle cx="45.9" cy="358.5" r="1.05"/><circle cx="48.2" cy="357.9" r="1.05"/><circle cx="50.4" cy="357.3" r="1.05"/><circle cx="52.7" cy="356.8" r="1.05"/><circle cx="55.0" cy="356.4" r="1.05"/><circle cx="57.2" cy="356.1" r="1.05"/><circle cx="59.5" cy="355.8" r="1.05"/><circle cx="61.8" cy="355.6" r="1.05"/><circle cx="64.0" cy="355.4" r="1.05"/><circle cx="66.3" cy="355.3" r="1.05"/><circle cx="68.6" cy="355.2" r="1.05"/><circle cx="70.8" cy="355.1" r="1.05"/><circle cx="73.1" cy="355.0" r="1.05"/><circle cx="75.4" cy="354.8" r="1.05"/><circle cx="77.6" cy="354.7" r="1.05"/><circle cx="79.9" cy="354.5" r="1.05"/><circle cx="82.2" cy="354.2" r="1.05"/><circle cx="84.4" cy="353.9" r="1.05"/><circle cx="86.7" cy="353.6" r="1.05"/><circle cx="89.0" cy="353.2" r="1.05"/><circle cx="91.2" cy="352.7" r="1.05"/><circle cx="93.5" cy="352.2" r="1.05"/><circle cx="95.8" cy="351.6" r="1.05"/><circle cx="98.0" cy="351.0" r="1.05"/><circle cx="100.3" cy="350.5" r="1.05"/><circle cx="102.6" cy="349.9" r="1.05"/><circle cx="104.8" cy="349.0" r="1.05"/><circle cx="107.1" cy="347.5" r="1.05"/><circle cx="109.3" cy="345.1" r="1.05"/><circle cx="111.6" cy="341.9" r="1.05"/><circle cx="113.9" cy="338.5" r="1.05"/><circle cx="116.1" cy="334.8" r="1.05"/><circle cx="118.4" cy="330.8" r="1.05"/><circle cx="120.7" cy="326.8" r="1.05"/><circle cx="122.9" cy="322.9" r="1.05"/><circle cx="125.2" cy="317.5" r="1.05"/><circle cx="127.5" cy="310.8" r="1.05"/><circle cx="129.7" cy="302.7" r="1.05"/><circle cx="132.0" cy="292.3" r="1.05"/><circle cx="134.3" cy="279.4" r="1.05"/><circle cx="136.5" cy="264.7" r="1.05"/><circle cx="138.8" cy="250.9" r="1.05"/><circle cx="141.1" cy="241.3" r="1.05"/><circle cx="143.3" cy="238.6" r="1.05"/><circle cx="145.6" cy="240.0" r="1.05"/><circle cx="147.9" cy="246.4" r="1.05"/><circle cx="150.1" cy="255.4" r="1.05"/><circle cx="152.4" cy="264.6" r="1.05"/><circle cx="154.7" cy="276.4" r="1.05"/><circle cx="156.9" cy="286.8" r="1.05"/><circle cx="159.2" cy="295.5" r="1.05"/><circle cx="161.5" cy="302.4" r="1.05"/><circle cx="163.7" cy="307.7" r="1.05"/><circle cx="166.0" cy="312.1" r="1.05"/><circle cx="168.3" cy="314.6" r="1.05"/><circle cx="170.5" cy="316.0" r="1.05"/><circle cx="172.8" cy="316.5" r="1.05"/><circle cx="175.0" cy="316.6" r="1.05"/><circle cx="177.3" cy="316.7" r="1.05"/><circle cx="179.6" cy="316.7" r="1.05"/><circle cx="181.8" cy="316.8" r="1.05"/><circle cx="184.1" cy="317.4" r="1.05"/><circle cx="186.4" cy="318.1" r="1.05"/><circle cx="188.6" cy="319.0" r="1.05"/><circle cx="190.9" cy="320.2" r="1.05"/><circle cx="193.2" cy="321.5" r="1.05"/><circle cx="195.4" cy="323.0" r="1.05"/><circle cx="197.7" cy="324.9" r="1.05"/><circle cx="200.0" cy="326.8" r="1.05"/><circle cx="202.2" cy="328.3" r="1.05"/><circle cx="204.5" cy="329.6" r="1.05"/><circle cx="206.8" cy="330.9" r="1.05"/><circle cx="209.0" cy="332.4" r="1.05"/><circle cx="211.3" cy="334.2" r="1.05"/><circle cx="213.6" cy="336.1" r="1.05"/><circle cx="215.8" cy="338.0" r="1.05"/><circle cx="218.1" cy="339.9" r="1.05"/><circle cx="220.4" cy="341.8" r="1.05"/><circle cx="222.6" cy="343.6" r="1.05"/><circle cx="224.9" cy="345.1" r="1.05"/><circle cx="227.2" cy="346.5" r="1.05"/><circle cx="229.4" cy="347.8" r="1.05"/><circle cx="231.7" cy="349.1" r="1.05"/><circle cx="234.0" cy="350.2" r="1.05"/><circle cx="236.2" cy="351.3" r="1.05"/><circle cx="238.5" cy="352.4" r="1.05"/><circle cx="240.7" cy="353.2" r="1.05"/><circle cx="243.0" cy="353.9" r="1.05"/><circle cx="245.3" cy="354.5" r="1.05"/><circle cx="247.5" cy="355.0" r="1.05"/><circle cx="249.8" cy="355.5" r="1.05"/><circle cx="252.1" cy="355.9" r="1.05"/><circle cx="254.3" cy="356.2" r="1.05"/><circle cx="256.6" cy="356.5" r="1.05"/><circle cx="258.9" cy="356.8" r="1.05"/><circle cx="261.1" cy="357.1" r="1.05"/><circle cx="263.4" cy="357.4" r="1.05"/><circle cx="265.7" cy="357.8" r="1.05"/><circle cx="267.9" cy="358.1" r="1.05"/><circle cx="270.2" cy="358.5" r="1.05"/><circle cx="272.5" cy="358.8" r="1.05"/><circle cx="274.7" cy="359.0" r="1.05"/><circle cx="277.0" cy="359.2" r="1.05"/><circle cx="279.3" cy="359.4" r="1.05"/><circle cx="281.5" cy="359.6" r="1.05"/><circle cx="283.8" cy="359.7" r="1.05"/><circle cx="286.1" cy="359.9" r="1.05"/><circle cx="288.3" cy="360.0" r="1.05"/><circle cx="290.6" cy="360.2" r="1.05"/><circle cx="292.9" cy="360.3" r="1.05"/><circle cx="295.1" cy="360.3" r="1.05"/><circle cx="297.4" cy="360.4" r="1.05"/><circle cx="299.7" cy="360.5" r="1.05"/><circle cx="301.9" cy="360.5" r="1.05"/><circle cx="304.2" cy="360.6" r="1.05"/><circle cx="306.4" cy="360.6" r="1.05"/><circle cx="308.7" cy="360.7" r="1.05"/><circle cx="311.0" cy="360.7" r="1.05"/><circle cx="313.2" cy="360.7" r="1.05"/><circle cx="315.5" cy="360.7" r="1.05"/><circle cx="317.8" cy="360.7" r="1.05"/><circle cx="320.0" cy="360.7" r="1.05"/><circle cx="322.3" cy="360.7" r="1.05"/><circle cx="324.6" cy="360.7" r="1.05"/><circle cx="326.8" cy="360.7" r="1.05"/><circle cx="329.1" cy="360.7" r="1.05"/><circle cx="331.4" cy="360.7" r="1.05"/><circle cx="333.6" cy="360.7" r="1.05"/><circle cx="335.9" cy="360.7" r="1.05"/><circle cx="338.2" cy="360.7" r="1.05"/><circle cx="340.4" cy="360.7" r="1.05"/><circle cx="342.7" cy="360.7" r="1.05"/></g></g>
<g stroke="#ff2090" fill="none" clip-path="url(#cb)"><polyline points="44.5,358.6 45.1,358.5 45.6,358.3 46.2,358.2 46.8,358.0 47.3,357.9 47.9,357.7 48.5,357.6 49.0,357.4 49.6,357.3 50.2,357.1 50.7,357.0 51.3,356.9 51.9,356.8 52.4,356.7 53.0,356.5 53.6,356.4 54.1,356.3 54.7,356.2 55.3,356.1 55.8,356.0 56.4,356.0 57.0,355.9 57.5,355.8 58.1,355.7 58.7,355.6 59.2,355.5 59.8,355.5 60.4,355.4 60.9,355.4 61.5,355.3 62.1,355.3 62.6,355.2 63.2,355.2 63.8,355.1 64.3,355.1 64.9,355.1 65.5,355.1 66.0,355.0 66.6,355.0 67.2,355.0 67.7,354.9 68.3,354.9 68.9,354.9 69.4,354.9 70.0,354.8 70.6,354.8 71.1,354.8 71.7,354.7 72.3,354.7 72.8,354.7 73.4,354.6 74.0,354.6 74.5,354.5 75.1,354.5 75.7,354.4 76.2,354.4 76.8,354.4 77.3,354.3 77.9,354.3 78.5,354.2 79.0,354.1 79.6,354.1 80.2,354.0 80.7,354.0 81.3,353.9 81.9,353.8 82.4,353.8 83.0,353.7 83.6,353.6 84.1,353.5 84.7,353.5 85.3,353.4 85.8,353.3 86.4,353.2 87.0,353.1 87.5,353.0 88.1,352.9 88.7,352.8 89.2,352.7 89.8,352.6 90.4,352.5 90.9,352.4 91.5,352.2 92.1,352.1 92.6,352.0 93.2,351.8 93.8,351.7 94.3,351.5 94.9,351.4 95.5,351.2 96.0,351.1 96.6,350.9 97.2,350.8 97.7,350.6 98.3,350.5 98.9,350.4 99.4,350.2 100.0,350.1 100.6,350.0 101.1,349.8 101.7,349.7 102.3,349.5 102.8,349.3 103.4,349.2 104.0,349.0 104.5,348.7 105.1,348.5 105.7,348.2 106.2,347.8 106.8,347.4 107.4,346.9 107.9,346.5 108.5,346.0 109.1,345.4 109.6,344.9 110.2,344.3 110.8,343.7 111.3,343.0 111.9,342.4 112.5,341.7 113.0,341.1 113.6,340.4 114.2,339.7 114.7,339.0 115.3,338.3 115.9,337.5 116.4,336.7 117.0,335.8 117.6,335.0 118.1,334.0 118.7,333.1 119.3,332.2 119.8,331.3 120.4,330.4 121.0,329.5 121.5,328.7 122.1,327.8 122.7,326.9 123.2,326.0 123.8,325.0 124.4,324.0 124.9,323.0 125.5,321.9 126.1,320.8 126.6,319.7 127.2,318.6 127.8,317.3 128.3,315.9 128.9,314.3 129.5,312.5 130.0,310.5 130.6,308.3 131.2,305.6 131.7,302.4 132.3,299.0 132.9,295.8 133.4,292.6 134.0,289.5 134.6,286.4 135.1,283.2 135.7,279.9 136.3,276.6 136.8,273.3 137.4,270.3 138.0,267.4 138.5,264.6 139.1,262.2 139.7,260.4 140.2,259.1 140.8,257.8 141.4,257.0 141.9,256.6 142.5,256.8 143.0,257.3 143.6,258.0 144.2,258.9 144.7,260.2 145.3,262.2 145.9,264.6 146.4,266.9 147.0,269.1 147.6,271.6 148.1,274.0 148.7,276.4 149.3,278.7 149.8,281.0 150.4,283.3 151.0,285.5 151.5,287.7 152.1,289.8 152.7,291.9 153.2,293.9 153.8,295.7 154.4,297.5 154.9,299.3 155.5,301.1 156.1,302.9 156.6,304.8 157.2,306.6 157.8,308.3 158.3,310.0 158.9,311.6 159.5,313.1 160.0,314.4 160.6,315.5 161.2,316.5 161.7,317.4 162.3,318.2 162.9,318.9 163.4,319.4 164.0,320.0 164.6,320.5 165.1,320.9 165.7,321.4 166.3,321.7 166.8,322.0 167.4,322.1 168.0,322.3 168.5,322.4 169.1,322.5 169.7,322.6 170.2,322.7 170.8,322.7 171.4,322.7 171.9,322.7 172.5,322.7 173.1,322.6 173.6,322.5 174.2,322.3 174.8,322.2 175.3,322.1 175.9,322.0 176.5,321.9 177.0,321.8 177.6,321.7 178.2,321.6 178.7,321.5 179.3,321.4 179.9,321.3 180.4,321.2 181.0,321.1 181.6,321.0 182.1,320.8 182.7,320.7 183.3,320.6 183.8,320.5 184.4,320.4 185.0,320.4 185.5,320.4 186.1,320.4 186.7,320.5 187.2,320.5 187.8,320.6 188.4,320.6 188.9,320.7 189.5,320.8 190.1,321.0 190.6,321.1 191.2,321.2 191.8,321.3 192.3,321.5 192.9,321.6 193.5,321.8 194.0,322.0 194.6,322.2 195.2,322.5 195.7,322.9 196.3,323.4 196.9,323.9 197.4,324.5 198.0,325.0 198.6,325.6 199.1,326.1 199.7,326.6 200.3,327.0 200.8,327.4 201.4,327.8 202.0,328.1 202.5,328.5 203.1,328.8 203.7,329.1 204.2,329.5 204.8,329.8 205.4,330.1 205.9,330.4 206.5,330.8 207.0,331.1 207.6,331.5 208.2,331.9 208.7,332.2 209.3,332.6 209.9,333.1 210.4,333.5 211.0,334.0 211.6,334.4 212.1,334.9 212.7,335.3 213.3,335.8 213.8,336.3 214.4,336.8 215.0,337.3 215.5,337.8 216.1,338.2 216.7,338.7 217.2,339.2 217.8,339.6 218.4,340.1 218.9,340.6 219.5,341.1 220.1,341.5 220.6,342.0 221.2,342.5 221.8,342.9 222.3,343.4 222.9,343.8 223.5,344.2 224.0,344.6 224.6,344.9 225.2,345.3 225.7,345.7 226.3,346.0 226.9,346.4 227.4,346.7 228.0,347.0 228.6,347.4 229.1,347.7 229.7,348.0 230.3,348.3 230.8,348.6 231.4,348.9 232.0,349.2 232.5,349.5 233.1,349.8 233.7,350.1 234.2,350.4 234.8,350.6 235.4,350.9 235.9,351.2 236.5,351.5 237.1,351.7 237.6,352.0 238.2,352.2 238.8,352.5 239.3,352.7 239.9,352.9 240.5,353.1 241.0,353.3 241.6,353.5 242.2,353.7 242.7,353.8 243.3,354.0 243.9,354.2 244.4,354.3 245.0,354.4 245.6,354.6 246.1,354.7 246.7,354.8 247.3,355.0 247.8,355.1 248.4,355.2 249.0,355.3 249.5,355.4 250.1,355.5 250.7,355.6 251.2,355.7 251.8,355.8 252.4,355.9 252.9,356.0 253.5,356.1 254.1,356.2 254.6,356.3 255.2,356.3 255.8,356.4 256.3,356.5 256.9,356.5 257.5,356.6 258.0,356.7 258.6,356.7 259.2,356.8 259.7,356.9 260.3,357.0 260.9,357.0 261.4,357.1 262.0,357.2 262.6,357.3 263.1,357.4 263.7,357.5 264.3,357.6 264.8,357.6 265.4,357.7 266.0,357.8 266.5,357.9 267.1,358.0 267.7,358.1 268.2,358.2 268.8,358.3 269.4,358.4 269.9,358.4 270.5,358.5 271.0,358.6 271.6,358.7 272.2,358.7 272.7,358.8 273.3,358.8 273.9,358.9 274.4,358.9 275.0,359.0 275.6,359.1 276.1,359.1 276.7,359.2 277.3,359.2 277.8,359.3 278.4,359.3 279.0,359.4 279.5,359.4 280.1,359.4 280.7,359.5 281.2,359.5 281.8,359.6 282.4,359.6 282.9,359.7 283.5,359.7 284.1,359.8 284.6,359.8 285.2,359.8 285.8,359.9 286.3,359.9 286.9,359.9 287.5,360.0 288.0,360.0 288.6,360.0 289.2,360.1 289.7,360.1 290.3,360.1 290.9,360.2 291.4,360.2 292.0,360.2 292.6,360.2 293.1,360.3 293.7,360.3 294.3,360.3 294.8,360.3 295.4,360.3 296.0,360.4 296.5,360.4 297.1,360.4 297.7,360.4 298.2,360.4 298.8,360.4 299.4,360.4 299.9,360.5 300.5,360.5 301.1,360.5 301.6,360.5 302.2,360.5 302.8,360.5 303.3,360.5 303.9,360.6 304.5,360.6 305.0,360.6 305.6,360.6 306.2,360.6 306.7,360.6 307.3,360.6 307.9,360.6 308.4,360.6 309.0,360.7 309.6,360.7 310.1,360.7 310.7,360.7 311.3,360.7 311.8,360.7 312.4,360.7 313.0,360.7 313.5,360.7 314.1,360.7 314.7,360.7 315.2,360.7 315.8,360.7 316.4,360.7 316.9,360.7 317.5,360.7 318.1,360.7 318.6,360.7 319.2,360.7 319.8,360.7 320.3,360.7 320.9,360.7 321.5,360.7 322.0,360.7 322.6,360.7 323.2,360.7 323.7,360.7 324.3,360.7 324.9,360.7 325.4,360.7 326.0,360.7 326.6,360.7 327.1,360.7 327.7,360.7 328.3,360.7 328.8,360.7 329.4,360.7 330.0,360.7 330.5,360.7 331.1,360.7 331.7,360.7 332.2,360.7 332.8,360.7 333.4,360.7 333.9,360.7 334.5,360.7 335.1,360.7 335.6,360.7 336.2,360.7 336.7,360.7 337.3,360.7 337.9,360.7 338.4,360.7 339.0,360.7 339.6,360.7 340.1,360.7 340.7,360.7 341.3,360.7 341.8,360.7 342.4,360.7" stroke-width="0.9"/><g fill="#fff" stroke-width="0.95"><circle cx="45.6" cy="358.3" r="1.05"/><circle cx="47.9" cy="357.7" r="1.05"/><circle cx="50.2" cy="357.1" r="1.05"/><circle cx="52.4" cy="356.7" r="1.05"/><circle cx="54.7" cy="356.2" r="1.05"/><circle cx="57.0" cy="355.9" r="1.05"/><circle cx="59.2" cy="355.5" r="1.05"/><circle cx="61.5" cy="355.3" r="1.05"/><circle cx="63.8" cy="355.1" r="1.05"/><circle cx="66.0" cy="355.0" r="1.05"/><circle cx="68.3" cy="354.9" r="1.05"/><circle cx="70.6" cy="354.8" r="1.05"/><circle cx="72.8" cy="354.7" r="1.05"/><circle cx="75.1" cy="354.5" r="1.05"/><circle cx="77.3" cy="354.3" r="1.05"/><circle cx="79.6" cy="354.1" r="1.05"/><circle cx="81.9" cy="353.8" r="1.05"/><circle cx="84.1" cy="353.5" r="1.05"/><circle cx="86.4" cy="353.2" r="1.05"/><circle cx="88.7" cy="352.8" r="1.05"/><circle cx="90.9" cy="352.4" r="1.05"/><circle cx="93.2" cy="351.8" r="1.05"/><circle cx="95.5" cy="351.2" r="1.05"/><circle cx="97.7" cy="350.6" r="1.05"/><circle cx="100.0" cy="350.1" r="1.05"/><circle cx="102.3" cy="349.5" r="1.05"/><circle cx="104.5" cy="348.7" r="1.05"/><circle cx="106.8" cy="347.4" r="1.05"/><circle cx="109.1" cy="345.4" r="1.05"/><circle cx="111.3" cy="343.0" r="1.05"/><circle cx="113.6" cy="340.4" r="1.05"/><circle cx="115.9" cy="337.5" r="1.05"/><circle cx="118.1" cy="334.0" r="1.05"/><circle cx="120.4" cy="330.4" r="1.05"/><circle cx="122.7" cy="326.9" r="1.05"/><circle cx="124.9" cy="323.0" r="1.05"/><circle cx="127.2" cy="318.6" r="1.05"/><circle cx="129.5" cy="312.5" r="1.05"/><circle cx="131.7" cy="302.4" r="1.05"/><circle cx="134.0" cy="289.5" r="1.05"/><circle cx="136.3" cy="276.6" r="1.05"/><circle cx="138.5" cy="264.6" r="1.05"/><circle cx="140.8" cy="257.8" r="1.05"/><circle cx="143.0" cy="257.3" r="1.05"/><circle cx="145.3" cy="262.2" r="1.05"/><circle cx="147.6" cy="271.6" r="1.05"/><circle cx="149.8" cy="281.0" r="1.05"/><circle cx="152.1" cy="289.8" r="1.05"/><circle cx="154.4" cy="297.5" r="1.05"/><circle cx="156.6" cy="304.8" r="1.05"/><circle cx="158.9" cy="311.6" r="1.05"/><circle cx="161.2" cy="316.5" r="1.05"/><circle cx="163.4" cy="319.4" r="1.05"/><circle cx="165.7" cy="321.4" r="1.05"/><circle cx="168.0" cy="322.3" r="1.05"/><circle cx="170.2" cy="322.7" r="1.05"/><circle cx="172.5" cy="322.7" r="1.05"/><circle cx="174.8" cy="322.2" r="1.05"/><circle cx="177.0" cy="321.8" r="1.05"/><circle cx="179.3" cy="321.4" r="1.05"/><circle cx="181.6" cy="321.0" r="1.05"/><circle cx="183.8" cy="320.5" r="1.05"/><circle cx="186.1" cy="320.4" r="1.05"/><circle cx="188.4" cy="320.6" r="1.05"/><circle cx="190.6" cy="321.1" r="1.05"/><circle cx="192.9" cy="321.6" r="1.05"/><circle cx="195.2" cy="322.5" r="1.05"/><circle cx="197.4" cy="324.5" r="1.05"/><circle cx="199.7" cy="326.6" r="1.05"/><circle cx="202.0" cy="328.1" r="1.05"/><circle cx="204.2" cy="329.5" r="1.05"/><circle cx="206.5" cy="330.8" r="1.05"/><circle cx="208.7" cy="332.2" r="1.05"/><circle cx="211.0" cy="334.0" r="1.05"/><circle cx="213.3" cy="335.8" r="1.05"/><circle cx="215.5" cy="337.8" r="1.05"/><circle cx="217.8" cy="339.6" r="1.05"/><circle cx="220.1" cy="341.5" r="1.05"/><circle cx="222.3" cy="343.4" r="1.05"/><circle cx="224.6" cy="344.9" r="1.05"/><circle cx="226.9" cy="346.4" r="1.05"/><circle cx="229.1" cy="347.7" r="1.05"/><circle cx="231.4" cy="348.9" r="1.05"/><circle cx="233.7" cy="350.1" r="1.05"/><circle cx="235.9" cy="351.2" r="1.05"/><circle cx="238.2" cy="352.2" r="1.05"/><circle cx="240.5" cy="353.1" r="1.05"/><circle cx="242.7" cy="353.8" r="1.05"/><circle cx="245.0" cy="354.4" r="1.05"/><circle cx="247.3" cy="355.0" r="1.05"/><circle cx="249.5" cy="355.4" r="1.05"/><circle cx="251.8" cy="355.8" r="1.05"/><circle cx="254.1" cy="356.2" r="1.05"/><circle cx="256.3" cy="356.5" r="1.05"/><circle cx="258.6" cy="356.7" r="1.05"/><circle cx="260.9" cy="357.0" r="1.05"/><circle cx="263.1" cy="357.4" r="1.05"/><circle cx="265.4" cy="357.7" r="1.05"/><circle cx="267.7" cy="358.1" r="1.05"/><circle cx="269.9" cy="358.4" r="1.05"/><circle cx="272.2" cy="358.7" r="1.05"/><circle cx="274.4" cy="358.9" r="1.05"/><circle cx="276.7" cy="359.2" r="1.05"/><circle cx="279.0" cy="359.4" r="1.05"/><circle cx="281.2" cy="359.5" r="1.05"/><circle cx="283.5" cy="359.7" r="1.05"/><circle cx="285.8" cy="359.9" r="1.05"/><circle cx="288.0" cy="360.0" r="1.05"/><circle cx="290.3" cy="360.1" r="1.05"/><circle cx="292.6" cy="360.2" r="1.05"/><circle cx="294.8" cy="360.3" r="1.05"/><circle cx="297.1" cy="360.4" r="1.05"/><circle cx="299.4" cy="360.4" r="1.05"/><circle cx="301.6" cy="360.5" r="1.05"/><circle cx="303.9" cy="360.6" r="1.05"/><circle cx="306.2" cy="360.6" r="1.05"/><circle cx="308.4" cy="360.6" r="1.05"/><circle cx="310.7" cy="360.7" r="1.05"/><circle cx="313.0" cy="360.7" r="1.05"/><circle cx="315.2" cy="360.7" r="1.05"/><circle cx="317.5" cy="360.7" r="1.05"/><circle cx="319.8" cy="360.7" r="1.05"/><circle cx="322.0" cy="360.7" r="1.05"/><circle cx="324.3" cy="360.7" r="1.05"/><circle cx="326.6" cy="360.7" r="1.05"/><circle cx="328.8" cy="360.7" r="1.05"/><circle cx="331.1" cy="360.7" r="1.05"/><circle cx="333.4" cy="360.7" r="1.05"/><circle cx="335.6" cy="360.7" r="1.05"/><circle cx="337.9" cy="360.7" r="1.05"/><circle cx="340.1" cy="360.7" r="1.05"/><circle cx="342.4" cy="360.7" r="1.05"/></g></g>
<g stroke="#10d8f0" fill="none" clip-path="url(#cb)"><polyline points="44.5,358.1 45.1,357.9 45.6,357.8 46.2,357.6 46.8,357.5 47.3,357.3 47.9,357.2 48.5,357.1 49.0,356.9 49.6,356.8 50.2,356.7 50.7,356.5 51.3,356.4 51.9,356.3 52.4,356.2 53.0,356.1 53.6,355.9 54.1,355.8 54.7,355.7 55.3,355.6 55.8,355.5 56.4,355.4 57.0,355.3 57.5,355.2 58.1,355.1 58.7,355.1 59.2,355.0 59.8,354.9 60.4,354.8 60.9,354.7 61.5,354.7 62.1,354.6 62.6,354.6 63.2,354.5 63.8,354.5 64.3,354.5 64.9,354.4 65.5,354.4 66.0,354.4 66.6,354.3 67.2,354.3 67.7,354.3 68.3,354.3 68.9,354.2 69.4,354.2 70.0,354.2 70.6,354.1 71.1,354.1 71.7,354.0 72.3,354.0 72.8,353.9 73.4,353.9 74.0,353.8 74.5,353.8 75.1,353.7 75.7,353.7 76.2,353.6 76.8,353.6 77.3,353.5 77.9,353.5 78.5,353.4 79.0,353.4 79.6,353.3 80.2,353.2 80.7,353.2 81.3,353.1 81.9,353.0 82.4,352.9 83.0,352.9 83.6,352.8 84.1,352.7 84.7,352.6 85.3,352.5 85.8,352.4 86.4,352.3 87.0,352.2 87.5,352.1 88.1,352.0 88.7,351.9 89.2,351.8 89.8,351.7 90.4,351.6 90.9,351.5 91.5,351.3 92.1,351.2 92.6,351.1 93.2,350.9 93.8,350.8 94.3,350.6 94.9,350.5 95.5,350.3 96.0,350.2 96.6,350.1 97.2,349.9 97.7,349.8 98.3,349.6 98.9,349.5 99.4,349.3 100.0,349.2 100.6,349.1 101.1,348.9 101.7,348.8 102.3,348.6 102.8,348.4 103.4,348.3 104.0,348.1 104.5,347.9 105.1,347.6 105.7,347.4 106.2,347.0 106.8,346.7 107.4,346.3 107.9,346.0 108.5,345.6 109.1,345.3 109.6,344.9 110.2,344.5 110.8,344.1 111.3,343.7 111.9,343.3 112.5,342.9 113.0,342.5 113.6,342.0 114.2,341.6 114.7,341.1 115.3,340.6 115.9,340.1 116.4,339.5 117.0,338.8 117.6,338.1 118.1,337.4 118.7,336.6 119.3,335.8 119.8,335.1 120.4,334.3 121.0,333.4 121.5,332.6 122.1,331.7 122.7,330.9 123.2,330.1 123.8,329.3 124.4,328.5 124.9,327.7 125.5,327.0 126.1,326.2 126.6,325.4 127.2,324.6 127.8,323.8 128.3,322.7 128.9,321.2 129.5,319.1 130.0,316.7 130.6,314.4 131.2,312.0 131.7,309.5 132.3,307.0 132.9,304.5 133.4,302.1 134.0,299.7 134.6,297.2 135.1,294.6 135.7,291.6 136.3,288.2 136.8,285.0 137.4,282.8 138.0,281.3 138.5,280.0 139.1,279.0 139.7,278.7 140.2,278.9 140.8,279.5 141.4,280.3 141.9,281.3 142.5,282.9 143.0,285.3 143.6,288.0 144.2,290.4 144.7,292.7 145.3,294.9 145.9,297.1 146.4,299.2 147.0,301.2 147.6,303.2 148.1,305.1 148.7,306.8 149.3,308.4 149.8,309.8 150.4,311.2 151.0,312.5 151.5,313.6 152.1,314.7 152.7,315.7 153.2,316.7 153.8,317.6 154.4,318.4 154.9,319.2 155.5,320.1 156.1,321.0 156.6,322.0 157.2,322.9 157.8,323.5 158.3,323.9 158.9,324.3 159.5,324.5 160.0,324.6 160.6,324.6 161.2,324.6 161.7,324.6 162.3,324.6 162.9,324.6 163.4,324.5 164.0,324.4 164.6,324.2 165.1,324.1 165.7,323.9 166.3,323.7 166.8,323.5 167.4,323.3 168.0,323.1 168.5,322.8 169.1,322.6 169.7,322.3 170.2,322.0 170.8,321.8 171.4,321.6 171.9,321.4 172.5,321.3 173.1,321.1 173.6,321.0 174.2,320.8 174.8,320.7 175.3,320.6 175.9,320.5 176.5,320.3 177.0,320.2 177.6,320.1 178.2,320.0 178.7,319.9 179.3,319.8 179.9,319.8 180.4,319.7 181.0,319.7 181.6,319.6 182.1,319.6 182.7,319.5 183.3,319.5 183.8,319.5 184.4,319.5 185.0,319.5 185.5,319.5 186.1,319.5 186.7,319.6 187.2,319.7 187.8,319.8 188.4,319.9 188.9,320.1 189.5,320.2 190.1,320.4 190.6,320.6 191.2,320.8 191.8,321.0 192.3,321.3 192.9,321.5 193.5,321.7 194.0,322.0 194.6,322.3 195.2,322.6 195.7,323.0 196.3,323.5 196.9,324.0 197.4,324.6 198.0,325.1 198.6,325.6 199.1,326.1 199.7,326.6 200.3,327.0 200.8,327.4 201.4,327.8 202.0,328.1 202.5,328.5 203.1,328.8 203.7,329.1 204.2,329.5 204.8,329.8 205.4,330.1 205.9,330.4 206.5,330.8 207.0,331.1 207.6,331.5 208.2,331.9 208.7,332.2 209.3,332.6 209.9,333.1 210.4,333.5 211.0,334.0 211.6,334.4 212.1,334.9 212.7,335.3 213.3,335.8 213.8,336.3 214.4,336.8 215.0,337.3 215.5,337.8 216.1,338.2 216.7,338.7 217.2,339.2 217.8,339.6 218.4,340.1 218.9,340.6 219.5,341.1 220.1,341.5 220.6,342.0 221.2,342.5 221.8,342.9 222.3,343.4 222.9,343.8 223.5,344.2 224.0,344.6 224.6,344.9 225.2,345.3 225.7,345.7 226.3,346.0 226.9,346.4 227.4,346.7 228.0,347.0 228.6,347.4 229.1,347.7 229.7,348.0 230.3,348.3 230.8,348.6 231.4,348.9 232.0,349.2 232.5,349.5 233.1,349.8 233.7,350.1 234.2,350.4 234.8,350.6 235.4,350.9 235.9,351.2 236.5,351.5 237.1,351.7 237.6,352.0 238.2,352.2 238.8,352.5 239.3,352.7 239.9,352.9 240.5,353.1 241.0,353.3 241.6,353.5 242.2,353.7 242.7,353.8 243.3,354.0 243.9,354.2 244.4,354.3 245.0,354.4 245.6,354.6 246.1,354.7 246.7,354.8 247.3,355.0 247.8,355.1 248.4,355.2 249.0,355.3 249.5,355.4 250.1,355.5 250.7,355.6 251.2,355.7 251.8,355.8 252.4,355.9 252.9,356.0 253.5,356.1 254.1,356.2 254.6,356.3 255.2,356.3 255.8,356.4 256.3,356.5 256.9,356.5 257.5,356.6 258.0,356.7 258.6,356.7 259.2,356.8 259.7,356.9 260.3,357.0 260.9,357.0 261.4,357.1 262.0,357.2 262.6,357.3 263.1,357.4 263.7,357.5 264.3,357.6 264.8,357.6 265.4,357.7 266.0,357.8 266.5,357.9 267.1,358.0 267.7,358.1 268.2,358.2 268.8,358.3 269.4,358.4 269.9,358.4 270.5,358.5 271.0,358.6 271.6,358.7 272.2,358.7 272.7,358.8 273.3,358.8 273.9,358.9 274.4,358.9 275.0,359.0 275.6,359.1 276.1,359.1 276.7,359.2 277.3,359.2 277.8,359.3 278.4,359.3 279.0,359.4 279.5,359.4 280.1,359.4 280.7,359.5 281.2,359.5 281.8,359.6 282.4,359.6 282.9,359.7 283.5,359.7 284.1,359.8 284.6,359.8 285.2,359.8 285.8,359.9 286.3,359.9 286.9,359.9 287.5,360.0 288.0,360.0 288.6,360.0 289.2,360.1 289.7,360.1 290.3,360.1 290.9,360.2 291.4,360.2 292.0,360.2 292.6,360.2 293.1,360.3 293.7,360.3 294.3,360.3 294.8,360.3 295.4,360.3 296.0,360.4 296.5,360.4 297.1,360.4 297.7,360.4 298.2,360.4 298.8,360.4 299.4,360.4 299.9,360.5 300.5,360.5 301.1,360.5 301.6,360.5 302.2,360.5 302.8,360.5 303.3,360.5 303.9,360.6 304.5,360.6 305.0,360.6 305.6,360.6 306.2,360.6 306.7,360.6 307.3,360.6 307.9,360.6 308.4,360.6 309.0,360.7 309.6,360.7 310.1,360.7 310.7,360.7 311.3,360.7 311.8,360.7 312.4,360.7 313.0,360.7 313.5,360.7 314.1,360.7 314.7,360.7 315.2,360.7 315.8,360.7 316.4,360.7 316.9,360.7 317.5,360.7 318.1,360.7 318.6,360.7 319.2,360.7 319.8,360.7 320.3,360.7 320.9,360.7 321.5,360.7 322.0,360.7 322.6,360.7 323.2,360.7 323.7,360.7 324.3,360.7 324.9,360.7 325.4,360.7 326.0,360.7 326.6,360.7 327.1,360.7 327.7,360.7 328.3,360.7 328.8,360.7 329.4,360.7 330.0,360.7 330.5,360.7 331.1,360.7 331.7,360.7 332.2,360.7 332.8,360.7 333.4,360.7 333.9,360.7 334.5,360.7 335.1,360.7 335.6,360.7 336.2,360.7 336.7,360.7 337.3,360.7 337.9,360.7 338.4,360.7 339.0,360.7 339.6,360.7 340.1,360.7 340.7,360.7 341.3,360.7 341.8,360.7 342.4,360.7" stroke-width="0.9"/><g fill="#fff" stroke-width="0.95"><circle cx="45.1" cy="357.9" r="1.05"/><circle cx="47.3" cy="357.3" r="1.05"/><circle cx="49.6" cy="356.8" r="1.05"/><circle cx="51.9" cy="356.3" r="1.05"/><circle cx="54.1" cy="355.8" r="1.05"/><circle cx="56.4" cy="355.4" r="1.05"/><circle cx="58.7" cy="355.1" r="1.05"/><circle cx="60.9" cy="354.7" r="1.05"/><circle cx="63.2" cy="354.5" r="1.05"/><circle cx="65.5" cy="354.4" r="1.05"/><circle cx="67.7" cy="354.3" r="1.05"/><circle cx="70.0" cy="354.2" r="1.05"/><circle cx="72.3" cy="354.0" r="1.05"/><circle cx="74.5" cy="353.8" r="1.05"/><circle cx="76.8" cy="353.6" r="1.05"/><circle cx="79.0" cy="353.4" r="1.05"/><circle cx="81.3" cy="353.1" r="1.05"/><circle cx="83.6" cy="352.8" r="1.05"/><circle cx="85.8" cy="352.4" r="1.05"/><circle cx="88.1" cy="352.0" r="1.05"/><circle cx="90.4" cy="351.6" r="1.05"/><circle cx="92.6" cy="351.1" r="1.05"/><circle cx="94.9" cy="350.5" r="1.05"/><circle cx="97.2" cy="349.9" r="1.05"/><circle cx="99.4" cy="349.3" r="1.05"/><circle cx="101.7" cy="348.8" r="1.05"/><circle cx="104.0" cy="348.1" r="1.05"/><circle cx="106.2" cy="347.0" r="1.05"/><circle cx="108.5" cy="345.6" r="1.05"/><circle cx="110.8" cy="344.1" r="1.05"/><circle cx="113.0" cy="342.5" r="1.05"/><circle cx="115.3" cy="340.6" r="1.05"/><circle cx="117.6" cy="338.1" r="1.05"/><circle cx="119.8" cy="335.1" r="1.05"/><circle cx="122.1" cy="331.7" r="1.05"/><circle cx="124.4" cy="328.5" r="1.05"/><circle cx="126.6" cy="325.4" r="1.05"/><circle cx="128.9" cy="321.2" r="1.05"/><circle cx="131.2" cy="312.0" r="1.05"/><circle cx="133.4" cy="302.1" r="1.05"/><circle cx="135.7" cy="291.6" r="1.05"/><circle cx="138.0" cy="281.3" r="1.05"/><circle cx="140.2" cy="278.9" r="1.05"/><circle cx="142.5" cy="282.9" r="1.05"/><circle cx="144.7" cy="292.7" r="1.05"/><circle cx="147.0" cy="301.2" r="1.05"/><circle cx="149.3" cy="308.4" r="1.05"/><circle cx="151.5" cy="313.6" r="1.05"/><circle cx="153.8" cy="317.6" r="1.05"/><circle cx="156.1" cy="321.0" r="1.05"/><circle cx="158.3" cy="323.9" r="1.05"/><circle cx="160.6" cy="324.6" r="1.05"/><circle cx="162.9" cy="324.6" r="1.05"/><circle cx="165.1" cy="324.1" r="1.05"/><circle cx="167.4" cy="323.3" r="1.05"/><circle cx="169.7" cy="322.3" r="1.05"/><circle cx="171.9" cy="321.4" r="1.05"/><circle cx="174.2" cy="320.8" r="1.05"/><circle cx="176.5" cy="320.3" r="1.05"/><circle cx="178.7" cy="319.9" r="1.05"/><circle cx="181.0" cy="319.7" r="1.05"/><circle cx="183.3" cy="319.5" r="1.05"/><circle cx="185.5" cy="319.5" r="1.05"/><circle cx="187.8" cy="319.8" r="1.05"/><circle cx="190.1" cy="320.4" r="1.05"/><circle cx="192.3" cy="321.3" r="1.05"/><circle cx="194.6" cy="322.3" r="1.05"/><circle cx="196.9" cy="324.0" r="1.05"/><circle cx="199.1" cy="326.1" r="1.05"/><circle cx="201.4" cy="327.8" r="1.05"/><circle cx="203.7" cy="329.1" r="1.05"/><circle cx="205.9" cy="330.4" r="1.05"/><circle cx="208.2" cy="331.9" r="1.05"/><circle cx="210.4" cy="333.5" r="1.05"/><circle cx="212.7" cy="335.3" r="1.05"/><circle cx="215.0" cy="337.3" r="1.05"/><circle cx="217.2" cy="339.2" r="1.05"/><circle cx="219.5" cy="341.1" r="1.05"/><circle cx="221.8" cy="342.9" r="1.05"/><circle cx="224.0" cy="344.6" r="1.05"/><circle cx="226.3" cy="346.0" r="1.05"/><circle cx="228.6" cy="347.4" r="1.05"/><circle cx="230.8" cy="348.6" r="1.05"/><circle cx="233.1" cy="349.8" r="1.05"/><circle cx="235.4" cy="350.9" r="1.05"/><circle cx="237.6" cy="352.0" r="1.05"/><circle cx="239.9" cy="352.9" r="1.05"/><circle cx="242.2" cy="353.7" r="1.05"/><circle cx="244.4" cy="354.3" r="1.05"/><circle cx="246.7" cy="354.8" r="1.05"/><circle cx="249.0" cy="355.3" r="1.05"/><circle cx="251.2" cy="355.7" r="1.05"/><circle cx="253.5" cy="356.1" r="1.05"/><circle cx="255.8" cy="356.4" r="1.05"/><circle cx="258.0" cy="356.7" r="1.05"/><circle cx="260.3" cy="357.0" r="1.05"/><circle cx="262.6" cy="357.3" r="1.05"/><circle cx="264.8" cy="357.6" r="1.05"/><circle cx="267.1" cy="358.0" r="1.05"/><circle cx="269.4" cy="358.4" r="1.05"/><circle cx="271.6" cy="358.7" r="1.05"/><circle cx="273.9" cy="358.9" r="1.05"/><circle cx="276.1" cy="359.1" r="1.05"/><circle cx="278.4" cy="359.3" r="1.05"/><circle cx="280.7" cy="359.5" r="1.05"/><circle cx="282.9" cy="359.7" r="1.05"/><circle cx="285.2" cy="359.8" r="1.05"/><circle cx="287.5" cy="360.0" r="1.05"/><circle cx="289.7" cy="360.1" r="1.05"/><circle cx="292.0" cy="360.2" r="1.05"/><circle cx="294.3" cy="360.3" r="1.05"/><circle cx="296.5" cy="360.4" r="1.05"/><circle cx="298.8" cy="360.4" r="1.05"/><circle cx="301.1" cy="360.5" r="1.05"/><circle cx="303.3" cy="360.5" r="1.05"/><circle cx="305.6" cy="360.6" r="1.05"/><circle cx="307.9" cy="360.6" r="1.05"/><circle cx="310.1" cy="360.7" r="1.05"/><circle cx="312.4" cy="360.7" r="1.05"/><circle cx="314.7" cy="360.7" r="1.05"/><circle cx="316.9" cy="360.7" r="1.05"/><circle cx="319.2" cy="360.7" r="1.05"/><circle cx="321.5" cy="360.7" r="1.05"/><circle cx="323.7" cy="360.7" r="1.05"/><circle cx="326.0" cy="360.7" r="1.05"/><circle cx="328.3" cy="360.7" r="1.05"/><circle cx="330.5" cy="360.7" r="1.05"/><circle cx="332.8" cy="360.7" r="1.05"/><circle cx="335.1" cy="360.7" r="1.05"/><circle cx="337.3" cy="360.7" r="1.05"/><circle cx="339.6" cy="360.7" r="1.05"/><circle cx="341.8" cy="360.7" r="1.05"/></g></g>
<g stroke="#ff10ff" fill="none" clip-path="url(#cb)"><polyline points="44.5,357.8 45.1,357.6 45.6,357.5 46.2,357.4 46.8,357.2 47.3,357.1 47.9,356.9 48.5,356.8 49.0,356.7 49.6,356.5 50.2,356.4 50.7,356.3 51.3,356.2 51.9,356.0 52.4,355.9 53.0,355.8 53.6,355.7 54.1,355.6 54.7,355.5 55.3,355.4 55.8,355.3 56.4,355.2 57.0,355.1 57.5,355.0 58.1,354.9 58.7,354.8 59.2,354.7 59.8,354.6 60.4,354.5 60.9,354.4 61.5,354.4 62.1,354.3 62.6,354.3 63.2,354.2 63.8,354.2 64.3,354.1 64.9,354.1 65.5,354.1 66.0,354.0 66.6,354.0 67.2,354.0 67.7,353.9 68.3,353.9 68.9,353.9 69.4,353.8 70.0,353.8 70.6,353.8 71.1,353.7 71.7,353.7 72.3,353.6 72.8,353.6 73.4,353.5 74.0,353.5 74.5,353.4 75.1,353.4 75.7,353.3 76.2,353.3 76.8,353.2 77.3,353.1 77.9,353.1 78.5,353.0 79.0,353.0 79.6,352.9 80.2,352.8 80.7,352.8 81.3,352.7 81.9,352.6 82.4,352.5 83.0,352.4 83.6,352.4 84.1,352.3 84.7,352.2 85.3,352.1 85.8,352.0 86.4,351.9 87.0,351.8 87.5,351.7 88.1,351.6 88.7,351.5 89.2,351.4 89.8,351.3 90.4,351.1 90.9,351.0 91.5,350.9 92.1,350.8 92.6,350.6 93.2,350.5 93.8,350.3 94.3,350.2 94.9,350.1 95.5,349.9 96.0,349.8 96.6,349.6 97.2,349.5 97.7,349.3 98.3,349.2 98.9,349.0 99.4,348.9 100.0,348.8 100.6,348.6 101.1,348.5 101.7,348.3 102.3,348.2 102.8,348.0 103.4,347.8 104.0,347.6 104.5,347.4 105.1,347.2 105.7,347.0 106.2,346.7 106.8,346.4 107.4,346.1 107.9,345.8 108.5,345.5 109.1,345.2 109.6,344.9 110.2,344.6 110.8,344.3 111.3,344.0 111.9,343.6 112.5,343.3 113.0,342.9 113.6,342.4 114.2,342.0 114.7,341.5 115.3,341.0 115.9,340.4 116.4,339.9 117.0,339.3 117.6,338.6 118.1,337.9 118.7,337.2 119.3,336.5 119.8,335.8 120.4,335.1 121.0,334.3 121.5,333.5 122.1,332.8 122.7,332.0 123.2,331.2 123.8,330.4 124.4,329.6 124.9,328.9 125.5,328.1 126.1,327.3 126.6,326.5 127.2,325.8 127.8,324.9 128.3,323.9 128.9,322.4 129.5,320.4 130.0,318.2 130.6,315.9 131.2,313.6 131.7,311.1 132.3,308.6 132.9,306.0 133.4,303.4 134.0,300.6 134.6,298.0 135.1,295.8 135.7,293.8 136.3,291.9 136.8,290.5 137.4,289.7 138.0,289.4 138.5,289.1 139.1,289.0 139.7,288.9 140.2,289.4 140.8,290.6 141.4,292.2 141.9,293.9 142.5,296.0 143.0,298.7 143.6,301.5 144.2,304.1 144.7,306.4 145.3,308.5 145.9,310.5 146.4,312.5 147.0,314.4 147.6,316.2 148.1,317.9 148.7,319.3 149.3,320.6 149.8,321.8 150.4,322.8 151.0,323.5 151.5,324.0 152.1,324.4 152.7,324.7 153.2,325.0 153.8,325.2 154.4,325.4 154.9,325.6 155.5,325.8 156.1,326.0 156.6,326.3 157.2,326.5 157.8,326.5 158.3,326.5 158.9,326.5 159.5,326.5 160.0,326.5 160.6,326.5 161.2,326.4 161.7,326.3 162.3,326.2 162.9,326.0 163.4,325.9 164.0,325.8 164.6,325.6 165.1,325.5 165.7,325.3 166.3,325.2 166.8,325.0 167.4,324.9 168.0,324.7 168.5,324.6 169.1,324.4 169.7,324.3 170.2,324.2 170.8,324.0 171.4,323.9 171.9,323.7 172.5,323.6 173.1,323.4 173.6,323.3 174.2,323.1 174.8,323.0 175.3,322.9 175.9,322.7 176.5,322.6 177.0,322.5 177.6,322.4 178.2,322.4 178.7,322.3 179.3,322.2 179.9,322.1 180.4,322.0 181.0,321.9 181.6,321.7 182.1,321.5 182.7,321.4 183.3,321.2 183.8,321.1 184.4,321.0 185.0,321.0 185.5,321.0 186.1,321.0 186.7,321.0 187.2,321.1 187.8,321.1 188.4,321.1 188.9,321.2 189.5,321.3 190.1,321.3 190.6,321.4 191.2,321.5 191.8,321.6 192.3,321.7 192.9,321.8 193.5,321.9 194.0,322.0 194.6,322.2 195.2,322.5 195.7,322.9 196.3,323.3 196.9,323.8 197.4,324.4 198.0,325.0 198.6,325.5 199.1,326.1 199.7,326.6 200.3,327.0 200.8,327.4 201.4,327.8 202.0,328.1 202.5,328.5 203.1,328.8 203.7,329.1 204.2,329.5 204.8,329.8 205.4,330.1 205.9,330.4 206.5,330.8 207.0,331.1 207.6,331.5 208.2,331.9 208.7,332.2 209.3,332.6 209.9,333.1 210.4,333.5 211.0,334.0 211.6,334.4 212.1,334.9 212.7,335.3 213.3,335.8 213.8,336.3 214.4,336.8 215.0,337.3 215.5,337.8 216.1,338.2 216.7,338.7 217.2,339.2 217.8,339.6 218.4,340.1 218.9,340.6 219.5,341.1 220.1,341.5 220.6,342.0 221.2,342.5 221.8,342.9 222.3,343.4 222.9,343.8 223.5,344.2 224.0,344.6 224.6,344.9 225.2,345.3 225.7,345.7 226.3,346.0 226.9,346.4 227.4,346.7 228.0,347.0 228.6,347.4 229.1,347.7 229.7,348.0 230.3,348.3 230.8,348.6 231.4,348.9 232.0,349.2 232.5,349.5 233.1,349.8 233.7,350.1 234.2,350.4 234.8,350.6 235.4,350.9 235.9,351.2 236.5,351.5 237.1,351.7 237.6,352.0 238.2,352.2 238.8,352.5 239.3,352.7 239.9,352.9 240.5,353.1 241.0,353.3 241.6,353.5 242.2,353.7 242.7,353.8 243.3,354.0 243.9,354.2 244.4,354.3 245.0,354.4 245.6,354.6 246.1,354.7 246.7,354.8 247.3,355.0 247.8,355.1 248.4,355.2 249.0,355.3 249.5,355.4 250.1,355.5 250.7,355.6 251.2,355.7 251.8,355.8 252.4,355.9 252.9,356.0 253.5,356.1 254.1,356.2 254.6,356.3 255.2,356.3 255.8,356.4 256.3,356.5 256.9,356.5 257.5,356.6 258.0,356.7 258.6,356.7 259.2,356.8 259.7,356.9 260.3,357.0 260.9,357.0 261.4,357.1 262.0,357.2 262.6,357.3 263.1,357.4 263.7,357.5 264.3,357.6 264.8,357.6 265.4,357.7 266.0,357.8 266.5,357.9 267.1,358.0 267.7,358.1 268.2,358.2 268.8,358.3 269.4,358.4 269.9,358.4 270.5,358.5 271.0,358.6 271.6,358.7 272.2,358.7 272.7,358.8 273.3,358.8 273.9,358.9 274.4,358.9 275.0,359.0 275.6,359.1 276.1,359.1 276.7,359.2 277.3,359.2 277.8,359.3 278.4,359.3 279.0,359.4 279.5,359.4 280.1,359.4 280.7,359.5 281.2,359.5 281.8,359.6 282.4,359.6 282.9,359.7 283.5,359.7 284.1,359.8 284.6,359.8 285.2,359.8 285.8,359.9 286.3,359.9 286.9,359.9 287.5,360.0 288.0,360.0 288.6,360.0 289.2,360.1 289.7,360.1 290.3,360.1 290.9,360.2 291.4,360.2 292.0,360.2 292.6,360.2 293.1,360.3 293.7,360.3 294.3,360.3 294.8,360.3 295.4,360.3 296.0,360.4 296.5,360.4 297.1,360.4 297.7,360.4 298.2,360.4 298.8,360.4 299.4,360.4 299.9,360.5 300.5,360.5 301.1,360.5 301.6,360.5 302.2,360.5 302.8,360.5 303.3,360.5 303.9,360.6 304.5,360.6 305.0,360.6 305.6,360.6 306.2,360.6 306.7,360.6 307.3,360.6 307.9,360.6 308.4,360.6 309.0,360.7 309.6,360.7 310.1,360.7 310.7,360.7 311.3,360.7 311.8,360.7 312.4,360.7 313.0,360.7 313.5,360.7 314.1,360.7 314.7,360.7 315.2,360.7 315.8,360.7 316.4,360.7 316.9,360.7 317.5,360.7 318.1,360.7 318.6,360.7 319.2,360.7 319.8,360.7 320.3,360.7 320.9,360.7 321.5,360.7 322.0,360.7 322.6,360.7 323.2,360.7 323.7,360.7 324.3,360.7 324.9,360.7 325.4,360.7 326.0,360.7 326.6,360.7 327.1,360.7 327.7,360.7 328.3,360.7 328.8,360.7 329.4,360.7 330.0,360.7 330.5,360.7 331.1,360.7 331.7,360.7 332.2,360.7 332.8,360.7 333.4,360.7 333.9,360.7 334.5,360.7 335.1,360.7 335.6,360.7 336.2,360.7 336.7,360.7 337.3,360.7 337.9,360.7 338.4,360.7 339.0,360.7 339.6,360.7 340.1,360.7 340.7,360.7 341.3,360.7 341.8,360.7 342.4,360.7" stroke-width="0.9"/><g fill="#fff" stroke-width="0.95"><circle cx="44.8" cy="357.7" r="1.05"/><circle cx="47.0" cy="357.1" r="1.05"/><circle cx="49.3" cy="356.6" r="1.05"/><circle cx="51.6" cy="356.1" r="1.05"/><circle cx="53.8" cy="355.6" r="1.05"/><circle cx="56.1" cy="355.2" r="1.05"/><circle cx="58.4" cy="354.8" r="1.05"/><circle cx="60.6" cy="354.5" r="1.05"/><circle cx="62.9" cy="354.2" r="1.05"/><circle cx="65.2" cy="354.1" r="1.05"/><circle cx="67.4" cy="354.0" r="1.05"/><circle cx="69.7" cy="353.8" r="1.05"/><circle cx="72.0" cy="353.7" r="1.05"/><circle cx="74.2" cy="353.5" r="1.05"/><circle cx="76.5" cy="353.2" r="1.05"/><circle cx="78.8" cy="353.0" r="1.05"/><circle cx="81.0" cy="352.7" r="1.05"/><circle cx="83.3" cy="352.4" r="1.05"/><circle cx="85.6" cy="352.0" r="1.05"/><circle cx="87.8" cy="351.6" r="1.05"/><circle cx="90.1" cy="351.2" r="1.05"/><circle cx="92.4" cy="350.7" r="1.05"/><circle cx="94.6" cy="350.1" r="1.05"/><circle cx="96.9" cy="349.5" r="1.05"/><circle cx="99.2" cy="349.0" r="1.05"/><circle cx="101.4" cy="348.4" r="1.05"/><circle cx="103.7" cy="347.7" r="1.05"/><circle cx="106.0" cy="346.8" r="1.05"/><circle cx="108.2" cy="345.6" r="1.05"/><circle cx="110.5" cy="344.4" r="1.05"/><circle cx="112.7" cy="343.1" r="1.05"/><circle cx="115.0" cy="341.2" r="1.05"/><circle cx="117.3" cy="338.9" r="1.05"/><circle cx="119.5" cy="336.2" r="1.05"/><circle cx="121.8" cy="333.2" r="1.05"/><circle cx="124.1" cy="330.0" r="1.05"/><circle cx="126.3" cy="326.9" r="1.05"/><circle cx="128.6" cy="323.2" r="1.05"/><circle cx="130.9" cy="314.8" r="1.05"/><circle cx="133.1" cy="304.7" r="1.05"/><circle cx="135.4" cy="294.8" r="1.05"/><circle cx="137.7" cy="289.5" r="1.05"/><circle cx="139.9" cy="289.0" r="1.05"/><circle cx="142.2" cy="294.8" r="1.05"/><circle cx="144.5" cy="305.3" r="1.05"/><circle cx="146.7" cy="313.4" r="1.05"/><circle cx="149.0" cy="320.0" r="1.05"/><circle cx="151.3" cy="323.8" r="1.05"/><circle cx="153.5" cy="325.1" r="1.05"/><circle cx="155.8" cy="325.9" r="1.05"/><circle cx="158.1" cy="326.5" r="1.05"/><circle cx="160.3" cy="326.5" r="1.05"/><circle cx="162.6" cy="326.1" r="1.05"/><circle cx="164.9" cy="325.5" r="1.05"/><circle cx="167.1" cy="324.9" r="1.05"/><circle cx="169.4" cy="324.4" r="1.05"/><circle cx="171.7" cy="323.8" r="1.05"/><circle cx="173.9" cy="323.2" r="1.05"/><circle cx="176.2" cy="322.7" r="1.05"/><circle cx="178.4" cy="322.3" r="1.05"/><circle cx="180.7" cy="321.9" r="1.05"/><circle cx="183.0" cy="321.3" r="1.05"/><circle cx="185.2" cy="321.0" r="1.05"/><circle cx="187.5" cy="321.1" r="1.05"/><circle cx="189.8" cy="321.3" r="1.05"/><circle cx="192.0" cy="321.6" r="1.05"/><circle cx="194.3" cy="322.1" r="1.05"/><circle cx="196.6" cy="323.6" r="1.05"/><circle cx="198.8" cy="325.8" r="1.05"/><circle cx="201.1" cy="327.6" r="1.05"/><circle cx="203.4" cy="329.0" r="1.05"/><circle cx="205.6" cy="330.3" r="1.05"/><circle cx="207.9" cy="331.7" r="1.05"/><circle cx="210.2" cy="333.3" r="1.05"/><circle cx="212.4" cy="335.1" r="1.05"/><circle cx="214.7" cy="337.0" r="1.05"/><circle cx="217.0" cy="338.9" r="1.05"/><circle cx="219.2" cy="340.8" r="1.05"/><circle cx="221.5" cy="342.7" r="1.05"/><circle cx="223.8" cy="344.4" r="1.05"/><circle cx="226.0" cy="345.8" r="1.05"/><circle cx="228.3" cy="347.2" r="1.05"/><circle cx="230.6" cy="348.5" r="1.05"/><circle cx="232.8" cy="349.7" r="1.05"/><circle cx="235.1" cy="350.8" r="1.05"/><circle cx="237.4" cy="351.8" r="1.05"/><circle cx="239.6" cy="352.8" r="1.05"/><circle cx="241.9" cy="353.6" r="1.05"/><circle cx="244.1" cy="354.2" r="1.05"/><circle cx="246.4" cy="354.8" r="1.05"/><circle cx="248.7" cy="355.3" r="1.05"/><circle cx="250.9" cy="355.7" r="1.05"/><circle cx="253.2" cy="356.1" r="1.05"/><circle cx="255.5" cy="356.4" r="1.05"/><circle cx="257.7" cy="356.6" r="1.05"/><circle cx="260.0" cy="356.9" r="1.05"/><circle cx="262.3" cy="357.2" r="1.05"/><circle cx="264.5" cy="357.6" r="1.05"/><circle cx="266.8" cy="358.0" r="1.05"/><circle cx="269.1" cy="358.3" r="1.05"/><circle cx="271.3" cy="358.6" r="1.05"/><circle cx="273.6" cy="358.9" r="1.05"/><circle cx="275.9" cy="359.1" r="1.05"/><circle cx="278.1" cy="359.3" r="1.05"/><circle cx="280.4" cy="359.5" r="1.05"/><circle cx="282.7" cy="359.6" r="1.05"/><circle cx="284.9" cy="359.8" r="1.05"/><circle cx="287.2" cy="360.0" r="1.05"/><circle cx="289.5" cy="360.1" r="1.05"/><circle cx="291.7" cy="360.2" r="1.05"/><circle cx="294.0" cy="360.3" r="1.05"/><circle cx="296.3" cy="360.4" r="1.05"/><circle cx="298.5" cy="360.4" r="1.05"/><circle cx="300.8" cy="360.5" r="1.05"/><circle cx="303.1" cy="360.5" r="1.05"/><circle cx="305.3" cy="360.6" r="1.05"/><circle cx="307.6" cy="360.6" r="1.05"/><circle cx="309.8" cy="360.7" r="1.05"/><circle cx="312.1" cy="360.7" r="1.05"/><circle cx="314.4" cy="360.7" r="1.05"/><circle cx="316.6" cy="360.7" r="1.05"/><circle cx="318.9" cy="360.7" r="1.05"/><circle cx="321.2" cy="360.7" r="1.05"/><circle cx="323.4" cy="360.7" r="1.05"/><circle cx="325.7" cy="360.7" r="1.05"/><circle cx="328.0" cy="360.7" r="1.05"/><circle cx="330.2" cy="360.7" r="1.05"/><circle cx="332.5" cy="360.7" r="1.05"/><circle cx="334.8" cy="360.7" r="1.05"/><circle cx="337.0" cy="360.7" r="1.05"/><circle cx="339.3" cy="360.7" r="1.05"/><circle cx="341.6" cy="360.7" r="1.05"/></g></g>
<g stroke="#9a40ff" fill="none" clip-path="url(#cb)"><polyline points="44.5,358.4 45.1,358.2 45.6,358.0 46.2,357.9 46.8,357.7 47.3,357.6 47.9,357.4 48.5,357.3 49.0,357.2 49.6,357.0 50.2,356.9 50.7,356.8 51.3,356.7 51.9,356.5 52.4,356.4 53.0,356.3 53.6,356.2 54.1,356.1 54.7,356.0 55.3,355.9 55.8,355.8 56.4,355.7 57.0,355.6 57.5,355.5 58.1,355.4 58.7,355.3 59.2,355.3 59.8,355.2 60.4,355.1 60.9,355.0 61.5,355.0 62.1,354.9 62.6,354.9 63.2,354.9 63.8,354.8 64.3,354.8 64.9,354.8 65.5,354.7 66.0,354.7 66.6,354.7 67.2,354.6 67.7,354.6 68.3,354.6 68.9,354.6 69.4,354.5 70.0,354.5 70.6,354.5 71.1,354.4 71.7,354.4 72.3,354.3 72.8,354.3 73.4,354.3 74.0,354.2 74.5,354.2 75.1,354.1 75.7,354.1 76.2,354.0 76.8,354.0 77.3,353.9 77.9,353.9 78.5,353.8 79.0,353.8 79.6,353.7 80.2,353.6 80.7,353.6 81.3,353.5 81.9,353.4 82.4,353.4 83.0,353.3 83.6,353.2 84.1,353.1 84.7,353.0 85.3,352.9 85.8,352.9 86.4,352.8 87.0,352.7 87.5,352.6 88.1,352.5 88.7,352.4 89.2,352.3 89.8,352.1 90.4,352.0 90.9,351.9 91.5,351.8 92.1,351.6 92.6,351.5 93.2,351.4 93.8,351.2 94.3,351.1 94.9,350.9 95.5,350.8 96.0,350.6 96.6,350.5 97.2,350.3 97.7,350.2 98.3,350.1 98.9,349.9 99.4,349.8 100.0,349.7 100.6,349.5 101.1,349.4 101.7,349.2 102.3,349.1 102.8,348.9 103.4,348.7 104.0,348.5 104.5,348.3 105.1,348.1 105.7,347.8 106.2,347.4 106.8,347.0 107.4,346.6 107.9,346.2 108.5,345.8 109.1,345.4 109.6,344.9 110.2,344.5 110.8,344.0 111.3,343.5 111.9,343.0 112.5,342.5 113.0,342.0 113.6,341.4 114.2,340.8 114.7,340.2 115.3,339.6 115.9,339.0 116.4,338.3 117.0,337.6 117.6,336.8 118.1,336.0 118.7,335.2 119.3,334.4 119.8,333.5 120.4,332.7 121.0,331.9 121.5,331.1 122.1,330.3 122.7,329.4 123.2,328.6 123.8,327.7 124.4,326.9 124.9,326.0 125.5,325.2 126.1,324.3 126.6,323.4 127.2,322.6 127.8,321.6 128.3,320.5 128.9,318.9 129.5,316.8 130.0,314.5 130.6,312.1 131.2,309.5 131.7,306.6 132.3,303.6 132.9,300.7 133.4,297.9 134.0,295.0 134.6,292.2 135.1,289.3 135.7,286.2 136.3,282.9 136.8,279.8 137.4,277.1 138.0,274.6 138.5,272.2 139.1,270.3 139.7,269.5 140.2,269.5 140.8,269.5 141.4,269.5 141.9,269.5 142.5,270.0 143.0,271.0 143.6,272.5 144.2,274.1 144.7,276.2 145.3,278.9 145.9,281.8 146.4,284.4 147.0,286.6 147.6,288.6 148.1,290.7 148.7,292.7 149.3,294.8 149.8,297.0 150.4,299.1 151.0,301.1 151.5,303.0 152.1,304.8 152.7,306.6 153.2,308.3 153.8,310.0 154.4,311.6 154.9,313.1 155.5,314.4 156.1,315.5 156.6,316.4 157.2,317.3 157.8,318.2 158.3,319.1 158.9,320.0 159.5,320.7 160.0,321.2 160.6,321.5 161.2,321.8 161.7,321.9 162.3,322.0 162.9,322.0 163.4,321.9 164.0,321.8 164.6,321.7 165.1,321.6 165.7,321.5 166.3,321.3 166.8,321.2 167.4,321.1 168.0,320.9 168.5,320.7 169.1,320.5 169.7,320.2 170.2,320.0 170.8,319.8 171.4,319.7 171.9,319.6 172.5,319.5 173.1,319.4 173.6,319.3 174.2,319.2 174.8,319.1 175.3,319.0 175.9,318.9 176.5,318.9 177.0,318.8 177.6,318.7 178.2,318.7 178.7,318.6 179.3,318.6 179.9,318.6 180.4,318.6 181.0,318.6 181.6,318.6 182.1,318.6 182.7,318.6 183.3,318.6 183.8,318.6 184.4,318.6 185.0,318.6 185.5,318.6 186.1,318.6 186.7,318.7 187.2,318.9 187.8,319.0 188.4,319.2 188.9,319.4 189.5,319.7 190.1,319.9 190.6,320.2 191.2,320.5 191.8,320.8 192.3,321.1 192.9,321.4 193.5,321.7 194.0,322.0 194.6,322.3 195.2,322.7 195.7,323.1 196.3,323.6 196.9,324.1 197.4,324.6 198.0,325.1 198.6,325.6 199.1,326.1 199.7,326.6 200.3,327.0 200.8,327.4 201.4,327.8 202.0,328.1 202.5,328.5 203.1,328.8 203.7,329.1 204.2,329.5 204.8,329.8 205.4,330.1 205.9,330.4 206.5,330.8 207.0,331.1 207.6,331.5 208.2,331.9 208.7,332.2 209.3,332.6 209.9,333.1 210.4,333.5 211.0,334.0 211.6,334.4 212.1,334.9 212.7,335.3 213.3,335.8 213.8,336.3 214.4,336.8 215.0,337.3 215.5,337.8 216.1,338.2 216.7,338.7 217.2,339.2 217.8,339.6 218.4,340.1 218.9,340.6 219.5,341.1 220.1,341.5 220.6,342.0 221.2,342.5 221.8,342.9 222.3,343.4 222.9,343.8 223.5,344.2 224.0,344.6 224.6,344.9 225.2,345.3 225.7,345.7 226.3,346.0 226.9,346.4 227.4,346.7 228.0,347.0 228.6,347.4 229.1,347.7 229.7,348.0 230.3,348.3 230.8,348.6 231.4,348.9 232.0,349.2 232.5,349.5 233.1,349.8 233.7,350.1 234.2,350.4 234.8,350.6 235.4,350.9 235.9,351.2 236.5,351.5 237.1,351.7 237.6,352.0 238.2,352.2 238.8,352.5 239.3,352.7 239.9,352.9 240.5,353.1 241.0,353.3 241.6,353.5 242.2,353.7 242.7,353.8 243.3,354.0 243.9,354.2 244.4,354.3 245.0,354.4 245.6,354.6 246.1,354.7 246.7,354.8 247.3,355.0 247.8,355.1 248.4,355.2 249.0,355.3 249.5,355.4 250.1,355.5 250.7,355.6 251.2,355.7 251.8,355.8 252.4,355.9 252.9,356.0 253.5,356.1 254.1,356.2 254.6,356.3 255.2,356.3 255.8,356.4 256.3,356.5 256.9,356.5 257.5,356.6 258.0,356.7 258.6,356.7 259.2,356.8 259.7,356.9 260.3,357.0 260.9,357.0 261.4,357.1 262.0,357.2 262.6,357.3 263.1,357.4 263.7,357.5 264.3,357.6 264.8,357.6 265.4,357.7 266.0,357.8 266.5,357.9 267.1,358.0 267.7,358.1 268.2,358.2 268.8,358.3 269.4,358.4 269.9,358.4 270.5,358.5 271.0,358.6 271.6,358.7 272.2,358.7 272.7,358.8 273.3,358.8 273.9,358.9 274.4,358.9 275.0,359.0 275.6,359.1 276.1,359.1 276.7,359.2 277.3,359.2 277.8,359.3 278.4,359.3 279.0,359.4 279.5,359.4 280.1,359.4 280.7,359.5 281.2,359.5 281.8,359.6 282.4,359.6 282.9,359.7 283.5,359.7 284.1,359.8 284.6,359.8 285.2,359.8 285.8,359.9 286.3,359.9 286.9,359.9 287.5,360.0 288.0,360.0 288.6,360.0 289.2,360.1 289.7,360.1 290.3,360.1 290.9,360.2 291.4,360.2 292.0,360.2 292.6,360.2 293.1,360.3 293.7,360.3 294.3,360.3 294.8,360.3 295.4,360.3 296.0,360.4 296.5,360.4 297.1,360.4 297.7,360.4 298.2,360.4 298.8,360.4 299.4,360.4 299.9,360.5 300.5,360.5 301.1,360.5 301.6,360.5 302.2,360.5 302.8,360.5 303.3,360.5 303.9,360.6 304.5,360.6 305.0,360.6 305.6,360.6 306.2,360.6 306.7,360.6 307.3,360.6 307.9,360.6 308.4,360.6 309.0,360.7 309.6,360.7 310.1,360.7 310.7,360.7 311.3,360.7 311.8,360.7 312.4,360.7 313.0,360.7 313.5,360.7 314.1,360.7 314.7,360.7 315.2,360.7 315.8,360.7 316.4,360.7 316.9,360.7 317.5,360.7 318.1,360.7 318.6,360.7 319.2,360.7 319.8,360.7 320.3,360.7 320.9,360.7 321.5,360.7 322.0,360.7 322.6,360.7 323.2,360.7 323.7,360.7 324.3,360.7 324.9,360.7 325.4,360.7 326.0,360.7 326.6,360.7 327.1,360.7 327.7,360.7 328.3,360.7 328.8,360.7 329.4,360.7 330.0,360.7 330.5,360.7 331.1,360.7 331.7,360.7 332.2,360.7 332.8,360.7 333.4,360.7 333.9,360.7 334.5,360.7 335.1,360.7 335.6,360.7 336.2,360.7 336.7,360.7 337.3,360.7 337.9,360.7 338.4,360.7 339.0,360.7 339.6,360.7 340.1,360.7 340.7,360.7 341.3,360.7 341.8,360.7 342.4,360.7" stroke-width="0.9"/><g fill="#fff" stroke-width="0.95"><circle cx="45.3" cy="358.1" r="1.05"/><circle cx="47.6" cy="357.5" r="1.05"/><circle cx="49.9" cy="357.0" r="1.05"/><circle cx="52.1" cy="356.5" r="1.05"/><circle cx="54.4" cy="356.0" r="1.05"/><circle cx="56.7" cy="355.6" r="1.05"/><circle cx="58.9" cy="355.3" r="1.05"/><circle cx="61.2" cy="355.0" r="1.05"/><circle cx="63.5" cy="354.8" r="1.05"/><circle cx="65.7" cy="354.7" r="1.05"/><circle cx="68.0" cy="354.6" r="1.05"/><circle cx="70.3" cy="354.5" r="1.05"/><circle cx="72.5" cy="354.3" r="1.05"/><circle cx="74.8" cy="354.1" r="1.05"/><circle cx="77.1" cy="353.9" r="1.05"/><circle cx="79.3" cy="353.7" r="1.05"/><circle cx="81.6" cy="353.5" r="1.05"/><circle cx="83.9" cy="353.2" r="1.05"/><circle cx="86.1" cy="352.8" r="1.05"/><circle cx="88.4" cy="352.4" r="1.05"/><circle cx="90.7" cy="352.0" r="1.05"/><circle cx="92.9" cy="351.4" r="1.05"/><circle cx="95.2" cy="350.9" r="1.05"/><circle cx="97.5" cy="350.3" r="1.05"/><circle cx="99.7" cy="349.7" r="1.05"/><circle cx="102.0" cy="349.1" r="1.05"/><circle cx="104.3" cy="348.4" r="1.05"/><circle cx="106.5" cy="347.2" r="1.05"/><circle cx="108.8" cy="345.6" r="1.05"/><circle cx="111.0" cy="343.8" r="1.05"/><circle cx="113.3" cy="341.7" r="1.05"/><circle cx="115.6" cy="339.3" r="1.05"/><circle cx="117.8" cy="336.4" r="1.05"/><circle cx="120.1" cy="333.1" r="1.05"/><circle cx="122.4" cy="329.8" r="1.05"/><circle cx="124.6" cy="326.4" r="1.05"/><circle cx="126.9" cy="323.0" r="1.05"/><circle cx="129.2" cy="317.9" r="1.05"/><circle cx="131.4" cy="308.1" r="1.05"/><circle cx="133.7" cy="296.5" r="1.05"/><circle cx="136.0" cy="284.6" r="1.05"/><circle cx="138.2" cy="273.4" r="1.05"/><circle cx="140.5" cy="269.5" r="1.05"/><circle cx="142.8" cy="270.4" r="1.05"/><circle cx="145.0" cy="277.5" r="1.05"/><circle cx="147.3" cy="287.6" r="1.05"/><circle cx="149.6" cy="295.9" r="1.05"/><circle cx="151.8" cy="303.9" r="1.05"/><circle cx="154.1" cy="310.8" r="1.05"/><circle cx="156.4" cy="316.0" r="1.05"/><circle cx="158.6" cy="319.5" r="1.05"/><circle cx="160.9" cy="321.6" r="1.05"/><circle cx="163.2" cy="321.9" r="1.05"/><circle cx="165.4" cy="321.5" r="1.05"/><circle cx="167.7" cy="321.0" r="1.05"/><circle cx="170.0" cy="320.1" r="1.05"/><circle cx="172.2" cy="319.5" r="1.05"/><circle cx="174.5" cy="319.1" r="1.05"/><circle cx="176.7" cy="318.8" r="1.05"/><circle cx="179.0" cy="318.6" r="1.05"/><circle cx="181.3" cy="318.6" r="1.05"/><circle cx="183.5" cy="318.6" r="1.05"/><circle cx="185.8" cy="318.6" r="1.05"/><circle cx="188.1" cy="319.1" r="1.05"/><circle cx="190.3" cy="320.1" r="1.05"/><circle cx="192.6" cy="321.2" r="1.05"/><circle cx="194.9" cy="322.5" r="1.05"/><circle cx="197.1" cy="324.4" r="1.05"/><circle cx="199.4" cy="326.4" r="1.05"/><circle cx="201.7" cy="327.9" r="1.05"/><circle cx="203.9" cy="329.3" r="1.05"/><circle cx="206.2" cy="330.6" r="1.05"/><circle cx="208.5" cy="332.0" r="1.05"/><circle cx="210.7" cy="333.7" r="1.05"/><circle cx="213.0" cy="335.6" r="1.05"/><circle cx="215.3" cy="337.5" r="1.05"/><circle cx="217.5" cy="339.4" r="1.05"/><circle cx="219.8" cy="341.3" r="1.05"/><circle cx="222.1" cy="343.2" r="1.05"/><circle cx="224.3" cy="344.7" r="1.05"/><circle cx="226.6" cy="346.2" r="1.05"/><circle cx="228.9" cy="347.5" r="1.05"/><circle cx="231.1" cy="348.8" r="1.05"/><circle cx="233.4" cy="349.9" r="1.05"/><circle cx="235.7" cy="351.0" r="1.05"/><circle cx="237.9" cy="352.1" r="1.05"/><circle cx="240.2" cy="353.0" r="1.05"/><circle cx="242.4" cy="353.8" r="1.05"/><circle cx="244.7" cy="354.4" r="1.05"/><circle cx="247.0" cy="354.9" r="1.05"/><circle cx="249.2" cy="355.4" r="1.05"/><circle cx="251.5" cy="355.8" r="1.05"/><circle cx="253.8" cy="356.2" r="1.05"/><circle cx="256.0" cy="356.4" r="1.05"/><circle cx="258.3" cy="356.7" r="1.05"/><circle cx="260.6" cy="357.0" r="1.05"/><circle cx="262.8" cy="357.3" r="1.05"/><circle cx="265.1" cy="357.7" r="1.05"/><circle cx="267.4" cy="358.1" r="1.05"/><circle cx="269.6" cy="358.4" r="1.05"/><circle cx="271.9" cy="358.7" r="1.05"/><circle cx="274.2" cy="358.9" r="1.05"/><circle cx="276.4" cy="359.1" r="1.05"/><circle cx="278.7" cy="359.3" r="1.05"/><circle cx="281.0" cy="359.5" r="1.05"/><circle cx="283.2" cy="359.7" r="1.05"/><circle cx="285.5" cy="359.9" r="1.05"/><circle cx="287.8" cy="360.0" r="1.05"/><circle cx="290.0" cy="360.1" r="1.05"/><circle cx="292.3" cy="360.2" r="1.05"/><circle cx="294.6" cy="360.3" r="1.05"/><circle cx="296.8" cy="360.4" r="1.05"/><circle cx="299.1" cy="360.4" r="1.05"/><circle cx="301.4" cy="360.5" r="1.05"/><circle cx="303.6" cy="360.6" r="1.05"/><circle cx="305.9" cy="360.6" r="1.05"/><circle cx="308.1" cy="360.6" r="1.05"/><circle cx="310.4" cy="360.7" r="1.05"/><circle cx="312.7" cy="360.7" r="1.05"/><circle cx="314.9" cy="360.7" r="1.05"/><circle cx="317.2" cy="360.7" r="1.05"/><circle cx="319.5" cy="360.7" r="1.05"/><circle cx="321.7" cy="360.7" r="1.05"/><circle cx="324.0" cy="360.7" r="1.05"/><circle cx="326.3" cy="360.7" r="1.05"/><circle cx="328.5" cy="360.7" r="1.05"/><circle cx="330.8" cy="360.7" r="1.05"/><circle cx="333.1" cy="360.7" r="1.05"/><circle cx="335.3" cy="360.7" r="1.05"/><circle cx="337.6" cy="360.7" r="1.05"/><circle cx="339.9" cy="360.7" r="1.05"/><circle cx="342.1" cy="360.7" r="1.05"/></g></g>
<g stroke="#5238ec" fill="none" clip-path="url(#cb)"><polyline points="44.5,357.5 45.1,357.4 45.6,357.2 46.2,357.1 46.8,356.9 47.3,356.8 47.9,356.7 48.5,356.5 49.0,356.4 49.6,356.3 50.2,356.2 50.7,356.0 51.3,355.9 51.9,355.8 52.4,355.7 53.0,355.6 53.6,355.5 54.1,355.3 54.7,355.2 55.3,355.1 55.8,355.0 56.4,354.9 57.0,354.8 57.5,354.7 58.1,354.6 58.7,354.5 59.2,354.4 59.8,354.3 60.4,354.2 60.9,354.1 61.5,354.1 62.1,354.0 62.6,354.0 63.2,353.9 63.8,353.9 64.3,353.8 64.9,353.8 65.5,353.7 66.0,353.7 66.6,353.7 67.2,353.6 67.7,353.6 68.3,353.6 68.9,353.5 69.4,353.5 70.0,353.5 70.6,353.4 71.1,353.4 71.7,353.3 72.3,353.3 72.8,353.2 73.4,353.2 74.0,353.1 74.5,353.1 75.1,353.0 75.7,352.9 76.2,352.9 76.8,352.8 77.3,352.8 77.9,352.7 78.5,352.6 79.0,352.6 79.6,352.5 80.2,352.4 80.7,352.3 81.3,352.3 81.9,352.2 82.4,352.1 83.0,352.0 83.6,351.9 84.1,351.8 84.7,351.8 85.3,351.7 85.8,351.6 86.4,351.5 87.0,351.4 87.5,351.3 88.1,351.2 88.7,351.0 89.2,350.9 89.8,350.8 90.4,350.7 90.9,350.6 91.5,350.4 92.1,350.3 92.6,350.2 93.2,350.0 93.8,349.9 94.3,349.8 94.9,349.6 95.5,349.5 96.0,349.3 96.6,349.2 97.2,349.0 97.7,348.9 98.3,348.7 98.9,348.6 99.4,348.5 100.0,348.3 100.6,348.2 101.1,348.0 101.7,347.9 102.3,347.7 102.8,347.5 103.4,347.4 104.0,347.2 104.5,347.0 105.1,346.8 105.7,346.6 106.2,346.3 106.8,346.1 107.4,345.8 107.9,345.5 108.5,345.2 109.1,344.9 109.6,344.6 110.2,344.2 110.8,343.8 111.3,343.4 111.9,343.0 112.5,342.5 113.0,342.0 113.6,341.5 114.2,340.9 114.7,340.3 115.3,339.6 115.9,339.0 116.4,338.3 117.0,337.6 117.6,336.8 118.1,336.0 118.7,335.2 119.3,334.4 119.8,333.5 120.4,332.7 121.0,331.9 121.5,331.1 122.1,330.3 122.7,329.5 123.2,328.6 123.8,327.7 124.4,326.8 124.9,325.8 125.5,324.9 126.1,323.9 126.6,322.9 127.2,322.0 127.8,321.0 128.3,319.7 128.9,318.0 129.5,315.8 130.0,313.4 130.6,311.0 131.2,308.3 131.7,305.4 132.3,302.6 132.9,299.9 133.4,297.3 134.0,294.5 134.6,292.3 135.1,291.2 135.7,290.9 136.3,290.6 136.8,290.5 137.4,290.4 138.0,290.7 138.5,291.6 139.1,292.7 139.7,293.9 140.2,295.4 140.8,297.4 141.4,299.6 141.9,301.8 142.5,304.1 143.0,306.6 143.6,308.9 144.2,311.0 144.7,312.7 145.3,314.2 145.9,315.6 146.4,317.0 147.0,318.6 147.6,320.2 148.1,321.5 148.7,322.4 149.3,322.8 149.8,323.1 150.4,323.3 151.0,323.5 151.5,323.7 152.1,323.9 152.7,324.1 153.2,324.3 153.8,324.5 154.4,324.7 154.9,324.9 155.5,325.0 156.1,325.0 156.6,325.0 157.2,325.0 157.8,325.0 158.3,325.0 158.9,325.0 159.5,325.0 160.0,325.0 160.6,324.9 161.2,324.8 161.7,324.5 162.3,324.3 162.9,324.0 163.4,323.8 164.0,323.5 164.6,323.2 165.1,322.9 165.7,322.6 166.3,322.3 166.8,322.0 167.4,321.7 168.0,321.4 168.5,321.1 169.1,320.8 169.7,320.5 170.2,320.2 170.8,320.0 171.4,319.7 171.9,319.4 172.5,319.2 173.1,318.9 173.6,318.6 174.2,318.4 174.8,318.2 175.3,318.0 175.9,317.8 176.5,317.7 177.0,317.5 177.6,317.4 178.2,317.3 178.7,317.2 179.3,317.1 179.9,317.1 180.4,317.0 181.0,317.1 181.6,317.1 182.1,317.2 182.7,317.3 183.3,317.5 183.8,317.6 184.4,317.8 185.0,318.0 185.5,318.1 186.1,318.3 186.7,318.5 187.2,318.7 187.8,318.9 188.4,319.1 188.9,319.4 189.5,319.6 190.1,319.9 190.6,320.1 191.2,320.4 191.8,320.7 192.3,321.0 192.9,321.3 193.5,321.7 194.0,322.0 194.6,322.3 195.2,322.7 195.7,323.2 196.3,323.7 196.9,324.2 197.4,324.7 198.0,325.2 198.6,325.7 199.1,326.1 199.7,326.6 200.3,327.0 200.8,327.4 201.4,327.8 202.0,328.1 202.5,328.5 203.1,328.8 203.7,329.1 204.2,329.5 204.8,329.8 205.4,330.1 205.9,330.4 206.5,330.8 207.0,331.1 207.6,331.5 208.2,331.9 208.7,332.2 209.3,332.6 209.9,333.1 210.4,333.5 211.0,334.0 211.6,334.4 212.1,334.9 212.7,335.3 213.3,335.8 213.8,336.3 214.4,336.8 215.0,337.3 215.5,337.8 216.1,338.2 216.7,338.7 217.2,339.2 217.8,339.6 218.4,340.1 218.9,340.6 219.5,341.1 220.1,341.5 220.6,342.0 221.2,342.5 221.8,342.9 222.3,343.4 222.9,343.8 223.5,344.2 224.0,344.6 224.6,344.9 225.2,345.3 225.7,345.7 226.3,346.0 226.9,346.4 227.4,346.7 228.0,347.0 228.6,347.4 229.1,347.7 229.7,348.0 230.3,348.3 230.8,348.6 231.4,348.9 232.0,349.2 232.5,349.5 233.1,349.8 233.7,350.1 234.2,350.4 234.8,350.6 235.4,350.9 235.9,351.2 236.5,351.5 237.1,351.7 237.6,352.0 238.2,352.2 238.8,352.5 239.3,352.7 239.9,352.9 240.5,353.1 241.0,353.3 241.6,353.5 242.2,353.7 242.7,353.8 243.3,354.0 243.9,354.2 244.4,354.3 245.0,354.4 245.6,354.6 246.1,354.7 246.7,354.8 247.3,355.0 247.8,355.1 248.4,355.2 249.0,355.3 249.5,355.4 250.1,355.5 250.7,355.6 251.2,355.7 251.8,355.8 252.4,355.9 252.9,356.0 253.5,356.1 254.1,356.2 254.6,356.3 255.2,356.3 255.8,356.4 256.3,356.5 256.9,356.5 257.5,356.6 258.0,356.7 258.6,356.7 259.2,356.8 259.7,356.9 260.3,357.0 260.9,357.0 261.4,357.1 262.0,357.2 262.6,357.3 263.1,357.4 263.7,357.5 264.3,357.6 264.8,357.6 265.4,357.7 266.0,357.8 266.5,357.9 267.1,358.0 267.7,358.1 268.2,358.2 268.8,358.3 269.4,358.4 269.9,358.4 270.5,358.5 271.0,358.6 271.6,358.7 272.2,358.7 272.7,358.8 273.3,358.8 273.9,358.9 274.4,358.9 275.0,359.0 275.6,359.1 276.1,359.1 276.7,359.2 277.3,359.2 277.8,359.3 278.4,359.3 279.0,359.4 279.5,359.4 280.1,359.4 280.7,359.5 281.2,359.5 281.8,359.6 282.4,359.6 282.9,359.7 283.5,359.7 284.1,359.8 284.6,359.8 285.2,359.8 285.8,359.9 286.3,359.9 286.9,359.9 287.5,360.0 288.0,360.0 288.6,360.0 289.2,360.1 289.7,360.1 290.3,360.1 290.9,360.2 291.4,360.2 292.0,360.2 292.6,360.2 293.1,360.3 293.7,360.3 294.3,360.3 294.8,360.3 295.4,360.3 296.0,360.4 296.5,360.4 297.1,360.4 297.7,360.4 298.2,360.4 298.8,360.4 299.4,360.4 299.9,360.5 300.5,360.5 301.1,360.5 301.6,360.5 302.2,360.5 302.8,360.5 303.3,360.5 303.9,360.6 304.5,360.6 305.0,360.6 305.6,360.6 306.2,360.6 306.7,360.6 307.3,360.6 307.9,360.6 308.4,360.6 309.0,360.7 309.6,360.7 310.1,360.7 310.7,360.7 311.3,360.7 311.8,360.7 312.4,360.7 313.0,360.7 313.5,360.7 314.1,360.7 314.7,360.7 315.2,360.7 315.8,360.7 316.4,360.7 316.9,360.7 317.5,360.7 318.1,360.7 318.6,360.7 319.2,360.7 319.8,360.7 320.3,360.7 320.9,360.7 321.5,360.7 322.0,360.7 322.6,360.7 323.2,360.7 323.7,360.7 324.3,360.7 324.9,360.7 325.4,360.7 326.0,360.7 326.6,360.7 327.1,360.7 327.7,360.7 328.3,360.7 328.8,360.7 329.4,360.7 330.0,360.7 330.5,360.7 331.1,360.7 331.7,360.7 332.2,360.7 332.8,360.7 333.4,360.7 333.9,360.7 334.5,360.7 335.1,360.7 335.6,360.7 336.2,360.7 336.7,360.7 337.3,360.7 337.9,360.7 338.4,360.7 339.0,360.7 339.6,360.7 340.1,360.7 340.7,360.7 341.3,360.7 341.8,360.7 342.4,360.7" stroke-width="0.9"/><g fill="#fff" stroke-width="0.95"><circle cx="44.5" cy="357.5" r="1.05"/><circle cx="46.8" cy="356.9" r="1.05"/><circle cx="49.0" cy="356.4" r="1.05"/><circle cx="51.3" cy="355.9" r="1.05"/><circle cx="53.6" cy="355.5" r="1.05"/><circle cx="55.8" cy="355.0" r="1.05"/><circle cx="58.1" cy="354.6" r="1.05"/><circle cx="60.4" cy="354.2" r="1.05"/><circle cx="62.6" cy="354.0" r="1.05"/><circle cx="64.9" cy="353.8" r="1.05"/><circle cx="67.2" cy="353.6" r="1.05"/><circle cx="69.4" cy="353.5" r="1.05"/><circle cx="71.7" cy="353.3" r="1.05"/><circle cx="74.0" cy="353.1" r="1.05"/><circle cx="76.2" cy="352.9" r="1.05"/><circle cx="78.5" cy="352.6" r="1.05"/><circle cx="80.7" cy="352.3" r="1.05"/><circle cx="83.0" cy="352.0" r="1.05"/><circle cx="85.3" cy="351.7" r="1.05"/><circle cx="87.5" cy="351.3" r="1.05"/><circle cx="89.8" cy="350.8" r="1.05"/><circle cx="92.1" cy="350.3" r="1.05"/><circle cx="94.3" cy="349.8" r="1.05"/><circle cx="96.6" cy="349.2" r="1.05"/><circle cx="98.9" cy="348.6" r="1.05"/><circle cx="101.1" cy="348.0" r="1.05"/><circle cx="103.4" cy="347.4" r="1.05"/><circle cx="105.7" cy="346.6" r="1.05"/><circle cx="107.9" cy="345.5" r="1.05"/><circle cx="110.2" cy="344.2" r="1.05"/><circle cx="112.5" cy="342.5" r="1.05"/><circle cx="114.7" cy="340.3" r="1.05"/><circle cx="117.0" cy="337.6" r="1.05"/><circle cx="119.3" cy="334.4" r="1.05"/><circle cx="121.5" cy="331.1" r="1.05"/><circle cx="123.8" cy="327.7" r="1.05"/><circle cx="126.1" cy="323.9" r="1.05"/><circle cx="128.3" cy="319.7" r="1.05"/><circle cx="130.6" cy="311.0" r="1.05"/><circle cx="132.9" cy="299.9" r="1.05"/><circle cx="135.1" cy="291.2" r="1.05"/><circle cx="137.4" cy="290.4" r="1.05"/><circle cx="139.7" cy="293.9" r="1.05"/><circle cx="141.9" cy="301.8" r="1.05"/><circle cx="144.2" cy="311.0" r="1.05"/><circle cx="146.4" cy="317.0" r="1.05"/><circle cx="148.7" cy="322.4" r="1.05"/><circle cx="151.0" cy="323.5" r="1.05"/><circle cx="153.2" cy="324.3" r="1.05"/><circle cx="155.5" cy="325.0" r="1.05"/><circle cx="157.8" cy="325.0" r="1.05"/><circle cx="160.0" cy="325.0" r="1.05"/><circle cx="162.3" cy="324.3" r="1.05"/><circle cx="164.6" cy="323.2" r="1.05"/><circle cx="166.8" cy="322.0" r="1.05"/><circle cx="169.1" cy="320.8" r="1.05"/><circle cx="171.4" cy="319.7" r="1.05"/><circle cx="173.6" cy="318.6" r="1.05"/><circle cx="175.9" cy="317.8" r="1.05"/><circle cx="178.2" cy="317.3" r="1.05"/><circle cx="180.4" cy="317.0" r="1.05"/><circle cx="182.7" cy="317.3" r="1.05"/><circle cx="185.0" cy="318.0" r="1.05"/><circle cx="187.2" cy="318.7" r="1.05"/><circle cx="189.5" cy="319.6" r="1.05"/><circle cx="191.8" cy="320.7" r="1.05"/><circle cx="194.0" cy="322.0" r="1.05"/><circle cx="196.3" cy="323.7" r="1.05"/><circle cx="198.6" cy="325.7" r="1.05"/><circle cx="200.8" cy="327.4" r="1.05"/><circle cx="203.1" cy="328.8" r="1.05"/><circle cx="205.4" cy="330.1" r="1.05"/><circle cx="207.6" cy="331.5" r="1.05"/><circle cx="209.9" cy="333.1" r="1.05"/><circle cx="212.1" cy="334.9" r="1.05"/><circle cx="214.4" cy="336.8" r="1.05"/><circle cx="216.7" cy="338.7" r="1.05"/><circle cx="218.9" cy="340.6" r="1.05"/><circle cx="221.2" cy="342.5" r="1.05"/><circle cx="223.5" cy="344.2" r="1.05"/><circle cx="225.7" cy="345.7" r="1.05"/><circle cx="228.0" cy="347.0" r="1.05"/><circle cx="230.3" cy="348.3" r="1.05"/><circle cx="232.5" cy="349.5" r="1.05"/><circle cx="234.8" cy="350.6" r="1.05"/><circle cx="237.1" cy="351.7" r="1.05"/><circle cx="239.3" cy="352.7" r="1.05"/><circle cx="241.6" cy="353.5" r="1.05"/><circle cx="243.9" cy="354.2" r="1.05"/><circle cx="246.1" cy="354.7" r="1.05"/><circle cx="248.4" cy="355.2" r="1.05"/><circle cx="250.7" cy="355.6" r="1.05"/><circle cx="252.9" cy="356.0" r="1.05"/><circle cx="255.2" cy="356.3" r="1.05"/><circle cx="257.5" cy="356.6" r="1.05"/><circle cx="259.7" cy="356.9" r="1.05"/><circle cx="262.0" cy="357.2" r="1.05"/><circle cx="264.3" cy="357.6" r="1.05"/><circle cx="266.5" cy="357.9" r="1.05"/><circle cx="268.8" cy="358.3" r="1.05"/><circle cx="271.0" cy="358.6" r="1.05"/><circle cx="273.3" cy="358.8" r="1.05"/><circle cx="275.6" cy="359.1" r="1.05"/><circle cx="277.8" cy="359.3" r="1.05"/><circle cx="280.1" cy="359.4" r="1.05"/><circle cx="282.4" cy="359.6" r="1.05"/><circle cx="284.6" cy="359.8" r="1.05"/><circle cx="286.9" cy="359.9" r="1.05"/><circle cx="289.2" cy="360.1" r="1.05"/><circle cx="291.4" cy="360.2" r="1.05"/><circle cx="293.7" cy="360.3" r="1.05"/><circle cx="296.0" cy="360.4" r="1.05"/><circle cx="298.2" cy="360.4" r="1.05"/><circle cx="300.5" cy="360.5" r="1.05"/><circle cx="302.8" cy="360.5" r="1.05"/><circle cx="305.0" cy="360.6" r="1.05"/><circle cx="307.3" cy="360.6" r="1.05"/><circle cx="309.6" cy="360.7" r="1.05"/><circle cx="311.8" cy="360.7" r="1.05"/><circle cx="314.1" cy="360.7" r="1.05"/><circle cx="316.4" cy="360.7" r="1.05"/><circle cx="318.6" cy="360.7" r="1.05"/><circle cx="320.9" cy="360.7" r="1.05"/><circle cx="323.2" cy="360.7" r="1.05"/><circle cx="325.4" cy="360.7" r="1.05"/><circle cx="327.7" cy="360.7" r="1.05"/><circle cx="330.0" cy="360.7" r="1.05"/><circle cx="332.2" cy="360.7" r="1.05"/><circle cx="334.5" cy="360.7" r="1.05"/><circle cx="336.7" cy="360.7" r="1.05"/><circle cx="339.0" cy="360.7" r="1.05"/><circle cx="341.3" cy="360.7" r="1.05"/></g></g>
<rect x="226.3" y="0.0" width="114.89999999999998" height="79.4" fill="#fff"/>
<g stroke="#ff1a1a" fill="none" clip-path="url(#cia)"><polyline points="221.7,167.1 222.5,164.8 223.2,162.5 224.0,160.1 224.8,157.8 225.5,155.5 226.3,153.2 227.1,151.0 227.8,148.7 228.6,146.5 229.4,144.3 230.1,142.1 230.9,140.0 231.7,137.9 232.4,135.8 233.2,133.7 234.0,131.6 234.7,129.6 235.5,127.6 236.3,125.6 237.0,123.6 237.8,121.6 238.6,119.7 239.3,117.8 240.1,115.8 240.9,114.0 241.6,112.1 242.4,110.3 243.2,108.5 243.9,106.7 244.7,104.9 245.5,103.2 246.2,101.6 247.0,99.9 247.7,98.3 248.5,96.7 249.3,95.1 250.0,93.6 250.8,92.1 251.6,90.6 252.3,89.1 253.1,87.6 253.9,86.1 254.6,84.6 255.4,83.2 256.2,81.7 256.9,80.3 257.7,79.0 258.5,77.7 259.2,76.4 260.0,75.3 260.8,74.1 261.5,73.1 262.3,72.0 263.1,71.0 263.8,70.0 264.6,69.1 265.4,68.1 266.1,67.3 266.9,66.4 267.7,65.6 268.4,64.8 269.2,64.0 270.0,63.3 270.7,62.6 271.5,61.9 272.3,61.2 273.0,60.5 273.8,59.9 274.6,59.3 275.3,58.7 276.1,58.1 276.9,57.5 277.6,56.8 278.4,56.2 279.2,55.6 279.9,55.1 280.7,54.5 281.5,54.1 282.2,53.7 283.0,53.4 283.8,53.2 284.5,53.0 285.3,52.8 286.0,52.6 286.8,52.4 287.6,52.2 288.3,52.1 289.1,52.0 289.9,51.9 290.6,51.9 291.4,51.9 292.2,51.9 292.9,51.9 293.7,51.9 294.5,51.9 295.2,51.9 296.0,51.9 296.8,51.9 297.5,51.9 298.3,51.9 299.1,52.0 299.8,52.1 300.6,52.4 301.4,52.7 302.1,53.0 302.9,53.4 303.7,53.8 304.4,54.2 305.2,54.6 306.0,54.9 306.7,55.2 307.5,55.4 308.3,55.7 309.0,55.9 309.8,56.2 310.6,56.5 311.3,56.7 312.1,57.0 312.9,57.4 313.6,57.7 314.4,58.1 315.2,58.6 315.9,59.1 316.7,59.7 317.5,60.3 318.2,60.9 319.0,61.6 319.8,62.2 320.5,62.8 321.3,63.4 322.1,63.9 322.8,64.5 323.6,65.0 324.3,65.6 325.1,66.1 325.9,66.7 326.6,67.2 327.4,67.8 328.2,68.4 328.9,69.0 329.7,69.7 330.5,70.4 331.2,71.1 332.0,71.9 332.8,72.7 333.5,73.5 334.3,74.2 335.1,75.0 335.8,75.8 336.6,76.6 337.4,77.4 338.1,78.2 338.9,78.9 339.7,79.7 340.4,80.4 341.2,81.2 342.0,81.9 342.7,82.7 343.5,83.4 344.3,84.2 345.0,85.0 345.8,85.8 346.6,86.6 347.3,87.4 348.1,88.3" stroke-width="0.7"/><g fill="#fff" stroke-width="0.75"><circle cx="221.7" cy="167.1" r="1.35"/><circle cx="229.4" cy="144.3" r="1.35"/><circle cx="237.0" cy="123.6" r="1.35"/><circle cx="244.7" cy="104.9" r="1.35"/><circle cx="252.3" cy="89.1" r="1.35"/><circle cx="260.0" cy="75.3" r="1.35"/><circle cx="267.7" cy="65.6" r="1.35"/><circle cx="275.3" cy="58.7" r="1.35"/><circle cx="283.0" cy="53.4" r="1.35"/><circle cx="290.6" cy="51.9" r="1.35"/><circle cx="298.3" cy="51.9" r="1.35"/><circle cx="306.0" cy="54.9" r="1.35"/><circle cx="313.6" cy="57.7" r="1.35"/><circle cx="321.3" cy="63.4" r="1.35"/><circle cx="328.9" cy="69.0" r="1.35"/><circle cx="336.6" cy="76.6" r="1.35"/><circle cx="344.3" cy="84.2" r="1.35"/></g></g>
<g stroke="#1a901a" fill="none" clip-path="url(#cia)"><polyline points="221.7,151.0 222.5,148.5 223.2,146.0 224.0,143.6 224.8,141.2 225.5,138.8 226.3,136.5 227.1,134.2 227.8,132.0 228.6,129.8 229.4,127.7 230.1,125.6 230.9,123.5 231.7,121.5 232.4,119.4 233.2,117.4 234.0,115.4 234.7,113.5 235.5,111.6 236.3,109.7 237.0,107.8 237.8,106.0 238.6,104.2 239.3,102.4 240.1,100.7 240.9,98.9 241.6,97.2 242.4,95.5 243.2,93.9 243.9,92.3 244.7,90.7 245.5,89.1 246.2,87.6 247.0,86.1 247.7,84.6 248.5,83.1 249.3,81.7 250.0,80.3 250.8,78.9 251.6,77.5 252.3,76.2 253.1,74.8 253.9,73.5 254.6,72.1 255.4,70.8 256.2,69.5 256.9,68.2 257.7,66.9 258.5,65.8 259.2,64.6 260.0,63.6 260.8,62.6 261.5,61.7 262.3,60.7 263.1,59.9 263.8,59.0 264.6,58.2 265.4,57.4 266.1,56.6 266.9,55.9 267.7,55.2 268.4,54.5 269.2,53.8 270.0,53.1 270.7,52.5 271.5,51.9 272.3,51.2 273.0,50.7 273.8,50.1 274.6,49.6 275.3,49.1 276.1,48.6 276.9,48.1 277.6,47.6 278.4,47.1 279.2,46.6 279.9,46.1 280.7,45.7 281.5,45.4 282.2,45.1 283.0,44.8 283.8,44.6 284.5,44.5 285.3,44.3 286.0,44.2 286.8,44.0 287.6,43.9 288.3,43.9 289.1,43.8 289.9,43.8 290.6,43.8 291.4,43.8 292.2,43.9 292.9,43.9 293.7,44.0 294.5,44.0 295.2,44.1 296.0,44.2 296.8,44.2 297.5,44.3 298.3,44.4 299.1,44.5 299.8,44.7 300.6,45.0 301.4,45.3 302.1,45.7 302.9,46.0 303.7,46.4 304.4,46.8 305.2,47.2 306.0,47.6 306.7,47.9 307.5,48.2 308.3,48.5 309.0,48.8 309.8,49.1 310.6,49.4 311.3,49.7 312.1,50.0 312.9,50.4 313.6,50.8 314.4,51.3 315.2,51.8 315.9,52.4 316.7,53.0 317.5,53.6 318.2,54.2 319.0,54.9 319.8,55.5 320.5,56.2 321.3,56.8 322.1,57.4 322.8,57.9 323.6,58.5 324.3,59.0 325.1,59.6 325.9,60.1 326.6,60.7 327.4,61.3 328.2,61.9 328.9,62.6 329.7,63.3 330.5,64.0 331.2,64.7 332.0,65.5 332.8,66.3 333.5,67.1 334.3,68.0 335.1,68.8 335.8,69.6 336.6,70.4 337.4,71.2 338.1,72.0 338.9,72.8 339.7,73.6 340.4,74.3 341.2,75.1 342.0,75.9 342.7,76.6 343.5,77.4 344.3,78.2 345.0,79.0 345.8,79.8 346.6,80.7 347.3,81.5 348.1,82.4" stroke-width="0.7"/><g fill="#fff" stroke-width="0.75"><path d="M221.7 149.34L223.26 152.04L220.15 152.04Z"/><path d="M229.4 126.07L230.92 128.77L227.81 128.77Z"/><path d="M237.0 106.19L238.58 108.89L235.47 108.89Z"/><path d="M244.7 89.06L246.24 91.76L243.13 91.76Z"/><path d="M252.3 74.55L253.90 77.25L250.79 77.25Z"/><path d="M260.0 61.98L261.56 64.68L258.45 64.68Z"/><path d="M267.7 53.55L269.22 56.25L266.11 56.25Z"/><path d="M275.3 47.46L276.88 50.16L273.77 50.16Z"/><path d="M283.0 43.21L284.54 45.91L281.43 45.91Z"/><path d="M290.6 42.18L292.20 44.88L289.09 44.88Z"/><path d="M298.3 42.76L299.86 45.46L296.75 45.46Z"/><path d="M306.0 45.94L307.52 48.64L304.41 48.64Z"/><path d="M313.6 49.20L315.18 51.90L312.07 51.90Z"/><path d="M321.3 55.16L322.84 57.86L319.73 57.86Z"/><path d="M328.9 60.96L330.50 63.66L327.39 63.66Z"/><path d="M336.6 68.82L338.16 71.52L335.05 71.52Z"/><path d="M344.3 76.59L345.82 79.29L342.71 79.29Z"/></g></g>
<g stroke="#1818f0" fill="none" clip-path="url(#cia)"><polyline points="221.7,135.6 222.5,133.0 223.2,130.4 224.0,127.9 224.8,125.4 225.5,123.0 226.3,120.6 227.1,118.3 227.8,116.1 228.6,114.0 229.4,111.9 230.1,109.9 230.9,107.8 231.7,105.9 232.4,103.9 233.2,102.0 234.0,100.1 234.7,98.2 235.5,96.4 236.3,94.6 237.0,92.8 237.8,91.1 238.6,89.5 239.3,87.8 240.1,86.2 240.9,84.6 241.6,83.1 242.4,81.5 243.2,80.0 243.9,78.6 244.7,77.1 245.5,75.7 246.2,74.3 247.0,72.9 247.7,71.6 248.5,70.3 249.3,69.0 250.0,67.7 250.8,66.4 251.6,65.2 252.3,63.9 253.1,62.7 253.9,61.5 254.6,60.2 255.4,59.0 256.2,57.8 256.9,56.6 257.7,55.5 258.5,54.4 259.2,53.4 260.0,52.5 260.8,51.7 261.5,50.8 262.3,50.0 263.1,49.3 263.8,48.6 264.6,47.9 265.4,47.2 266.1,46.5 266.9,45.9 267.7,45.3 268.4,44.7 269.2,44.1 270.0,43.5 270.7,42.9 271.5,42.3 272.3,41.8 273.0,41.3 273.8,40.8 274.6,40.4 275.3,40.0 276.1,39.6 276.9,39.2 277.6,38.8 278.4,38.4 279.2,38.0 279.9,37.6 280.7,37.3 281.5,37.0 282.2,36.8 283.0,36.6 283.8,36.5 284.5,36.4 285.3,36.3 286.0,36.2 286.8,36.1 287.6,36.1 288.3,36.0 289.1,36.0 289.9,36.0 290.6,36.1 291.4,36.2 292.2,36.2 292.9,36.3 293.7,36.4 294.5,36.6 295.2,36.7 296.0,36.8 296.8,36.9 297.5,37.1 298.3,37.2 299.1,37.4 299.8,37.6 300.6,37.9 301.4,38.3 302.1,38.6 302.9,39.0 303.7,39.4 304.4,39.8 305.2,40.2 306.0,40.6 306.7,41.0 307.5,41.3 308.3,41.6 309.0,42.0 309.8,42.3 310.6,42.7 311.3,43.0 312.1,43.4 312.9,43.8 313.6,44.3 314.4,44.8 315.2,45.3 315.9,45.9 316.7,46.5 317.5,47.2 318.2,47.9 319.0,48.6 319.8,49.2 320.5,49.9 321.3,50.5 322.1,51.1 322.8,51.7 323.6,52.3 324.3,52.8 325.1,53.4 325.9,54.0 326.6,54.5 327.4,55.1 328.2,55.8 328.9,56.4 329.7,57.2 330.5,57.9 331.2,58.7 332.0,59.5 332.8,60.3 333.5,61.2 334.3,62.0 335.1,62.9 335.8,63.7 336.6,64.5 337.4,65.4 338.1,66.2 338.9,67.0 339.7,67.8 340.4,68.6 341.2,69.3 342.0,70.1 342.7,70.9 343.5,71.7 344.3,72.5 345.0,73.3 345.8,74.2 346.6,75.0 347.3,75.9 348.1,76.8" stroke-width="0.7"/><g fill="#fff" stroke-width="0.75"><path d="M220.08 135.6L222.78 134.09L222.78 137.19Z"/><path d="M227.74 111.9L230.44 110.35L230.44 113.45Z"/><path d="M235.40 92.8L238.10 91.27L238.10 94.38Z"/><path d="M243.06 77.1L245.76 75.58L245.76 78.68Z"/><path d="M250.72 63.9L253.42 62.37L253.42 65.47Z"/><path d="M258.38 52.5L261.08 50.97L261.08 54.07Z"/><path d="M266.04 45.3L268.74 43.71L268.74 46.81Z"/><path d="M273.70 40.0L276.40 38.41L276.40 41.52Z"/><path d="M281.36 36.6L284.06 35.09L284.06 38.19Z"/><path d="M289.02 36.1L291.72 34.53L291.72 37.64Z"/><path d="M296.68 37.2L299.38 35.66L299.38 38.76Z"/><path d="M304.34 40.6L307.04 39.05L307.04 42.16Z"/><path d="M312.00 44.3L314.70 42.71L314.70 45.82Z"/><path d="M319.66 50.5L322.36 48.96L322.36 52.07Z"/><path d="M327.32 56.4L330.02 54.89L330.02 58.00Z"/><path d="M334.98 64.5L337.68 63.00L337.68 66.10Z"/><path d="M342.64 72.5L345.34 70.97L345.34 74.08Z"/></g></g>
<g stroke="#ff2090" fill="none" clip-path="url(#cia)"><polyline points="221.7,121.8 222.5,119.0 223.2,116.3 224.0,113.7 224.8,111.1 225.5,108.6 226.3,106.3 227.1,104.0 227.8,101.8 228.6,99.7 229.4,97.6 230.1,95.6 230.9,93.7 231.7,91.8 232.4,89.9 233.2,88.0 234.0,86.2 234.7,84.4 235.5,82.6 236.3,80.9 237.0,79.3 237.8,77.7 238.6,76.2 239.3,74.6 240.1,73.2 240.9,71.7 241.6,70.3 242.4,68.9 243.2,67.5 243.9,66.2 244.7,64.9 245.5,63.6 246.2,62.3 247.0,61.1 247.7,59.8 248.5,58.6 249.3,57.4 250.0,56.3 250.8,55.1 251.6,54.0 252.3,52.9 253.1,51.7 253.9,50.6 254.6,49.5 255.4,48.4 256.2,47.3 256.9,46.2 257.7,45.2 258.5,44.2 259.2,43.3 260.0,42.5 260.8,41.8 261.5,41.1 262.3,40.4 263.1,39.7 263.8,39.1 264.6,38.5 265.4,37.9 266.1,37.4 266.9,36.8 267.7,36.3 268.4,35.8 269.2,35.3 270.0,34.7 270.7,34.2 271.5,33.7 272.3,33.3 273.0,32.8 273.8,32.4 274.6,32.0 275.3,31.7 276.1,31.4 276.9,31.1 277.6,30.8 278.4,30.5 279.2,30.2 279.9,30.0 280.7,29.8 281.5,29.5 282.2,29.4 283.0,29.2 283.8,29.2 284.5,29.1 285.3,29.0 286.0,29.0 286.8,29.0 287.6,28.9 288.3,29.0 289.1,29.0 289.9,29.0 290.6,29.1 291.4,29.2 292.2,29.3 292.9,29.5 293.7,29.6 294.5,29.8 295.2,30.0 296.0,30.2 296.8,30.3 297.5,30.5 298.3,30.7 299.1,31.0 299.8,31.2 300.6,31.5 301.4,31.9 302.1,32.3 302.9,32.7 303.7,33.1 304.4,33.5 305.2,33.9 306.0,34.3 306.7,34.7 307.5,35.1 308.3,35.4 309.0,35.8 309.8,36.2 310.6,36.6 311.3,37.0 312.1,37.4 312.9,37.9 313.6,38.3 314.4,38.9 315.2,39.5 315.9,40.1 316.7,40.7 317.5,41.4 318.2,42.1 319.0,42.8 319.8,43.5 320.5,44.2 321.3,44.9 322.1,45.5 322.8,46.1 323.6,46.6 324.3,47.2 325.1,47.8 325.9,48.4 326.6,49.0 327.4,49.6 328.2,50.2 328.9,50.9 329.7,51.6 330.5,52.4 331.2,53.2 332.0,54.0 332.8,54.9 333.5,55.7 334.3,56.6 335.1,57.5 335.8,58.4 336.6,59.2 337.4,60.1 338.1,60.9 338.9,61.7 339.7,62.5 340.4,63.3 341.2,64.1 342.0,64.9 342.7,65.8 343.5,66.6 344.3,67.4 345.0,68.2 345.8,69.1 346.6,69.9 347.3,70.8 348.1,71.7" stroke-width="0.7"/><g fill="#fff" stroke-width="0.75"><circle cx="221.7" cy="121.8" r="1.35"/><circle cx="229.4" cy="97.6" r="1.35"/><circle cx="237.0" cy="79.3" r="1.35"/><circle cx="244.7" cy="64.9" r="1.35"/><circle cx="252.3" cy="52.9" r="1.35"/><circle cx="260.0" cy="42.5" r="1.35"/><circle cx="267.7" cy="36.3" r="1.35"/><circle cx="275.3" cy="31.7" r="1.35"/><circle cx="283.0" cy="29.2" r="1.35"/><circle cx="290.6" cy="29.1" r="1.35"/><circle cx="298.3" cy="30.7" r="1.35"/><circle cx="306.0" cy="34.3" r="1.35"/><circle cx="313.6" cy="38.3" r="1.35"/><circle cx="321.3" cy="44.9" r="1.35"/><circle cx="328.9" cy="50.9" r="1.35"/><circle cx="336.6" cy="59.2" r="1.35"/><circle cx="344.3" cy="67.4" r="1.35"/></g></g>
<g stroke="#10d8f0" fill="none" clip-path="url(#cia)"><polyline points="221.7,102.8 222.5,99.9 223.2,97.0 224.0,94.2 224.8,91.6 225.5,89.0 226.3,86.6 227.1,84.3 227.8,82.2 228.6,80.1 229.4,78.1 230.1,76.2 230.9,74.3 231.7,72.5 232.4,70.7 233.2,68.9 234.0,67.1 234.7,65.4 235.5,63.8 236.3,62.2 237.0,60.8 237.8,59.3 238.6,57.9 239.3,56.6 240.1,55.3 240.9,54.1 241.6,52.8 242.4,51.6 243.2,50.4 243.9,49.3 244.7,48.1 245.5,47.0 246.2,45.9 247.0,44.8 247.7,43.7 248.5,42.7 249.3,41.7 250.0,40.6 250.8,39.6 251.6,38.7 252.3,37.7 253.1,36.7 253.9,35.7 254.6,34.8 255.4,33.8 256.2,32.8 256.9,31.9 257.7,31.0 258.5,30.2 259.2,29.5 260.0,28.8 260.8,28.2 261.5,27.7 262.3,27.1 263.1,26.7 263.8,26.2 264.6,25.7 265.4,25.3 266.1,24.9 266.9,24.5 267.7,24.1 268.4,23.6 269.2,23.2 270.0,22.8 270.7,22.4 271.5,21.9 272.3,21.6 273.0,21.2 273.8,20.9 274.6,20.6 275.3,20.4 276.1,20.3 276.9,20.1 277.6,19.9 278.4,19.8 279.2,19.6 279.9,19.5 280.7,19.4 281.5,19.3 282.2,19.2 283.0,19.1 283.8,19.1 284.5,19.1 285.3,19.1 286.0,19.1 286.8,19.1 287.6,19.2 288.3,19.3 289.1,19.4 289.9,19.5 290.6,19.6 291.4,19.7 292.2,19.9 292.9,20.1 293.7,20.3 294.5,20.5 295.2,20.8 296.0,21.1 296.8,21.3 297.5,21.6 298.3,21.9 299.1,22.2 299.8,22.5 300.6,22.8 301.4,23.2 302.1,23.6 302.9,24.0 303.7,24.4 304.4,24.9 305.2,25.3 306.0,25.7 306.7,26.1 307.5,26.5 308.3,27.0 309.0,27.4 309.8,27.8 310.6,28.3 311.3,28.7 312.1,29.2 312.9,29.7 313.6,30.2 314.4,30.8 315.2,31.4 315.9,32.1 316.7,32.8 317.5,33.5 318.2,34.3 319.0,35.0 319.8,35.7 320.5,36.4 321.3,37.1 322.1,37.7 322.8,38.3 323.6,38.9 324.3,39.5 325.1,40.1 325.9,40.7 326.6,41.3 327.4,41.9 328.2,42.6 328.9,43.3 329.7,44.1 330.5,44.9 331.2,45.7 332.0,46.5 332.8,47.4 333.5,48.3 334.3,49.2 335.1,50.2 335.8,51.1 336.6,51.9 337.4,52.8 338.1,53.7 338.9,54.5 339.7,55.3 340.4,56.2 341.2,57.0 342.0,57.8 342.7,58.7 343.5,59.5 344.3,60.4 345.0,61.2 345.8,62.1 346.6,63.0 347.3,63.8 348.1,64.8" stroke-width="0.7"/><g fill="#fff" stroke-width="0.75"><path d="M221.7 101.16L223.39 102.8L221.7 104.53L220.02 102.8Z"/><path d="M229.4 76.43L231.05 78.1L229.4 79.80L227.68 78.1Z"/><path d="M237.0 59.06L238.71 60.8L237.0 62.44L235.34 60.8Z"/><path d="M244.7 46.43L246.37 48.1L244.7 49.81L243.00 48.1Z"/><path d="M252.3 36.02L254.03 37.7L252.3 39.39L250.66 37.7Z"/><path d="M260.0 27.13L261.69 28.8L260.0 30.50L258.32 28.8Z"/><path d="M267.7 22.38L269.35 24.1L267.7 25.75L265.98 24.1Z"/><path d="M275.3 18.75L277.01 20.4L275.3 22.13L273.64 20.4Z"/><path d="M283.0 17.44L284.67 19.1L283.0 20.81L281.30 19.1Z"/><path d="M290.6 17.89L292.33 19.6L290.6 21.26L288.96 19.6Z"/><path d="M298.3 20.18L299.99 21.9L298.3 23.56L296.62 21.9Z"/><path d="M306.0 24.02L307.65 25.7L306.0 27.40L304.28 25.7Z"/><path d="M313.6 28.55L315.31 30.2L313.6 31.92L311.94 30.2Z"/><path d="M321.3 35.41L322.97 37.1L321.3 38.79L319.60 37.1Z"/><path d="M328.9 41.62L330.63 43.3L328.9 45.00L327.26 43.3Z"/><path d="M336.6 50.25L338.29 51.9L336.6 53.63L334.92 51.9Z"/><path d="M344.3 58.67L345.95 60.4L344.3 62.04L342.58 60.4Z"/></g></g>
<g stroke="#ff10ff" fill="none" clip-path="url(#cia)"><polyline points="221.7,94.8 222.5,91.8 223.2,88.8 224.0,86.0 224.8,83.2 225.5,80.7 226.3,78.2 227.1,76.0 227.8,73.8 228.6,71.8 229.4,69.8 230.1,67.9 230.9,66.1 231.7,64.3 232.4,62.5 233.2,60.7 234.0,59.0 234.7,57.4 235.5,55.8 236.3,54.3 237.0,52.9 237.8,51.5 238.6,50.2 239.3,48.9 240.1,47.7 240.9,46.5 241.6,45.4 242.4,44.3 243.2,43.1 243.9,42.1 244.7,41.0 245.5,39.9 246.2,38.9 247.0,37.9 247.7,36.9 248.5,35.9 249.3,34.9 250.0,34.0 250.8,33.1 251.6,32.2 252.3,31.3 253.1,30.4 253.9,29.4 254.6,28.5 255.4,27.6 256.2,26.7 256.9,25.8 257.7,25.0 258.5,24.3 259.2,23.6 260.0,23.0 260.8,22.5 261.5,22.0 262.3,21.5 263.1,21.1 263.8,20.7 264.6,20.3 265.4,19.9 266.1,19.6 266.9,19.2 267.7,18.9 268.4,18.5 269.2,18.1 270.0,17.7 270.7,17.3 271.5,16.9 272.3,16.6 273.0,16.3 273.8,16.0 274.6,15.8 275.3,15.6 276.1,15.5 276.9,15.4 277.6,15.3 278.4,15.2 279.2,15.1 279.9,15.0 280.7,15.0 281.5,14.9 282.2,14.9 283.0,14.8 283.8,14.8 284.5,14.8 285.3,14.8 286.0,14.9 286.8,15.0 287.6,15.1 288.3,15.2 289.1,15.3 289.9,15.4 290.6,15.5 291.4,15.7 292.2,15.9 292.9,16.1 293.7,16.3 294.5,16.6 295.2,16.9 296.0,17.2 296.8,17.5 297.5,17.8 298.3,18.1 299.1,18.4 299.8,18.8 300.6,19.1 301.4,19.5 302.1,19.9 302.9,20.3 303.7,20.8 304.4,21.2 305.2,21.6 306.0,22.0 306.7,22.5 307.5,22.9 308.3,23.3 309.0,23.8 309.8,24.3 310.6,24.7 311.3,25.2 312.1,25.7 312.9,26.2 313.6,26.8 314.4,27.4 315.2,28.0 315.9,28.7 316.7,29.4 317.5,30.2 318.2,30.9 319.0,31.7 319.8,32.4 320.5,33.1 321.3,33.8 322.1,34.4 322.8,35.1 323.6,35.7 324.3,36.3 325.1,36.9 325.9,37.5 326.6,38.1 327.4,38.7 328.2,39.4 328.9,40.1 329.7,40.8 330.5,41.6 331.2,42.5 332.0,43.4 332.8,44.3 333.5,45.2 334.3,46.1 335.1,47.0 335.8,47.9 336.6,48.8 337.4,49.7 338.1,50.6 338.9,51.4 339.7,52.3 340.4,53.1 341.2,54.0 342.0,54.8 342.7,55.7 343.5,56.5 344.3,57.4 345.0,58.2 345.8,59.1 346.6,60.0 347.3,60.9 348.1,61.8" stroke-width="0.7"/><g fill="#fff" stroke-width="0.75"><path d="M221.7 96.40L223.26 93.70L220.15 93.70Z"/><path d="M229.4 71.43L230.92 68.73L227.81 68.73Z"/><path d="M237.0 54.48L238.58 51.78L235.47 51.78Z"/><path d="M244.7 42.61L246.24 39.91L243.13 39.91Z"/><path d="M252.3 32.88L253.90 30.18L250.79 30.18Z"/><path d="M260.0 24.60L261.56 21.90L258.45 21.90Z"/><path d="M267.7 20.47L269.22 17.77L266.11 17.77Z"/><path d="M275.3 17.26L276.88 14.56L273.77 14.56Z"/><path d="M283.0 16.44L284.54 13.74L281.43 13.74Z"/><path d="M290.6 17.13L292.20 14.43L289.09 14.43Z"/><path d="M298.3 19.72L299.86 17.02L296.75 17.02Z"/><path d="M306.0 23.67L307.52 20.97L304.41 20.97Z"/><path d="M313.6 28.41L315.18 25.71L312.07 25.71Z"/><path d="M321.3 35.42L322.84 32.72L319.73 32.72Z"/><path d="M328.9 41.70L330.50 39.00L327.39 39.00Z"/><path d="M336.6 50.46L338.16 47.76L335.05 47.76Z"/><path d="M344.3 58.98L345.82 56.28L342.71 56.28Z"/></g></g>
<g stroke="#9a40ff" fill="none" clip-path="url(#cia)"><polyline points="221.7,112.0 222.5,109.1 223.2,106.3 224.0,103.6 224.8,101.0 225.5,98.5 226.3,96.1 227.1,93.8 227.8,91.6 228.6,89.6 229.4,87.5 230.1,85.6 230.9,83.7 231.7,81.8 232.4,79.9 233.2,78.1 234.0,76.3 234.7,74.6 235.5,72.9 236.3,71.2 237.0,69.7 237.8,68.2 238.6,66.7 239.3,65.3 240.1,63.9 240.9,62.6 241.6,61.3 242.4,60.0 243.2,58.7 243.9,57.4 244.7,56.2 245.5,55.0 246.2,53.8 247.0,52.6 247.7,51.5 248.5,50.4 249.3,49.3 250.0,48.2 250.8,47.1 251.6,46.1 252.3,45.0 253.1,44.0 253.9,42.9 254.6,41.9 255.4,40.8 256.2,39.8 256.9,38.8 257.7,37.9 258.5,37.0 259.2,36.2 260.0,35.4 260.8,34.8 261.5,34.1 262.3,33.5 263.1,33.0 263.8,32.4 264.6,31.9 265.4,31.4 266.1,30.9 266.9,30.4 267.7,30.0 268.4,29.5 269.2,29.0 270.0,28.5 270.7,28.1 271.5,27.6 272.3,27.2 273.0,26.8 273.8,26.4 274.6,26.1 275.3,25.9 276.1,25.7 276.9,25.4 277.6,25.2 278.4,25.0 279.2,24.8 279.9,24.6 280.7,24.4 281.5,24.2 282.2,24.1 283.0,24.0 283.8,23.9 284.5,23.9 285.3,23.9 286.0,23.9 286.8,23.9 287.6,23.9 288.3,23.9 289.1,24.0 289.9,24.1 290.6,24.2 291.4,24.3 292.2,24.4 292.9,24.6 293.7,24.8 294.5,25.0 295.2,25.2 296.0,25.4 296.8,25.7 297.5,25.9 298.3,26.1 299.1,26.4 299.8,26.7 300.6,27.0 301.4,27.4 302.1,27.8 302.9,28.2 303.7,28.6 304.4,29.0 305.2,29.5 306.0,29.9 306.7,30.3 307.5,30.6 308.3,31.0 309.0,31.4 309.8,31.9 310.6,32.3 311.3,32.7 312.1,33.2 312.9,33.6 313.6,34.1 314.4,34.7 315.2,35.3 315.9,36.0 316.7,36.6 317.5,37.3 318.2,38.1 319.0,38.8 319.8,39.5 320.5,40.2 321.3,40.8 322.1,41.5 322.8,42.1 323.6,42.7 324.3,43.2 325.1,43.8 325.9,44.4 326.6,45.0 327.4,45.6 328.2,46.3 328.9,47.0 329.7,47.7 330.5,48.5 331.2,49.3 332.0,50.2 332.8,51.0 333.5,51.9 334.3,52.8 335.1,53.7 335.8,54.6 336.6,55.5 337.4,56.3 338.1,57.2 338.9,58.0 339.7,58.8 340.4,59.6 341.2,60.4 342.0,61.3 342.7,62.1 343.5,62.9 344.3,63.7 345.0,64.6 345.8,65.4 346.6,66.3 347.3,67.2 348.1,68.1" stroke-width="0.7"/><g fill="#fff" stroke-width="0.75"><polygon points="223.05,111.98 222.38,113.15 221.03,113.15 220.35,111.98 221.03,110.82 222.38,110.82"/><polygon points="230.71,87.53 230.04,88.70 228.69,88.70 228.01,87.53 228.69,86.36 230.04,86.36"/><polygon points="238.37,69.69 237.70,70.86 236.35,70.86 235.67,69.69 236.35,68.52 237.70,68.52"/><polygon points="246.03,56.20 245.36,57.37 244.01,57.37 243.33,56.20 244.01,55.04 245.36,55.04"/><polygon points="253.69,45.01 253.02,46.18 251.67,46.18 250.99,45.01 251.67,43.84 253.02,43.84"/><polygon points="261.35,35.42 260.68,36.59 259.33,36.59 258.65,35.42 259.33,34.25 260.68,34.25"/><polygon points="269.01,29.97 268.34,31.14 266.99,31.14 266.31,29.97 266.99,28.80 268.34,28.80"/><polygon points="276.67,25.88 276.00,27.05 274.65,27.05 273.97,25.88 274.65,24.71 276.00,24.71"/><polygon points="284.33,24.01 283.66,25.18 282.31,25.18 281.63,24.01 282.31,22.84 283.66,22.84"/><polygon points="291.99,24.18 291.32,25.34 289.97,25.34 289.29,24.18 289.97,23.01 291.32,23.01"/><polygon points="299.65,26.14 298.98,27.31 297.63,27.31 296.95,26.14 297.63,24.97 298.98,24.97"/><polygon points="307.31,29.86 306.64,31.03 305.29,31.03 304.61,29.86 305.29,28.69 306.64,28.69"/><polygon points="314.97,34.15 314.30,35.32 312.95,35.32 312.27,34.15 312.95,32.98 314.30,32.98"/><polygon points="322.63,40.84 321.96,42.01 320.61,42.01 319.93,40.84 320.61,39.67 321.96,39.67"/><polygon points="330.29,46.97 329.62,48.14 328.27,48.14 327.59,46.97 328.27,45.80 329.62,45.80"/><polygon points="337.95,55.45 337.28,56.62 335.93,56.62 335.25,55.45 335.93,54.29 337.28,54.29"/><polygon points="345.61,63.75 344.94,64.91 343.59,64.91 342.91,63.75 343.59,62.58 344.94,62.58"/></g></g>
<g stroke="#3c3cb4" fill="none" clip-path="url(#cia)"><polyline points="221.7,85.9 222.5,82.8 223.2,79.8 224.0,76.9 224.8,74.1 225.5,71.5 226.3,69.0 227.1,66.8 227.8,64.6 228.6,62.6 229.4,60.7 230.1,58.8 230.9,57.0 231.7,55.2 232.4,53.5 233.2,51.8 234.0,50.1 234.7,48.5 235.5,47.0 236.3,45.5 237.0,44.2 237.8,42.9 238.6,41.7 239.3,40.5 240.1,39.4 240.9,38.3 241.6,37.2 242.4,36.2 243.2,35.1 243.9,34.1 244.7,33.1 245.5,32.2 246.2,31.2 247.0,30.3 247.7,29.3 248.5,28.4 249.3,27.6 250.0,26.7 250.8,25.8 251.6,25.0 252.3,24.2 253.1,23.3 253.9,22.5 254.6,21.6 255.4,20.8 256.2,19.9 256.9,19.1 257.7,18.4 258.5,17.7 259.2,17.1 260.0,16.6 260.8,16.1 261.5,15.7 262.3,15.3 263.1,15.0 263.8,14.6 264.6,14.3 265.4,14.0 266.1,13.7 266.9,13.4 267.7,13.1 268.4,12.8 269.2,12.5 270.0,12.1 270.7,11.8 271.5,11.4 272.3,11.1 273.0,10.8 273.8,10.6 274.6,10.4 275.3,10.4 276.1,10.3 276.9,10.3 277.6,10.2 278.4,10.2 279.2,10.2 279.9,10.1 280.7,10.1 281.5,10.1 282.2,10.1 283.0,10.1 283.8,10.1 284.5,10.1 285.3,10.2 286.0,10.3 286.8,10.4 287.6,10.5 288.3,10.6 289.1,10.8 289.9,10.9 290.6,11.0 291.4,11.2 292.2,11.4 292.9,11.7 293.7,12.0 294.5,12.3 295.2,12.6 296.0,12.9 296.8,13.3 297.5,13.6 298.3,13.9 299.1,14.3 299.8,14.7 300.6,15.0 301.4,15.4 302.1,15.8 302.9,16.3 303.7,16.7 304.4,17.1 305.2,17.6 306.0,18.0 306.7,18.5 307.5,18.9 308.3,19.4 309.0,19.9 309.8,20.3 310.6,20.8 311.3,21.3 312.1,21.9 312.9,22.4 313.6,23.0 314.4,23.6 315.2,24.3 315.9,25.0 316.7,25.7 317.5,26.5 318.2,27.2 319.0,28.0 319.8,28.8 320.5,29.5 321.3,30.2 322.1,30.8 322.8,31.5 323.6,32.1 324.3,32.7 325.1,33.3 325.9,33.9 326.6,34.5 327.4,35.1 328.2,35.8 328.9,36.5 329.7,37.3 330.5,38.1 331.2,39.0 332.0,39.9 332.8,40.8 333.5,41.7 334.3,42.7 335.1,43.6 335.8,44.5 336.6,45.4 337.4,46.3 338.1,47.2 338.9,48.1 339.7,48.9 340.4,49.8 341.2,50.6 342.0,51.5 342.7,52.3 343.5,53.2 344.3,54.1 345.0,54.9 345.8,55.8 346.6,56.7 347.3,57.6 348.1,58.6" stroke-width="0.7"/><g fill="#fff" stroke-width="0.75"><rect x="220.6" y="84.8" width="2.29" height="2.29"/><rect x="228.2" y="59.5" width="2.29" height="2.29"/><rect x="235.9" y="43.0" width="2.29" height="2.29"/><rect x="243.5" y="32.0" width="2.29" height="2.29"/><rect x="251.2" y="23.0" width="2.29" height="2.29"/><rect x="258.9" y="15.4" width="2.29" height="2.29"/><rect x="266.5" y="12.0" width="2.29" height="2.29"/><rect x="274.2" y="9.2" width="2.29" height="2.29"/><rect x="281.8" y="8.9" width="2.29" height="2.29"/><rect x="289.5" y="9.9" width="2.29" height="2.29"/><rect x="297.2" y="12.8" width="2.29" height="2.29"/><rect x="304.8" y="16.9" width="2.29" height="2.29"/><rect x="312.5" y="21.8" width="2.29" height="2.29"/><rect x="320.1" y="29.0" width="2.29" height="2.29"/><rect x="327.8" y="35.4" width="2.29" height="2.29"/><rect x="335.5" y="44.3" width="2.29" height="2.29"/><rect x="343.1" y="52.9" width="2.29" height="2.29"/></g></g>
<rect x="224.3" y="190.0" width="116.89999999999998" height="88.19999999999999" fill="#fff"/>
<g stroke="#ff1a1a" fill="none" clip-path="url(#cib)"><polyline points="220.1,262.3 221.0,261.9 221.8,261.4 222.6,261.0 223.5,260.6 224.3,260.2 225.1,259.7 226.0,259.3 226.8,258.8 227.6,258.4 228.5,257.9 229.3,257.4 230.1,256.8 231.0,256.3 231.8,255.8 232.7,255.2 233.5,254.7 234.3,254.1 235.2,253.5 236.0,252.9 236.8,252.2 237.7,251.6 238.5,250.9 239.3,250.2 240.2,249.5 241.0,248.8 241.8,248.1 242.7,247.3 243.5,246.5 244.3,245.7 245.2,244.9 246.0,244.0 246.8,243.1 247.7,242.2 248.5,241.3 249.4,240.3 250.2,239.3 251.0,238.3 251.9,237.3 252.7,236.3 253.5,235.3 254.4,234.3 255.2,233.3 256.0,232.3 256.9,231.3 257.7,230.3 258.5,229.3 259.4,228.3 260.2,227.3 261.0,226.3 261.9,225.3 262.7,224.3 263.5,223.3 264.4,222.3 265.2,221.3 266.1,220.3 266.9,219.3 267.7,218.3 268.6,217.4 269.4,216.4 270.2,215.5 271.1,214.6 271.9,213.6 272.7,212.7 273.6,211.8 274.4,210.9 275.2,210.0 276.1,209.1 276.9,208.3 277.7,207.4 278.6,206.7 279.4,205.9 280.2,205.1 281.1,204.3 281.9,203.6 282.8,202.8 283.6,202.1 284.4,201.4 285.3,200.8 286.1,200.3 286.9,199.8 287.8,199.4 288.6,198.9 289.4,198.5 290.3,198.1 291.1,197.7 291.9,197.3 292.8,197.0 293.6,196.8 294.4,196.7 295.3,196.6 296.1,196.6 296.9,196.6 297.8,196.7 298.6,196.7 299.5,196.8 300.3,196.8 301.1,196.9 302.0,196.9 302.8,197.0 303.6,197.1 304.5,197.2 305.3,197.4 306.1,197.7 307.0,198.0 307.8,198.3 308.6,198.7 309.5,199.0 310.3,199.5 311.1,199.9 312.0,200.3 312.8,200.7 313.6,201.2 314.5,201.8 315.3,202.3 316.2,202.9 317.0,203.6 317.8,204.2 318.7,204.9 319.5,205.5 320.3,206.2 321.2,206.8 322.0,207.5 322.8,208.2 323.7,209.0 324.5,209.7 325.3,210.5 326.2,211.2 327.0,212.0 327.8,212.8 328.7,213.5 329.5,214.3 330.3,215.0 331.2,215.8 332.0,216.5 332.9,217.3 333.7,218.1 334.5,218.8 335.4,219.6 336.2,220.4 337.0,221.1 337.9,221.9 338.7,222.6 339.5,223.4 340.4,224.1 341.2,224.8 342.0,225.6 342.9,226.3 343.7,227.1 344.5,227.9 345.4,228.7" stroke-width="0.7"/><g fill="#fff" stroke-width="0.75"><circle cx="220.1" cy="262.3" r="1.35"/><circle cx="228.5" cy="257.9" r="1.35"/><circle cx="236.8" cy="252.2" r="1.35"/><circle cx="245.2" cy="244.9" r="1.35"/><circle cx="253.5" cy="235.3" r="1.35"/><circle cx="261.9" cy="225.3" r="1.35"/><circle cx="270.2" cy="215.5" r="1.35"/><circle cx="278.6" cy="206.7" r="1.35"/><circle cx="286.9" cy="199.8" r="1.35"/><circle cx="295.3" cy="196.6" r="1.35"/><circle cx="303.6" cy="197.1" r="1.35"/><circle cx="312.0" cy="200.3" r="1.35"/><circle cx="320.3" cy="206.2" r="1.35"/><circle cx="328.7" cy="213.5" r="1.35"/><circle cx="337.0" cy="221.1" r="1.35"/><circle cx="345.4" cy="228.7" r="1.35"/></g></g>
<g stroke="#1a901a" fill="none" clip-path="url(#cib)"><polyline points="220.1,262.5 221.0,262.1 221.8,261.7 222.6,261.3 223.5,260.8 224.3,260.4 225.1,260.0 226.0,259.5 226.8,259.1 227.6,258.6 228.5,258.1 229.3,257.6 230.1,257.1 231.0,256.6 231.8,256.0 232.7,255.5 233.5,254.9 234.3,254.3 235.2,253.7 236.0,253.1 236.8,252.5 237.7,251.8 238.5,251.2 239.3,250.5 240.2,249.8 241.0,249.0 241.8,248.3 242.7,247.5 243.5,246.7 244.3,245.9 245.2,245.1 246.0,244.3 246.8,243.4 247.7,242.5 248.5,241.6 249.4,240.7 250.2,239.7 251.0,238.7 251.9,237.8 252.7,236.8 253.5,235.8 254.4,234.8 255.2,233.8 256.0,232.8 256.9,231.8 257.7,230.8 258.5,229.8 259.4,228.8 260.2,227.7 261.0,226.7 261.9,225.8 262.7,224.8 263.5,223.9 264.4,222.9 265.2,222.0 266.1,221.0 266.9,220.1 267.7,219.2 268.6,218.3 269.4,217.4 270.2,216.5 271.1,215.5 271.9,214.6 272.7,213.6 273.6,212.6 274.4,211.7 275.2,210.8 276.1,209.9 276.9,209.0 277.7,208.3 278.6,207.6 279.4,207.0 280.2,206.4 281.1,205.8 281.9,205.2 282.8,204.7 283.6,204.2 284.4,203.7 285.3,203.4 286.1,203.1 286.9,203.0 287.8,202.9 288.6,202.8 289.4,202.7 290.3,202.7 291.1,202.6 291.9,202.6 292.8,202.5 293.6,202.5 294.4,202.5 295.3,202.5 296.1,202.5 296.9,202.7 297.8,202.9 298.6,203.2 299.5,203.6 300.3,204.0 301.1,204.4 302.0,204.8 302.8,205.3 303.6,205.7 304.5,206.1 305.3,206.6 306.1,207.1 307.0,207.6 307.8,208.1 308.6,208.7 309.5,209.3 310.3,209.9 311.1,210.5 312.0,211.1 312.8,211.7 313.6,212.3 314.5,213.0 315.3,213.7 316.2,214.4 317.0,215.1 317.8,215.8 318.7,216.5 319.5,217.2 320.3,217.9 321.2,218.6 322.0,219.3 322.8,220.0 323.7,220.8 324.5,221.5 325.3,222.2 326.2,222.9 327.0,223.6 327.8,224.3 328.7,225.0 329.5,225.7 330.3,226.5 331.2,227.2 332.0,227.9 332.9,228.6 333.7,229.3 334.5,230.0 335.4,230.7 336.2,231.4 337.0,232.1 337.9,232.8 338.7,233.5 339.5,234.2 340.4,234.9 341.2,235.6 342.0,236.3 342.9,237.0 343.7,237.7 344.5,238.3 345.4,239.0" stroke-width="0.7"/><g fill="#fff" stroke-width="0.75"><path d="M220.1 260.90L221.68 263.60L218.57 263.60Z"/><path d="M228.5 256.49L230.03 259.19L226.92 259.19Z"/><path d="M236.8 250.85L238.38 253.56L235.27 253.56Z"/><path d="M245.2 243.50L246.73 246.21L243.62 246.21Z"/><path d="M253.5 234.19L255.08 236.90L251.97 236.90Z"/><path d="M261.9 224.15L263.43 226.85L260.32 226.85Z"/><path d="M270.2 214.84L271.78 217.54L268.67 217.54Z"/><path d="M278.6 206.02L280.13 208.72L277.02 208.72Z"/><path d="M286.9 201.37L288.48 204.07L285.37 204.07Z"/><path d="M295.3 200.88L296.83 203.58L293.72 203.58Z"/><path d="M303.6 204.06L305.18 206.76L302.07 206.76Z"/><path d="M312.0 209.45L313.53 212.15L310.42 212.15Z"/><path d="M320.3 216.31L321.88 219.01L318.77 219.01Z"/><path d="M328.7 223.41L330.23 226.12L327.12 226.12Z"/><path d="M337.0 230.52L338.58 233.22L335.47 233.22Z"/><path d="M345.4 237.38L346.93 240.08L343.82 240.08Z"/></g></g>
<g stroke="#1818f0" fill="none" clip-path="url(#cib)"><polyline points="220.1,263.0 221.0,262.6 221.8,262.2 222.6,261.7 223.5,261.3 224.3,260.8 225.1,260.3 226.0,259.8 226.8,259.4 227.6,258.9 228.5,258.4 229.3,257.8 230.1,257.3 231.0,256.8 231.8,256.2 232.7,255.7 233.5,255.1 234.3,254.6 235.2,254.0 236.0,253.3 236.8,252.7 237.7,252.1 238.5,251.4 239.3,250.7 240.2,250.0 241.0,249.2 241.8,248.5 242.7,247.7 243.5,247.0 244.3,246.2 245.2,245.4 246.0,244.6 246.8,243.7 247.7,242.9 248.5,242.0 249.4,241.1 250.2,240.2 251.0,239.3 251.9,238.4 252.7,237.5 253.5,236.5 254.4,235.6 255.2,234.7 256.0,233.7 256.9,232.7 257.7,231.7 258.5,230.7 259.4,229.8 260.2,228.8 261.0,227.9 261.9,227.0 262.7,226.1 263.5,225.2 264.4,224.3 265.2,223.5 266.1,222.6 266.9,221.8 267.7,221.0 268.6,220.2 269.4,219.5 270.2,218.9 271.1,218.3 271.9,217.7 272.7,217.1 273.6,216.5 274.4,216.0 275.2,215.5 276.1,215.1 276.9,214.7 277.7,214.4 278.6,214.3 279.4,214.1 280.2,214.0 281.1,213.9 281.9,213.8 282.8,213.7 283.6,213.7 284.4,213.6 285.3,213.6 286.1,213.5 286.9,213.5 287.8,213.6 288.6,213.7 289.4,213.8 290.3,214.0 291.1,214.2 291.9,214.5 292.8,214.8 293.6,215.1 294.4,215.4 295.3,215.7 296.1,216.1 296.9,216.5 297.8,216.9 298.6,217.5 299.5,218.0 300.3,218.6 301.1,219.1 302.0,219.7 302.8,220.3 303.6,220.9 304.5,221.4 305.3,222.0 306.1,222.6 307.0,223.2 307.8,223.7 308.6,224.3 309.5,224.9 310.3,225.5 311.1,226.1 312.0,226.8 312.8,227.3 313.6,227.9 314.5,228.5 315.3,229.1 316.2,229.7 317.0,230.3 317.8,230.9 318.7,231.5 319.5,232.2 320.3,232.9 321.2,233.6 322.0,234.4 322.8,235.2 323.7,236.1 324.5,236.9 325.3,237.8 326.2,238.7 327.0,239.5 327.8,240.2 328.7,241.0 329.5,241.6 330.3,242.3 331.2,242.9 332.0,243.5 332.9,244.0 333.7,244.6 334.5,245.2 335.4,245.7 336.2,246.3 337.0,246.8 337.9,247.4 338.7,248.0 339.5,248.5 340.4,249.1 341.2,249.7 342.0,250.2 342.9,250.8 343.7,251.3 344.5,251.8 345.4,252.2" stroke-width="0.7"/><g fill="#fff" stroke-width="0.75"><path d="M218.50 263.0L221.21 261.46L221.21 264.56Z"/><path d="M226.86 258.4L229.56 256.80L229.56 259.91Z"/><path d="M235.21 252.7L237.91 251.17L237.91 254.27Z"/><path d="M243.56 245.4L246.26 243.82L246.26 246.92Z"/><path d="M251.91 236.6L254.61 235.00L254.61 238.10Z"/><path d="M260.25 227.0L262.95 225.44L262.95 228.55Z"/><path d="M268.61 218.9L271.31 217.36L271.31 220.46Z"/><path d="M276.95 214.3L279.65 212.70L279.65 215.81Z"/><path d="M285.31 213.5L288.00 211.97L288.00 215.07Z"/><path d="M293.65 215.7L296.35 214.17L296.35 217.28Z"/><path d="M302.00 220.9L304.70 219.32L304.70 222.42Z"/><path d="M310.36 226.8L313.06 225.20L313.06 228.30Z"/><path d="M318.70 232.9L321.40 231.32L321.40 234.43Z"/><path d="M327.06 241.0L329.75 239.41L329.75 242.51Z"/><path d="M335.40 246.8L338.10 245.29L338.10 248.39Z"/><path d="M343.75 252.2L346.45 250.68L346.45 253.78Z"/></g></g>
<g stroke="#ff2090" fill="none" clip-path="url(#cib)"><polyline points="220.1,266.7 221.0,266.4 221.8,266.1 222.6,265.8 223.5,265.5 224.3,265.2 225.1,264.9 226.0,264.6 226.8,264.2 227.6,263.9 228.5,263.5 229.3,263.1 230.1,262.7 231.0,262.3 231.8,261.8 232.7,261.3 233.5,260.8 234.3,260.3 235.2,259.8 236.0,259.2 236.8,258.6 237.7,258.0 238.5,257.2 239.3,256.5 240.2,255.7 241.0,254.8 241.8,253.9 242.7,253.1 243.5,252.2 244.3,251.3 245.2,250.5 246.0,249.7 246.8,248.9 247.7,248.1 248.5,247.3 249.4,246.5 250.2,245.7 251.0,244.9 251.9,244.1 252.7,243.2 253.5,242.4 254.4,241.6 255.2,240.7 256.0,239.9 256.9,239.0 257.7,238.1 258.5,237.3 259.4,236.4 260.2,235.6 261.0,234.8 261.9,234.1 262.7,233.4 263.5,232.6 264.4,231.9 265.2,231.2 266.1,230.5 266.9,229.8 267.7,229.2 268.6,228.6 269.4,228.1 270.2,227.7 271.1,227.4 271.9,227.0 272.7,226.7 273.6,226.4 274.4,226.1 275.2,225.8 276.1,225.6 276.9,225.4 277.7,225.3 278.6,225.3 279.4,225.3 280.2,225.4 281.1,225.5 281.9,225.6 282.8,225.7 283.6,225.9 284.4,226.1 285.3,226.3 286.1,226.5 286.9,226.8 287.8,227.0 288.6,227.4 289.4,227.8 290.3,228.4 291.1,228.9 291.9,229.5 292.8,230.1 293.6,230.7 294.4,231.3 295.3,231.9 296.1,232.5 296.9,233.1 297.8,233.7 298.6,234.3 299.5,234.9 300.3,235.5 301.1,236.2 302.0,236.8 302.8,237.4 303.6,238.0 304.5,238.6 305.3,239.2 306.1,239.8 307.0,240.4 307.8,241.0 308.6,241.6 309.5,242.2 310.3,242.8 311.1,243.3 312.0,243.9 312.8,244.5 313.6,245.0 314.5,245.6 315.3,246.1 316.2,246.7 317.0,247.2 317.8,247.7 318.7,248.3 319.5,248.8 320.3,249.3 321.2,249.8 322.0,250.3 322.8,250.7 323.7,251.2 324.5,251.7 325.3,252.1 326.2,252.6 327.0,253.0 327.8,253.5 328.7,253.9 329.5,254.4 330.3,254.9 331.2,255.4 332.0,255.8 332.9,256.3 333.7,256.8 334.5,257.3 335.4,257.7 336.2,258.2 337.0,258.6 337.9,259.0 338.7,259.5 339.5,259.9 340.4,260.3 341.2,260.7 342.0,261.1 342.9,261.5 343.7,261.9 344.5,262.2 345.4,262.5" stroke-width="0.7"/><g fill="#fff" stroke-width="0.75"><circle cx="220.1" cy="266.7" r="1.35"/><circle cx="228.5" cy="263.5" r="1.35"/><circle cx="236.8" cy="258.6" r="1.35"/><circle cx="245.2" cy="250.5" r="1.35"/><circle cx="253.5" cy="242.4" r="1.35"/><circle cx="261.9" cy="234.1" r="1.35"/><circle cx="270.2" cy="227.7" r="1.35"/><circle cx="278.6" cy="225.3" r="1.35"/><circle cx="286.9" cy="226.8" r="1.35"/><circle cx="295.3" cy="231.9" r="1.35"/><circle cx="303.6" cy="238.0" r="1.35"/><circle cx="312.0" cy="243.9" r="1.35"/><circle cx="320.3" cy="249.3" r="1.35"/><circle cx="328.7" cy="253.9" r="1.35"/><circle cx="337.0" cy="258.6" r="1.35"/><circle cx="345.4" cy="262.5" r="1.35"/></g></g>
<g stroke="#10d8f0" fill="none" clip-path="url(#cib)"><polyline points="220.1,270.1 221.0,269.9 221.8,269.7 222.6,269.5 223.5,269.3 224.3,269.1 225.1,268.9 226.0,268.7 226.8,268.5 227.6,268.2 228.5,267.9 229.3,267.6 230.1,267.1 231.0,266.7 231.8,266.1 232.7,265.6 233.5,265.0 234.3,264.3 235.2,263.7 236.0,263.1 236.8,262.5 237.7,261.9 238.5,261.3 239.3,260.7 240.2,260.0 241.0,259.4 241.8,258.7 242.7,258.1 243.5,257.4 244.3,256.8 245.2,256.1 246.0,255.5 246.8,254.9 247.7,254.3 248.5,253.7 249.4,253.0 250.2,252.4 251.0,251.8 251.9,251.1 252.7,250.5 253.5,249.8 254.4,249.0 255.2,248.2 256.0,247.4 256.9,246.5 257.7,245.6 258.5,244.8 259.4,244.0 260.2,243.3 261.0,242.7 261.9,242.2 262.7,241.8 263.5,241.4 264.4,241.0 265.2,240.7 266.1,240.3 266.9,240.1 267.7,239.8 268.6,239.6 269.4,239.5 270.2,239.5 271.1,239.5 271.9,239.6 272.7,239.7 273.6,239.8 274.4,240.0 275.2,240.2 276.1,240.4 276.9,240.7 277.7,240.9 278.6,241.2 279.4,241.5 280.2,242.0 281.1,242.5 281.9,243.1 282.8,243.8 283.6,244.4 284.4,245.1 285.3,245.8 286.1,246.5 286.9,247.1 287.8,247.7 288.6,248.2 289.4,248.8 290.3,249.4 291.1,250.0 291.9,250.5 292.8,251.1 293.6,251.6 294.4,252.2 295.3,252.7 296.1,253.2 296.9,253.8 297.8,254.3 298.6,254.8 299.5,255.3 300.3,255.8 301.1,256.3 302.0,256.7 302.8,257.2 303.6,257.6 304.5,258.0 305.3,258.4 306.1,258.8 307.0,259.2 307.8,259.6 308.6,260.0 309.5,260.3 310.3,260.6 311.1,261.0 312.0,261.3 312.8,261.6 313.6,261.9 314.5,262.2 315.3,262.5 316.2,262.7 317.0,263.0 317.8,263.2 318.7,263.5 319.5,263.7 320.3,264.0 321.2,264.2 322.0,264.5 322.8,264.7 323.7,264.9 324.5,265.1 325.3,265.3 326.2,265.5 327.0,265.8 327.8,266.0 328.7,266.2 329.5,266.4 330.3,266.7 331.2,266.9 332.0,267.2 332.9,267.4 333.7,267.7 334.5,267.9 335.4,268.1 336.2,268.3 337.0,268.4 337.9,268.5 338.7,268.6 339.5,268.7 340.4,268.8 341.2,268.9 342.0,269.0 342.9,269.0 343.7,269.1 344.5,269.1 345.4,269.1" stroke-width="0.7"/><g fill="#fff" stroke-width="0.75"><path d="M220.1 268.43L221.81 270.1L220.1 271.80L218.44 270.1Z"/><path d="M228.5 266.22L230.16 267.9L228.5 269.60L226.79 267.9Z"/><path d="M236.8 260.83L238.51 262.5L236.8 264.21L235.14 262.5Z"/><path d="M245.2 254.46L246.86 256.1L245.2 257.84L243.49 256.1Z"/><path d="M253.5 248.09L255.21 249.8L253.5 251.47L251.84 249.8Z"/><path d="M261.9 240.50L263.56 242.2L261.9 243.87L260.19 242.2Z"/><path d="M270.2 237.80L271.91 239.5L270.2 241.18L268.54 239.5Z"/><path d="M278.6 239.52L280.26 241.2L278.6 242.89L276.89 241.2Z"/><path d="M286.9 245.40L288.61 247.1L286.9 248.77L285.24 247.1Z"/><path d="M295.3 251.03L296.96 252.7L295.3 254.41L293.59 252.7Z"/><path d="M303.6 255.93L305.31 257.6L303.6 259.31L301.94 257.6Z"/><path d="M312.0 259.61L313.66 261.3L312.0 262.98L310.29 261.3Z"/><path d="M320.3 262.30L322.01 264.0L320.3 265.68L318.64 264.0Z"/><path d="M328.7 264.51L330.36 266.2L328.7 267.88L326.99 266.2Z"/><path d="M337.0 266.71L338.71 268.4L337.0 270.09L335.34 268.4Z"/><path d="M345.4 267.45L347.06 269.1L345.4 270.82L343.69 269.1Z"/></g></g>
<g stroke="#ff10ff" fill="none" clip-path="url(#cib)"><polyline points="220.1,270.8 221.0,270.6 221.8,270.5 222.6,270.3 223.5,270.1 224.3,269.9 225.1,269.7 226.0,269.4 226.8,269.2 227.6,268.9 228.5,268.6 229.3,268.3 230.1,267.9 231.0,267.4 231.8,266.9 232.7,266.4 233.5,265.8 234.3,265.3 235.2,264.7 236.0,264.1 236.8,263.5 237.7,262.9 238.5,262.3 239.3,261.7 240.2,261.1 241.0,260.4 241.8,259.8 242.7,259.1 243.5,258.4 244.3,257.8 245.2,257.1 246.0,256.5 246.8,255.8 247.7,255.1 248.5,254.3 249.4,253.6 250.2,252.9 251.0,252.3 251.9,251.6 252.7,251.0 253.5,250.5 254.4,250.0 255.2,249.5 256.0,249.0 256.9,248.5 257.7,248.0 258.5,247.6 259.4,247.3 260.2,247.0 261.0,246.7 261.9,246.6 262.7,246.5 263.5,246.4 264.4,246.4 265.2,246.3 266.1,246.2 266.9,246.2 267.7,246.2 268.6,246.1 269.4,246.1 270.2,246.1 271.1,246.2 271.9,246.3 272.7,246.5 273.6,246.8 274.4,247.2 275.2,247.5 276.1,248.0 276.9,248.4 277.7,248.9 278.6,249.3 279.4,249.8 280.2,250.3 281.1,251.0 281.9,251.7 282.8,252.4 283.6,253.1 284.4,253.9 285.3,254.6 286.1,255.3 286.9,255.9 287.8,256.5 288.6,257.1 289.4,257.6 290.3,258.2 291.1,258.7 291.9,259.3 292.8,259.8 293.6,260.3 294.4,260.8 295.3,261.3 296.1,261.8 296.9,262.3 297.8,262.7 298.6,263.2 299.5,263.7 300.3,264.1 301.1,264.6 302.0,265.0 302.8,265.4 303.6,265.7 304.5,266.0 305.3,266.4 306.1,266.7 307.0,267.0 307.8,267.3 308.6,267.6 309.5,267.8 310.3,268.0 311.1,268.2 312.0,268.4 312.8,268.5 313.6,268.7 314.5,268.8 315.3,268.9 316.2,269.0 317.0,269.1 317.8,269.2 318.7,269.2 319.5,269.3 320.3,269.4 321.2,269.4 322.0,269.5 322.8,269.6 323.7,269.6 324.5,269.6 325.3,269.7 326.2,269.7 327.0,269.8 327.8,269.8 328.7,269.9 329.5,269.9 330.3,270.0 331.2,270.0 332.0,270.1 332.9,270.2 333.7,270.2 334.5,270.3 335.4,270.3 336.2,270.4 337.0,270.4 337.9,270.4 338.7,270.4 339.5,270.4 340.4,270.4 341.2,270.4 342.0,270.4 342.9,270.4 343.7,270.4 344.5,270.4 345.4,270.4" stroke-width="0.7"/><g fill="#fff" stroke-width="0.75"><path d="M220.1 272.47L221.68 269.77L218.57 269.77Z"/><path d="M228.5 270.26L230.03 267.56L226.92 267.56Z"/><path d="M236.8 265.12L238.38 262.42L235.27 262.42Z"/><path d="M245.2 258.75L246.73 256.05L243.62 256.05Z"/><path d="M253.5 252.13L255.08 249.43L251.97 249.43Z"/><path d="M261.9 248.22L263.43 245.51L260.32 245.51Z"/><path d="M270.2 247.72L271.78 245.02L268.67 245.02Z"/><path d="M278.6 250.91L280.13 248.21L277.02 248.21Z"/><path d="M286.9 257.52L288.48 254.82L285.37 254.82Z"/><path d="M295.3 262.92L296.83 260.22L293.72 260.22Z"/><path d="M303.6 267.32L305.18 264.62L302.07 264.62Z"/><path d="M312.0 270.02L313.53 267.32L310.42 267.32Z"/><path d="M320.3 271.00L321.88 268.30L318.77 268.30Z"/><path d="M328.7 271.49L330.23 268.79L327.12 268.79Z"/><path d="M337.0 271.98L338.58 269.28L335.47 269.28Z"/><path d="M345.4 271.98L346.93 269.28L343.82 269.28Z"/></g></g>
<g stroke="#9a40ff" fill="none" clip-path="url(#cib)"><polyline points="220.1,268.9 221.0,268.7 221.8,268.4 222.6,268.2 223.5,268.0 224.3,267.8 225.1,267.6 226.0,267.3 226.8,267.1 227.6,266.8 228.5,266.4 229.3,266.1 230.1,265.6 231.0,265.2 231.8,264.7 232.7,264.1 233.5,263.5 234.3,262.9 235.2,262.3 236.0,261.7 236.8,261.0 237.7,260.4 238.5,259.7 239.3,259.0 240.2,258.3 241.0,257.5 241.8,256.7 242.7,256.0 243.5,255.2 244.3,254.4 245.2,253.7 246.0,253.0 246.8,252.2 247.7,251.5 248.5,250.8 249.4,250.1 250.2,249.3 251.0,248.6 251.9,247.9 252.7,247.1 253.5,246.3 254.4,245.6 255.2,244.8 256.0,243.9 256.9,243.1 257.7,242.2 258.5,241.4 259.4,240.6 260.2,239.9 261.0,239.1 261.9,238.5 262.7,237.9 263.5,237.2 264.4,236.6 265.2,235.9 266.1,235.3 266.9,234.8 267.7,234.3 268.6,233.9 269.4,233.7 270.2,233.6 271.1,233.6 271.9,233.6 272.7,233.6 273.6,233.6 274.4,233.6 275.2,233.6 276.1,233.6 276.9,233.6 277.7,233.6 278.6,233.6 279.4,233.7 280.2,233.8 281.1,234.0 281.9,234.3 282.8,234.6 283.6,234.9 284.4,235.3 285.3,235.7 286.1,236.1 286.9,236.6 287.8,237.0 288.6,237.6 289.4,238.2 290.3,238.9 291.1,239.6 291.9,240.4 292.8,241.1 293.6,241.8 294.4,242.5 295.3,243.2 296.1,243.7 296.9,244.3 297.8,244.9 298.6,245.4 299.5,245.9 300.3,246.5 301.1,247.0 302.0,247.5 302.8,248.0 303.6,248.6 304.5,249.1 305.3,249.6 306.1,250.2 307.0,250.7 307.8,251.3 308.6,251.8 309.5,252.4 310.3,252.9 311.1,253.4 312.0,253.9 312.8,254.4 313.6,254.9 314.5,255.4 315.3,255.9 316.2,256.4 317.0,256.8 317.8,257.3 318.7,257.7 319.5,258.2 320.3,258.6 321.2,259.0 322.0,259.5 322.8,259.9 323.7,260.3 324.5,260.7 325.3,261.1 326.2,261.5 327.0,261.9 327.8,262.2 328.7,262.5 329.5,262.8 330.3,263.1 331.2,263.4 332.0,263.6 332.9,263.8 333.7,264.1 334.5,264.3 335.4,264.5 336.2,264.8 337.0,265.0 337.9,265.2 338.7,265.4 339.5,265.7 340.4,265.9 341.2,266.1 342.0,266.3 342.9,266.5 343.7,266.7 344.5,266.8 345.4,266.9" stroke-width="0.7"/><g fill="#fff" stroke-width="0.75"><polygon points="221.47,268.89 220.80,270.06 219.45,270.06 218.78,268.89 219.45,267.72 220.80,267.72"/><polygon points="229.83,266.44 229.15,267.61 227.80,267.61 227.13,266.44 227.80,265.27 229.15,265.27"/><polygon points="238.18,261.05 237.50,262.22 236.15,262.22 235.48,261.05 236.15,259.88 237.50,259.88"/><polygon points="246.53,253.70 245.85,254.87 244.50,254.87 243.83,253.70 244.50,252.53 245.85,252.53"/><polygon points="254.88,246.35 254.20,247.52 252.85,247.52 252.18,246.35 252.85,245.18 254.20,245.18"/><polygon points="263.23,238.51 262.55,239.68 261.20,239.68 260.52,238.51 261.20,237.34 262.55,237.34"/><polygon points="271.58,233.61 270.90,234.78 269.55,234.78 268.88,233.61 269.55,232.44 270.90,232.44"/><polygon points="279.93,233.61 279.25,234.78 277.90,234.78 277.22,233.61 277.90,232.44 279.25,232.44"/><polygon points="288.28,236.55 287.60,237.72 286.25,237.72 285.57,236.55 286.25,235.38 287.60,235.38"/><polygon points="296.62,243.16 295.95,244.33 294.60,244.33 293.92,243.16 294.60,242.00 295.95,242.00"/><polygon points="304.98,248.56 304.30,249.72 302.95,249.72 302.27,248.56 302.95,247.39 304.30,247.39"/><polygon points="313.33,253.94 312.65,255.11 311.30,255.11 310.62,253.94 311.30,252.78 312.65,252.78"/><polygon points="321.68,258.60 321.00,259.77 319.65,259.77 318.97,258.60 319.65,257.43 321.00,257.43"/><polygon points="330.03,262.52 329.35,263.69 328.00,263.69 327.32,262.52 328.00,261.35 329.35,261.35"/><polygon points="338.38,264.97 337.70,266.14 336.35,266.14 335.67,264.97 336.35,263.80 337.70,263.80"/><polygon points="346.73,266.93 346.05,268.10 344.70,268.10 344.02,266.93 344.70,265.76 346.05,265.76"/></g></g>
<g stroke="#3c3cb4" fill="none" clip-path="url(#cib)"><polyline points="220.1,268.6 221.0,268.4 221.8,268.2 222.6,267.9 223.5,267.7 224.3,267.4 225.1,267.2 226.0,266.9 226.8,266.6 227.6,266.3 228.5,265.9 229.3,265.6 230.1,265.1 231.0,264.6 231.8,264.0 232.7,263.5 233.5,262.9 234.3,262.2 235.2,261.6 236.0,260.9 236.8,260.3 237.7,259.7 238.5,259.0 239.3,258.3 240.2,257.5 241.0,256.8 241.8,256.0 242.7,255.3 243.5,254.6 244.3,253.9 245.2,253.2 246.0,252.6 246.8,251.8 247.7,251.1 248.5,250.4 249.4,249.7 250.2,249.1 251.0,248.5 251.9,248.1 252.7,247.7 253.5,247.6 254.4,247.5 255.2,247.4 256.0,247.3 256.9,247.3 257.7,247.2 258.5,247.2 259.4,247.1 260.2,247.1 261.0,247.1 261.9,247.1 262.7,247.1 263.5,247.2 264.4,247.4 265.2,247.6 266.1,247.8 266.9,248.1 267.7,248.4 268.6,248.7 269.4,249.0 270.2,249.3 271.1,249.6 271.9,250.0 272.7,250.5 273.6,251.0 274.4,251.6 275.2,252.1 276.1,252.7 276.9,253.3 277.7,253.9 278.6,254.4 279.4,255.0 280.2,255.6 281.1,256.2 281.9,256.8 282.8,257.5 283.6,258.1 284.4,258.7 285.3,259.3 286.1,259.8 286.9,260.3 287.8,260.8 288.6,261.2 289.4,261.6 290.3,262.0 291.1,262.4 291.9,262.8 292.8,263.1 293.6,263.5 294.4,263.9 295.3,264.2 296.1,264.6 296.9,265.0 297.8,265.4 298.6,265.9 299.5,266.3 300.3,266.6 301.1,267.0 302.0,267.3 302.8,267.5 303.6,267.7 304.5,267.8 305.3,267.9 306.1,268.0 307.0,268.0 307.8,268.1 308.6,268.2 309.5,268.2 310.3,268.3 311.1,268.3 312.0,268.4 312.8,268.5 313.6,268.5 314.5,268.6 315.3,268.6 316.2,268.7 317.0,268.7 317.8,268.7 318.7,268.8 319.5,268.8 320.3,268.9 321.2,268.9 322.0,269.0 322.8,269.1 323.7,269.1 324.5,269.2 325.3,269.3 326.2,269.3 327.0,269.3 327.8,269.4 328.7,269.4 329.5,269.4 330.3,269.4 331.2,269.4 332.0,269.4 332.9,269.4 333.7,269.4 334.5,269.4 335.4,269.4 336.2,269.4 337.0,269.4 337.9,269.4 338.7,269.4 339.5,269.4 340.4,269.4 341.2,269.4 342.0,269.4 342.9,269.4 343.7,269.4 344.5,269.4 345.4,269.4" stroke-width="0.7"/><g fill="#fff" stroke-width="0.75"><rect x="219.0" y="267.5" width="2.29" height="2.29"/><rect x="227.3" y="264.8" width="2.29" height="2.29"/><rect x="235.7" y="259.2" width="2.29" height="2.29"/><rect x="244.0" y="252.1" width="2.29" height="2.29"/><rect x="252.4" y="246.4" width="2.29" height="2.29"/><rect x="260.7" y="245.9" width="2.29" height="2.29"/><rect x="269.1" y="248.1" width="2.29" height="2.29"/><rect x="277.4" y="253.3" width="2.29" height="2.29"/><rect x="285.8" y="259.2" width="2.29" height="2.29"/><rect x="294.1" y="263.1" width="2.29" height="2.29"/><rect x="302.5" y="266.5" width="2.29" height="2.29"/><rect x="310.8" y="267.3" width="2.29" height="2.29"/><rect x="319.2" y="267.7" width="2.29" height="2.29"/><rect x="327.5" y="268.2" width="2.29" height="2.29"/><rect x="335.9" y="268.2" width="2.29" height="2.29"/><rect x="344.2" y="268.2" width="2.29" height="2.29"/></g></g>
<line x1="44.4" y1="0" x2="44.4" y2="190.5" stroke="#222" stroke-width="1.3"/>
<line x1="44.4" y1="0.6" x2="341.3" y2="0.6" stroke="#222" stroke-width="1.3"/>
<line x1="341.3" y1="0" x2="341.3" y2="380.5" stroke="#222" stroke-width="1.3"/>
<line x1="40.5" y1="190.5" x2="341.9" y2="190.5" stroke="#222" stroke-width="1.3"/>
<line x1="44.4" y1="190.5" x2="44.4" y2="380.5" stroke="#222" stroke-width="1.3"/>
<line x1="40.5" y1="380.5" x2="341.9" y2="380.5" stroke="#222" stroke-width="1.3"/>
<line x1="37.4" y1="178.6" x2="44.4" y2="178.6" stroke="#222" stroke-width="1.3"/>
<line x1="40.4" y1="154.79" x2="44.4" y2="154.79" stroke="#222" stroke-width="1.3"/>
<line x1="37.4" y1="130.98" x2="44.4" y2="130.98" stroke="#222" stroke-width="1.3"/>
<line x1="40.4" y1="107.17" x2="44.4" y2="107.17" stroke="#222" stroke-width="1.3"/>
<line x1="37.4" y1="83.36" x2="44.4" y2="83.36" stroke="#222" stroke-width="1.3"/>
<line x1="40.4" y1="59.55" x2="44.4" y2="59.55" stroke="#222" stroke-width="1.3"/>
<line x1="37.4" y1="35.74" x2="44.4" y2="35.74" stroke="#222" stroke-width="1.3"/>
<line x1="40.4" y1="11.93" x2="44.4" y2="11.93" stroke="#222" stroke-width="1.3"/>
<line x1="40.4" y1="380.5" x2="44.4" y2="380.5" stroke="#222" stroke-width="1.3"/>
<line x1="37.4" y1="361.5" x2="44.4" y2="361.5" stroke="#222" stroke-width="1.3"/>
<line x1="40.4" y1="342.5" x2="44.4" y2="342.5" stroke="#222" stroke-width="1.3"/>
<line x1="37.4" y1="323.5" x2="44.4" y2="323.5" stroke="#222" stroke-width="1.3"/>
<line x1="40.4" y1="304.5" x2="44.4" y2="304.5" stroke="#222" stroke-width="1.3"/>
<line x1="37.4" y1="285.5" x2="44.4" y2="285.5" stroke="#222" stroke-width="1.3"/>
<line x1="40.4" y1="266.5" x2="44.4" y2="266.5" stroke="#222" stroke-width="1.3"/>
<line x1="37.4" y1="247.5" x2="44.4" y2="247.5" stroke="#222" stroke-width="1.3"/>
<line x1="40.4" y1="228.5" x2="44.4" y2="228.5" stroke="#222" stroke-width="1.3"/>
<line x1="37.4" y1="209.5" x2="44.4" y2="209.5" stroke="#222" stroke-width="1.3"/>
<line x1="40.4" y1="190.5" x2="44.4" y2="190.5" stroke="#222" stroke-width="1.3"/>
<line x1="69.42" y1="190.5" x2="69.42" y2="187.0" stroke="#222" stroke-width="1.3"/>
<line x1="69.42" y1="380.5" x2="69.42" y2="377.0" stroke="#222" stroke-width="1.3"/>
<line x1="103.4" y1="190.5" x2="103.4" y2="184.0" stroke="#222" stroke-width="1.3"/>
<line x1="103.4" y1="380.5" x2="103.4" y2="374.0" stroke="#222" stroke-width="1.3"/>
<line x1="137.39" y1="190.5" x2="137.39" y2="187.0" stroke="#222" stroke-width="1.3"/>
<line x1="137.39" y1="380.5" x2="137.39" y2="377.0" stroke="#222" stroke-width="1.3"/>
<line x1="171.37" y1="190.5" x2="171.37" y2="184.0" stroke="#222" stroke-width="1.3"/>
<line x1="171.37" y1="380.5" x2="171.37" y2="374.0" stroke="#222" stroke-width="1.3"/>
<line x1="205.35" y1="190.5" x2="205.35" y2="187.0" stroke="#222" stroke-width="1.3"/>
<line x1="205.35" y1="380.5" x2="205.35" y2="377.0" stroke="#222" stroke-width="1.3"/>
<line x1="239.33" y1="190.5" x2="239.33" y2="184.0" stroke="#222" stroke-width="1.3"/>
<line x1="239.33" y1="380.5" x2="239.33" y2="374.0" stroke="#222" stroke-width="1.3"/>
<line x1="273.32" y1="190.5" x2="273.32" y2="187.0" stroke="#222" stroke-width="1.3"/>
<line x1="273.32" y1="380.5" x2="273.32" y2="377.0" stroke="#222" stroke-width="1.3"/>
<line x1="307.3" y1="190.5" x2="307.3" y2="184.0" stroke="#222" stroke-width="1.3"/>
<line x1="307.3" y1="380.5" x2="307.3" y2="374.0" stroke="#222" stroke-width="1.3"/>
<text x="33.5" y="183.6" font-size="15" text-anchor="end" font-family="Liberation Serif, serif" fill="#111" stroke="#111" stroke-width="0.2" >0</text>
<text x="33.5" y="135.98" font-size="15" text-anchor="end" font-family="Liberation Serif, serif" fill="#111" stroke="#111" stroke-width="0.2" >2</text>
<text x="33.5" y="88.36" font-size="15" text-anchor="end" font-family="Liberation Serif, serif" fill="#111" stroke="#111" stroke-width="0.2" >4</text>
<text x="33.5" y="40.74" font-size="15" text-anchor="end" font-family="Liberation Serif, serif" fill="#111" stroke="#111" stroke-width="0.2" >6</text>
<text x="33.5" y="366.5" font-size="15" text-anchor="end" font-family="Liberation Serif, serif" fill="#111" stroke="#111" stroke-width="0.2" >0</text>
<text x="33.5" y="328.5" font-size="15" text-anchor="end" font-family="Liberation Serif, serif" fill="#111" stroke="#111" stroke-width="0.2" >1</text>
<text x="33.5" y="290.5" font-size="15" text-anchor="end" font-family="Liberation Serif, serif" fill="#111" stroke="#111" stroke-width="0.2" >2</text>
<text x="33.5" y="252.5" font-size="15" text-anchor="end" font-family="Liberation Serif, serif" fill="#111" stroke="#111" stroke-width="0.2" >3</text>
<text x="33.5" y="214.5" font-size="15" text-anchor="end" font-family="Liberation Serif, serif" fill="#111" stroke="#111" stroke-width="0.2" >4</text>
<text x="103.4" y="398" font-size="15.5" text-anchor="middle" font-family="Liberation Serif, serif" fill="#111" stroke="#111" stroke-width="0.2" >30</text>
<text x="171.37" y="398" font-size="15.5" text-anchor="middle" font-family="Liberation Serif, serif" fill="#111" stroke="#111" stroke-width="0.2" >60</text>
<text x="239.33" y="398" font-size="15.5" text-anchor="middle" font-family="Liberation Serif, serif" fill="#111" stroke="#111" stroke-width="0.2" >90</text>
<text x="307.3" y="398" font-size="15.5" text-anchor="middle" font-family="Liberation Serif, serif" fill="#111" stroke="#111" stroke-width="0.2" >120</text>
<text x="203.5" y="418.6" font-size="19.5" text-anchor="middle" font-family="Liberation Serif, serif" fill="#111" stroke="#111" stroke-width="0.3" >T (K)</text>
<text transform="translate(16.0,154.3) rotate(-90)" font-size="16.3" font-family="Liberation Serif, serif" fill="#111" stroke="#111" stroke-width="0.2"><tspan font-style="italic" stroke-width="0.45">&#967;</tspan><tspan>&#8242; (emu mol</tspan><tspan dy="-7" font-size="12">&#8722;1</tspan><tspan dy="7">Oe</tspan><tspan dy="-7" font-size="12">&#8722;1</tspan><tspan dy="7">)</tspan></text>
<text transform="translate(16.0,358.2) rotate(-90)" font-size="16.3" font-family="Liberation Serif, serif" fill="#111" stroke="#111" stroke-width="0.2"><tspan font-style="italic" stroke-width="0.45">&#967;</tspan><tspan>&#8243; (10</tspan><tspan dy="-7" font-size="12">&#8722;1</tspan><tspan dy="7">emu mol</tspan><tspan dy="-7" font-size="12">&#8722;1</tspan><tspan dy="7">Oe</tspan><tspan dy="-7" font-size="12">&#8722;1</tspan><tspan dy="7">)</tspan></text>
<text x="50.6" y="15.8" font-size="13.2" text-anchor="start" font-family="Liberation Serif, serif" fill="#111" stroke="#111" stroke-width="0.2" >(a)</text>
<text x="50.3" y="209.6" font-size="14.2" text-anchor="start" font-family="Liberation Serif, serif" fill="#111" stroke="#111" stroke-width="0.2" >(b)</text>
<text x="106.2" y="36.6" font-size="10.6" text-anchor="start" font-family="Liberation Serif, serif" fill="#111" stroke="#111" stroke-width="0.35" >0.17 Hz</text>
<text x="152.0" y="108.4" font-size="10.6" text-anchor="start" font-family="Liberation Serif, serif" fill="#111" stroke="#111" stroke-width="0.35" >510 Hz</text>
<text x="121.9" y="356.0" font-size="10.6" text-anchor="start" font-family="Liberation Serif, serif" fill="#111" stroke="#111" stroke-width="0.35" >0.17 Hz</text>
<text x="176.7" y="273.7" font-size="10.6" text-anchor="start" font-family="Liberation Serif, serif" fill="#111" stroke="#111" stroke-width="0.35" >510 Hz</text>
<text x="58.4" y="239.4" font-size="12.4" font-family="Liberation Serif, serif" fill="#111" stroke="#111" stroke-width="0.25" font-style="italic">h</text>
<text x="64.6" y="242.4" font-size="7.2" font-family="Liberation Serif, serif" fill="#111" stroke="#111" stroke-width="0.15" font-style="italic">ac</text>
<text x="73.2" y="239.4" font-size="12.4" font-family="Liberation Serif, serif" fill="#111" stroke="#111" stroke-width="0.25">=</text>
<text x="83.4" y="239.4" font-size="12.4" font-family="Liberation Serif, serif" fill="#111" stroke="#111" stroke-width="0.25">4</text>
<text x="91.6" y="239.4" font-size="12.4" font-family="Liberation Serif, serif" fill="#111" stroke="#111" stroke-width="0.25">Oe</text>
<text x="58.2" y="256.1" font-size="12.4" font-family="Liberation Serif, serif" fill="#111" stroke="#111" stroke-width="0.25" font-style="italic">H</text>
<text x="69.2" y="256.1" font-size="12.4" font-family="Liberation Serif, serif" fill="#111" stroke="#111" stroke-width="0.25">=</text>
<text x="78.8" y="256.1" font-size="12.4" font-family="Liberation Serif, serif" fill="#111" stroke="#111" stroke-width="0.25">0</text>
<text x="87.9" y="256.1" font-size="12.4" font-family="Liberation Serif, serif" fill="#111" stroke="#111" stroke-width="0.25">Oe</text>
<line x1="130.7" y1="39.7" x2="156.51" y2="91.24" stroke="#111" stroke-width="1.1"/><path d="M159.20 96.60L152.94 91.91L159.19 88.77Z" fill="#111"/>
<line x1="166.6" y1="69.6" x2="166.60" y2="49.00" stroke="#ff1a1a" stroke-width="1.3"/><path d="M166.60 42.50L170.20 50.00L163.00 50.00Z" fill="#ff1a1a"/>
<line x1="139.0" y1="345.0" x2="180.88" y2="282.00" stroke="#111" stroke-width="1.1"/><path d="M184.20 277.00L183.24 284.77L177.41 280.89Z" fill="#111"/>
<line x1="107.0" y1="213.6" x2="131.30" y2="213.60" stroke="#ff1a1a" stroke-width="1.3"/><path d="M137.80 213.60L130.30 217.30L130.30 209.90Z" fill="#ff1a1a"/>
<line x1="238.9" y1="22.0" x2="294.61" y2="63.89" stroke="#2222dd" stroke-width="1.1"/><path d="M299.80 67.80L291.70 66.09L295.91 60.49Z" fill="#2222dd"/>
<line x1="260.6" y1="258.1" x2="331.75" y2="206.23" stroke="#2222dd" stroke-width="1.1"/><path d="M337.00 202.40L333.00 209.65L328.88 203.99Z" fill="#2222dd"/>
<line x1="226.3" y1="0" x2="226.3" y2="79.4" stroke="#999" stroke-width="1.2"/>
<line x1="223.3" y1="79.4" x2="341.3" y2="79.4" stroke="#333" stroke-width="1.1"/>
<line x1="223.70000000000002" y1="79.4" x2="226.3" y2="79.4" stroke="#444" stroke-width="0.9"/>
<line x1="225.10000000000002" y1="69.04" x2="226.3" y2="69.04" stroke="#444" stroke-width="0.9"/>
<line x1="223.70000000000002" y1="58.69" x2="226.3" y2="58.69" stroke="#444" stroke-width="0.9"/>
<line x1="225.10000000000002" y1="48.33" x2="226.3" y2="48.33" stroke="#444" stroke-width="0.9"/>
<line x1="223.70000000000002" y1="37.97" x2="226.3" y2="37.97" stroke="#444" stroke-width="0.9"/>
<line x1="225.10000000000002" y1="27.62" x2="226.3" y2="27.62" stroke="#444" stroke-width="0.9"/>
<line x1="223.70000000000002" y1="17.26" x2="226.3" y2="17.26" stroke="#444" stroke-width="0.9"/>
<line x1="225.10000000000002" y1="6.9" x2="226.3" y2="6.9" stroke="#444" stroke-width="0.9"/>
<line x1="233.19" y1="79.4" x2="233.19" y2="80.7" stroke="#444" stroke-width="0.9"/>
<line x1="244.68" y1="79.4" x2="244.68" y2="82.0" stroke="#444" stroke-width="0.9"/>
<line x1="256.17" y1="79.4" x2="256.17" y2="80.7" stroke="#444" stroke-width="0.9"/>
<line x1="267.66" y1="79.4" x2="267.66" y2="82.0" stroke="#444" stroke-width="0.9"/>
<line x1="279.15" y1="79.4" x2="279.15" y2="80.7" stroke="#444" stroke-width="0.9"/>
<line x1="290.64" y1="79.4" x2="290.64" y2="82.0" stroke="#444" stroke-width="0.9"/>
<line x1="302.13" y1="79.4" x2="302.13" y2="80.7" stroke="#444" stroke-width="0.9"/>
<line x1="313.62" y1="79.4" x2="313.62" y2="82.0" stroke="#444" stroke-width="0.9"/>
<line x1="325.11" y1="79.4" x2="325.11" y2="80.7" stroke="#444" stroke-width="0.9"/>
<line x1="336.6" y1="79.4" x2="336.6" y2="82.0" stroke="#444" stroke-width="0.9"/>
<text x="222.8" y="82.7" font-size="9.2" text-anchor="end" font-family="Liberation Serif, serif" fill="#111" stroke="#111" stroke-width="0.3" >5.7</text>
<text x="222.8" y="61.99" font-size="9.2" text-anchor="end" font-family="Liberation Serif, serif" fill="#111" stroke="#111" stroke-width="0.3" >6.0</text>
<text x="222.8" y="41.27" font-size="9.2" text-anchor="end" font-family="Liberation Serif, serif" fill="#111" stroke="#111" stroke-width="0.3" >6.3</text>
<text x="222.8" y="20.56" font-size="9.2" text-anchor="end" font-family="Liberation Serif, serif" fill="#111" stroke="#111" stroke-width="0.3" >6.6</text>
<text x="244.68" y="91.0" font-size="9.2" text-anchor="middle" font-family="Liberation Serif, serif" fill="#111" stroke="#111" stroke-width="0.3" >51</text>
<text x="267.66" y="91.0" font-size="9.2" text-anchor="middle" font-family="Liberation Serif, serif" fill="#111" stroke="#111" stroke-width="0.3" >54</text>
<text x="290.64" y="91.0" font-size="9.2" text-anchor="middle" font-family="Liberation Serif, serif" fill="#111" stroke="#111" stroke-width="0.3" >57</text>
<text x="313.62" y="91.0" font-size="9.2" text-anchor="middle" font-family="Liberation Serif, serif" fill="#111" stroke="#111" stroke-width="0.3" >60</text>
<text x="336.6" y="91.0" font-size="9.2" text-anchor="middle" font-family="Liberation Serif, serif" fill="#111" stroke="#111" stroke-width="0.3" >63</text>
<line x1="224.3" y1="190" x2="224.3" y2="278.2" stroke="#999" stroke-width="1.2"/>
<line x1="221.3" y1="278.2" x2="341.3" y2="278.2" stroke="#333" stroke-width="1.1"/>
<line x1="222.10000000000002" y1="268.4" x2="224.3" y2="268.4" stroke="#444" stroke-width="0.9"/>
<line x1="223.10000000000002" y1="256.15" x2="224.3" y2="256.15" stroke="#444" stroke-width="0.9"/>
<line x1="222.10000000000002" y1="243.9" x2="224.3" y2="243.9" stroke="#444" stroke-width="0.9"/>
<line x1="223.10000000000002" y1="231.65" x2="224.3" y2="231.65" stroke="#444" stroke-width="0.9"/>
<line x1="222.10000000000002" y1="219.4" x2="224.3" y2="219.4" stroke="#444" stroke-width="0.9"/>
<line x1="223.10000000000002" y1="207.15" x2="224.3" y2="207.15" stroke="#444" stroke-width="0.9"/>
<line x1="222.10000000000002" y1="194.9" x2="224.3" y2="194.9" stroke="#444" stroke-width="0.9"/>
<line x1="224.3" y1="278.2" x2="224.3" y2="279.5" stroke="#444" stroke-width="0.9"/>
<line x1="236.82" y1="278.2" x2="236.82" y2="280.8" stroke="#444" stroke-width="0.9"/>
<line x1="249.35" y1="278.2" x2="249.35" y2="279.5" stroke="#444" stroke-width="0.9"/>
<line x1="261.88" y1="278.2" x2="261.88" y2="280.8" stroke="#444" stroke-width="0.9"/>
<line x1="274.4" y1="278.2" x2="274.4" y2="279.5" stroke="#444" stroke-width="0.9"/>
<line x1="286.92" y1="278.2" x2="286.92" y2="280.8" stroke="#444" stroke-width="0.9"/>
<line x1="299.45" y1="278.2" x2="299.45" y2="279.5" stroke="#444" stroke-width="0.9"/>
<line x1="311.98" y1="278.2" x2="311.98" y2="280.8" stroke="#444" stroke-width="0.9"/>
<line x1="324.5" y1="278.2" x2="324.5" y2="279.5" stroke="#444" stroke-width="0.9"/>
<line x1="337.02" y1="278.2" x2="337.02" y2="280.8" stroke="#444" stroke-width="0.9"/>
<text x="221.8" y="271.7" font-size="9.2" text-anchor="end" font-family="Liberation Serif, serif" fill="#111" stroke="#111" stroke-width="0.3" >1</text>
<text x="221.8" y="247.2" font-size="9.2" text-anchor="end" font-family="Liberation Serif, serif" fill="#111" stroke="#111" stroke-width="0.3" >2</text>
<text x="221.8" y="222.7" font-size="9.2" text-anchor="end" font-family="Liberation Serif, serif" fill="#111" stroke="#111" stroke-width="0.3" >3</text>
<text x="221.8" y="198.2" font-size="9.2" text-anchor="end" font-family="Liberation Serif, serif" fill="#111" stroke="#111" stroke-width="0.3" >4</text>
<text x="236.83" y="288.6" font-size="9.2" text-anchor="middle" font-family="Liberation Serif, serif" fill="#111" stroke="#111" stroke-width="0.3" >42</text>
<text x="261.88" y="288.6" font-size="9.2" text-anchor="middle" font-family="Liberation Serif, serif" fill="#111" stroke="#111" stroke-width="0.3" >45</text>
<text x="286.93" y="288.6" font-size="9.2" text-anchor="middle" font-family="Liberation Serif, serif" fill="#111" stroke="#111" stroke-width="0.3" >48</text>
<text x="311.98" y="288.6" font-size="9.2" text-anchor="middle" font-family="Liberation Serif, serif" fill="#111" stroke="#111" stroke-width="0.3" >51</text>
<text x="337.02" y="288.6" font-size="9.2" text-anchor="middle" font-family="Liberation Serif, serif" fill="#111" stroke="#111" stroke-width="0.3" >54</text>
</svg>
</body></html>
